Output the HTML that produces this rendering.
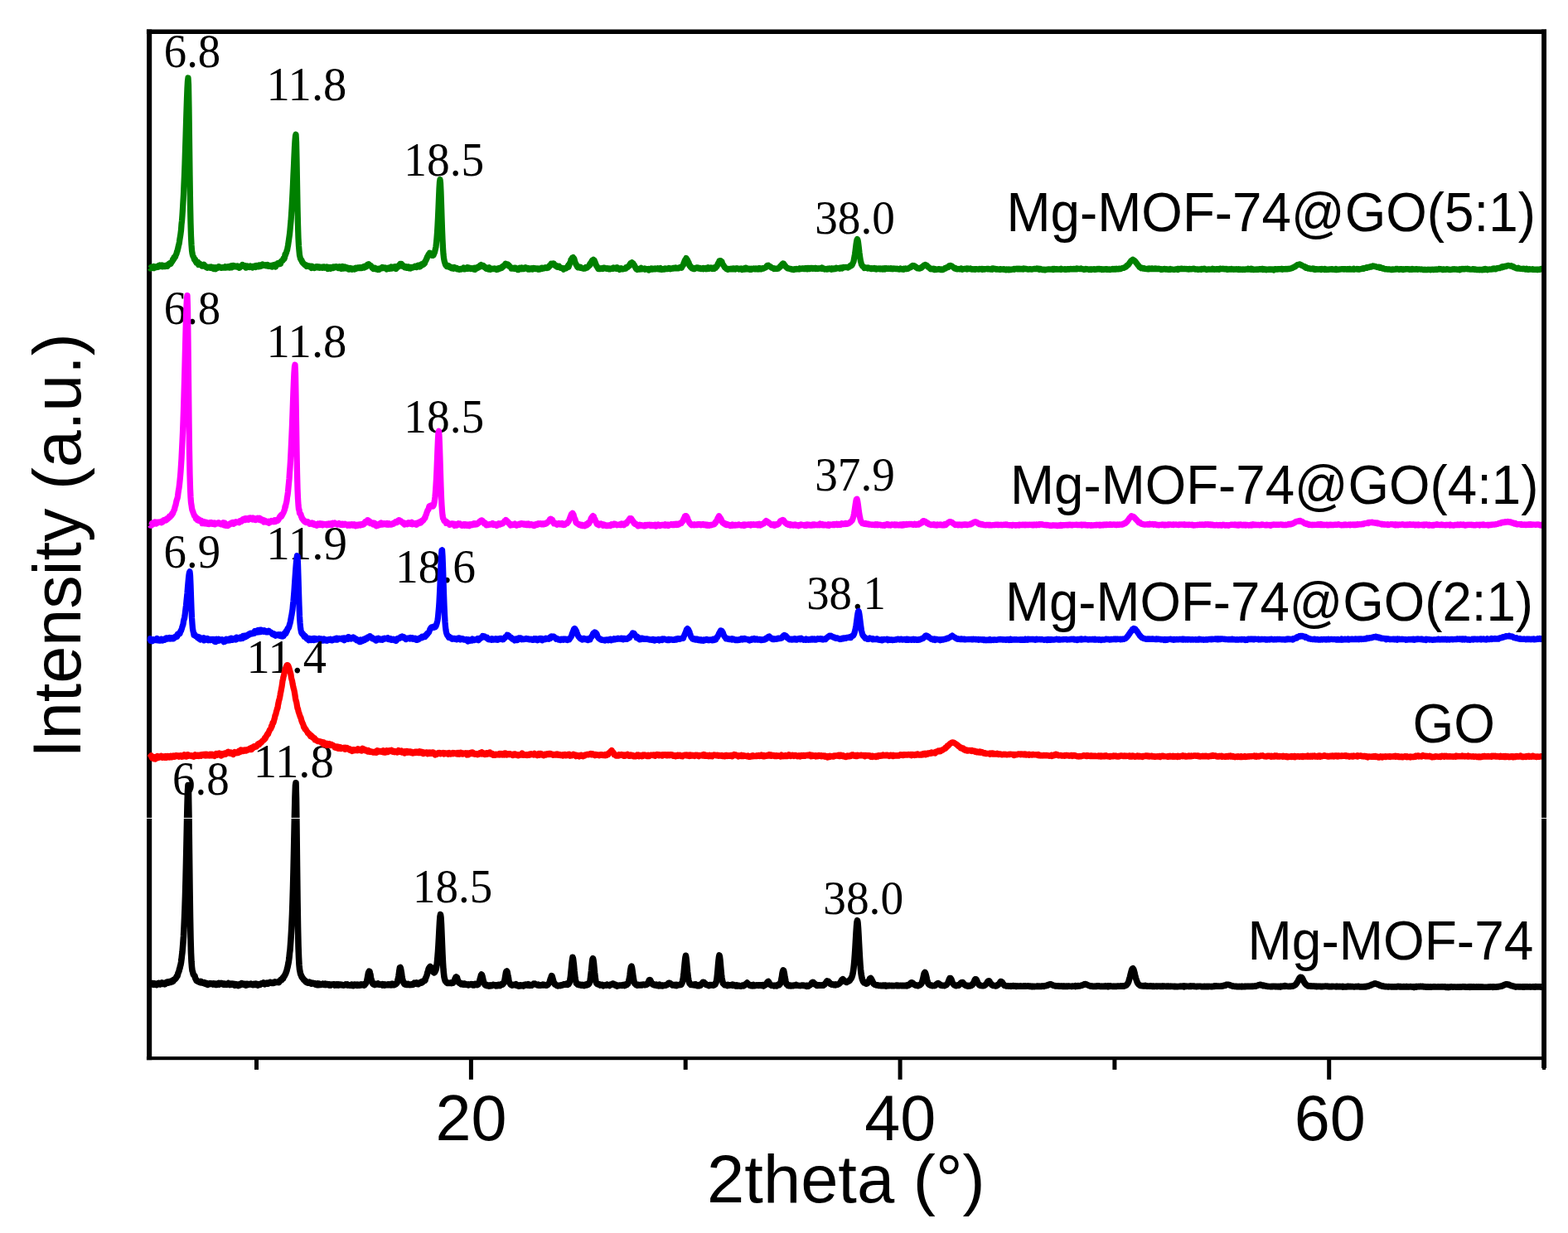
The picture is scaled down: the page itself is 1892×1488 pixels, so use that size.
<!DOCTYPE html>
<html lang="en"><head><meta charset="utf-8"><title>XRD patterns</title>
<style>html,body{margin:0;padding:0;background:#fff}body{width:1892px;height:1488px;overflow:hidden}svg{display:block}</style>
</head><body>
<svg xmlns="http://www.w3.org/2000/svg" width="<function W at 0x7f1a8ab4e2a0>" height="1488" viewBox="0 0 <function W at 0x7f1a8ab4e2a0> 1488">
<rect width="<function W at 0x7f1a8ab4e2a0>" height="1488" fill="#fff"/>
<g id="axes" fill="#000">
<rect x="177.1" y="35.5" width="6.1" height="1243.7"/>
<rect x="176.9" y="35.5" width="1689.1" height="5.5"/>
<rect x="176.9" y="1275" width="1689.1" height="4.2"/>
<rect x="307.0" y="1277" width="5" height="13.9"/>
<rect x="565.9" y="1277" width="5" height="25.8"/>
<rect x="824.7" y="1277" width="5" height="13.9"/>
<rect x="1083.6" y="1277" width="5" height="25.8"/>
<rect x="1342.4" y="1277" width="5" height="13.9"/>
<rect x="1601.2" y="1277" width="5" height="25.8"/>
</g>
<g id="axis-labels" font-family="'Liberation Sans', 'DejaVu Sans', sans-serif" fill="#000">
<text x="568.6" y="1376.1" font-size="77.3" text-anchor="middle">20</text>
<text x="1086.3" y="1376.1" font-size="77.3" text-anchor="middle">40</text>
<text x="1604.8" y="1376.1" font-size="77.3" text-anchor="middle">60</text>
<text transform="translate(853.03 1451.3) scale(0.9923 1)" font-size="82.0">2theta (°)</text>
<text transform="translate(96.5 914.68) rotate(-90) scale(0.9861 1)" font-size="82.0">Intensity (a.u.)</text>
</g>
<g id="green">
<g font-family="'Liberation Serif', 'DejaVu Serif', serif" fill="#000">
<text transform="translate(197.81 80.5) scale(0.9426 1)" font-size="58.03">6.8</text>
<text transform="translate(321.39 121.1) scale(0.9754 1)" font-size="58.03">11.8</text>
<text transform="translate(487.29 211.8) scale(0.9544 1)" font-size="58.03">18.5</text>
<text transform="translate(983.24 282.0) scale(0.9509 1)" font-size="58.03">38.0</text>
</g>
<g font-family="'Liberation Sans', 'DejaVu Sans', sans-serif" fill="#000"><text transform="translate(1214.5 279.3) scale(0.9604 1)" font-size="66.38">Mg-MOF-74@GO(5:1)</text></g>
<path fill="none" stroke="#008000" stroke-width="7.3" stroke-linejoin="round" d="M181 323.2l.5 .7 .5 -.3 .5 -1.3 .5 0 .5 -.2 .5 .7 .5 -.4 .5 .6 .5 -1.6 .5 2.2 .5 -1.1 .5 .5 .5 -.7 .5 -.3 .5 .4 .5 .1 .5 -.8 .5 -.1 .5 .5 .5 -1 .5 -.5 .5 1.2 .5 -.8 .5 -.9 .5 .6 .5 .2 .5 -.6 .5 -.2 .5 .9 .5 .6 .5 -.8 .5 -.3 .5 .8 .5 .2 .5 -.7 .5 .6 .5 .2 .5 -.8 .5 -.5 .5 .7 .5 -.2 .5 .4 .5 -1.7 .5 .1 .5 -.4 .5 -1 .5 .8 .5 -.2 .5 -1.3 .5 .8 .5 -1 .5 -.8 .5 -.8 .5 -.3 .5 -2.2 .5 .5 .5 -.7 .5 -2.2 .5 .6 .5 -1.2 .5 -.3 .5 -1.8 .5 -.9 .5 -1.1 .5 -2.3 .5 -.8 .5 -2.4 .5 -1.7 .5 -2.8 .5 -1.5 .5 -3 .5 -3.5 .5 -2.9 .5 -3.5 .5 -4 .5 -7 .5 -4.1 .5 -6.8 .5 -7.7 .5 -9 .5 -8.1 .5 -12.4 .5 -11.1 .5 -13.1 .5 -16.3 .5 -15.3 .5 -16.8 .5 -15.8 .5 -14.9 .5 -12.6 .5 -9 .5 -3.7 .5 8.2 .5 29.6 .5 39.7 .5 39.2 .5 33.5 .5 24.5 .5 16.5 .5 10.1 .5 6.8 .5 3.6 .5 2.1 .5 1.5 .5 .5 .5 1.5 .5 1.9 .5 -.1 .5 0 .5 2.4 .5 .1 .5 1.5 .5 -.8 .5 .1 .5 -.2 .5 2.1 .5 1.1 .5 -1.8 .5 .4 .5 1.1 .5 -.5 .5 .7 .5 .3 .5 .6 .5 .7 .5 -.6 .5 .7 .5 -.8 .5 .5 .5 -1.5 .5 .6 .5 1.5 .5 -.6 .5 1 .5 .3 .5 .8 .5 0 .5 .4 .5 -.5 .5 -.2 .5 0 .5 .2 .5 -.4 .5 .4 .5 .3 .5 .3 .5 -.3 .5 -1 .5 1.2 .5 .2 .5 .5 .5 -.4 .5 -.7 .5 -.1 .5 1.7 .5 -.7 .5 .7 .5 .2 .5 -1.8 .5 .8 .5 0 .5 0 .5 -.1 .5 -.4 .5 -.2 .5 -1.1 .5 .8 .5 -.4 .5 .6 .5 -.3 .5 .7 .5 .2 .5 -.3 .5 0 .5 -.1 .5 -.4 .5 .2 .5 -.3 .5 .5 .5 -.3 .5 .3 .5 -1.2 .5 1.3 .5 -1 .5 0 .5 .3 .5 -.3 .5 .5 .5 -.5 .5 -.4 .5 .1 .5 1.3 .5 -.8 .5 -.9 .5 .6 .5 -1 .5 1.9 .5 -2.1 .5 1.1 .5 -.1 .5 -1.3 .5 .9 .5 .4 .5 -.5 .5 -.2 .5 .5 .5 -.4 .5 .2 .5 -.1 .5 .6 .5 -.7 .5 1.2 .5 -.6 .5 -.3 .5 .9 .5 .8 .5 -.6 .5 -1.1 .5 .5 .5 -.9 .5 -.1 .5 0 .5 -1.5 .5 1.5 .5 -.7 .5 .3 .5 -.3 .5 .2 .5 .5 .5 1.3 .5 .6 .5 -.9 .5 .8 .5 -.8 .5 -1 .5 1.2 .5 .1 .5 -.5 .5 .4 .5 .2 .5 -.9 .5 -.4 .5 .8 .5 -.1 .5 -.1 .5 .8 .5 .4 .5 -1.4 .5 .6 .5 .1 .5 -.3 .5 .1 .5 -.9 .5 .5 .5 .7 .5 -.8 .5 -1 .5 .7 .5 .4 .5 -.6 .5 -.5 .5 1.3 .5 -1.7 .5 1.1 .5 -.4 .5 -.8 .5 1.4 .5 -.6 .5 -1 .5 1 .5 -.7 .5 -1 .5 .6 .5 .5 .5 .1 .5 -.3 .5 -.1 .5 .3 .5 -.4 .5 .9 .5 -.6 .5 .2 .5 .2 .5 -.9 .5 .2 .5 1.4 .5 -.6 .5 -.2 .5 .5 .5 -.3 .5 .7 .5 -.4 .5 .7 .5 -1.1 .5 1.6 .5 -1.2 .5 -.8 .5 .6 .5 -.3 .5 .1 .5 -.9 .5 .8 .5 1.7 .5 -3 .5 .8 .5 -.6 .5 0 .5 -1.5 .5 .1 .5 .6 .5 -.6 .5 .7 .5 -1.7 .5 .2 .5 1.3 .5 -2.6 .5 -.6 .5 0 .5 -.6 .5 -.2 .5 -1.1 .5 -1.3 .5 -.2 .5 .5 .5 -1.7 .5 -3.4 .5 .4 .5 -1.8 .5 -.8 .5 -2.3 .5 -.8 .5 -2.9 .5 -2.6 .5 -3.4 .5 -3.4 .5 -3.5 .5 -3.6 .5 -5 .5 -5.8 .5 -5 .5 -7.3 .5 -7.7 .5 -8.9 .5 -9.4 .5 -10.5 .5 -12 .5 -10.3 .5 -11.7 .5 -10.7 .5 -8.4 .5 -5.7 .5 -1.9 .5 8.9 .5 22.8 .5 28.2 .5 27.2 .5 22.1 .5 15.9 .5 9.4 .5 6 .5 5.2 .5 2.1 .5 2.2 .5 .7 .5 1.2 .5 0 .5 1.9 .5 .2 .5 1.2 .5 .6 .5 .2 .5 .7 .5 .3 .5 .7 .5 .2 .5 -.4 .5 .2 .5 1.5 .5 -.9 .5 .8 .5 -.1 .5 -.4 .5 .1 .5 .7 .5 .2 .5 .4 .5 -.8 .5 .5 .5 .4 .5 1.1 .5 -2.1 .5 1.6 .5 -.5 .5 .5 .5 -.5 .5 .4 .5 .6 .5 -.8 .5 0 .5 -.1 .5 -.6 .5 .7 .5 -.5 .5 -.3 .5 .5 .5 -.1 .5 .6 .5 -.4 .5 -.3 .5 1.1 .5 -.3 .5 .2 .5 -.4 .5 -.3 .5 -.2 .5 .2 .5 .8 .5 -.4 .5 -.8 .5 .9 .5 -.7 .5 .9 .5 -.7 .5 0 .5 .7 .5 -.1 .5 -.8 .5 1.3 .5 .9 .5 -2 .5 1.9 .5 -1.3 .5 .1 .5 .2 .5 -.7 .5 1.6 .5 -.4 .5 -.7 .5 .2 .5 -.8 .5 .5 .5 .5 .5 -1.6 .5 .5 .5 .2 .5 .3 .5 0 .5 -1 .5 -.2 .5 .6 .5 -.3 .5 .1 .5 .8 .5 .5 .5 -.7 .5 -.1 .5 .5 .5 -1.2 .5 1.1 .5 -.6 .5 2 .5 -1 .5 -.3 .5 -.2 .5 -1.3 .5 1.7 .5 .5 .5 -1.3 .5 .7 .5 0 .5 -1.2 .5 1.4 .5 .4 .5 -.4 .5 0 .5 .7 .5 -1.1 .5 1.1 .5 .8 .5 -1.1 .5 1.3 .5 -.7 .5 -.8 .5 1.1 .5 -.5 .5 .7 .5 -.9 .5 1.2 .5 -1 .5 .6 .5 -.6 .5 .1 .5 .7 .5 -.6 .5 -.4 .5 -.6 .5 1.1 .5 -.4 .5 -.7 .5 .2 .5 -.8 .5 0 .5 0 .5 .7 .5 -.1 .5 -.6 .5 .8 .5 0 .5 -.4 .5 .3 .5 -.8 .5 -.1 .5 .2 .5 -.3 .5 .3 .5 -1.1 .5 1.4 .5 -1.3 .5 .2 .5 -.8 .5 .8 .5 0 .5 -.5 .5 -.5 .5 -1.7 .5 .1 .5 -.1 .5 -.4 .5 1.2 .5 -.3 .5 .3 .5 .8 .5 -.2 .5 .6 .5 .6 .5 1.3 .5 .3 .5 .5 .5 .5 .5 -1.2 .5 .5 .5 .4 .5 -.8 .5 .5 .5 .9 .5 .1 .5 .1 .5 -.4 .5 -.1 .5 .8 .5 -.8 .5 .3 .5 .4 .5 -1.1 .5 -.3 .5 .2 .5 .1 .5 -.2 .5 -.3 .5 .1 .5 -1.2 .5 .4 .5 .6 .5 -.5 .5 -.2 .5 .2 .5 .2 .5 .5 .5 -.4 .5 .8 .5 .8 .5 -1 .5 .8 .5 -.5 .5 -.8 .5 .4 .5 -.4 .5 .8 .5 -1.2 .5 1.1 .5 -.6 .5 -1.5 .5 1.4 .5 .4 .5 -1.2 .5 1 .5 -1.4 .5 1.1 .5 -.9 .5 1.2 .5 -1.2 .5 -.5 .5 1.6 .5 .8 .5 -1.7 .5 .5 .5 -.7 .5 -.6 .5 .1 .5 0 .5 -2 .5 .4 .5 -.6 .5 -1.3 .5 1.3 .5 .1 .5 -1.3 .5 1.7 .5 -.5 .5 .4 .5 1.4 .5 -.2 .5 .4 .5 1 .5 .1 .5 0 .5 -1 .5 -.1 .5 1.5 .5 -1 .5 .5 .5 -.6 .5 .5 .5 -.5 .5 1.6 .5 -1.3 .5 .5 .5 .1 .5 .8 .5 -1.4 .5 .7 .5 -.1 .5 .2 .5 -.2 .5 -.7 .5 .2 .5 -.5 .5 .2 .5 -.4 .5 -.5 .5 .2 .5 .1 .5 .9 .5 -1.4 .5 .3 .5 .6 .5 -1.8 .5 .1 .5 .2 .5 .4 .5 1.1 .5 -1.2 .5 .3 .5 -1 .5 -1.3 .5 -.2 .5 1.5 .5 -.7 .5 -1 .5 .8 .5 -1.8 .5 .8 .5 -.6 .5 -2 .5 -1.1 .5 -.1 .5 -2.1 .5 -.2 .5 -2.2 .5 -.1 .5 -1.4 .5 -1.1 .5 -.9 .5 .1 .5 -1.3 .5 .8 .5 .2 .5 .8 .5 -.6 .5 1.8 .5 -.8 .5 -.3 .5 1.2 .5 -.1 .5 -1.5 .5 -1.3 .5 -.9 .5 -2.2 .5 -2.3 .5 -2.3 .5 -4.7 .5 -5.5 .5 -6.5 .5 -8.4 .5 -9.6 .5 -11.4 .5 -12.3 .5 -11.3 .5 -8.4 .5 -3 .5 4.2 .5 11.1 .5 14.9 .5 15.7 .5 15.2 .5 11.9 .5 9.8 .5 7.3 .5 4.6 .5 2.9 .5 2.1 .5 1.4 .5 1.8 .5 -.3 .5 .6 .5 1.6 .5 -1 .5 1.3 .5 .1 .5 -.5 .5 -.4 .5 1.1 .5 .4 .5 .4 .5 -.2 .5 .7 .5 .3 .5 -1.1 .5 1.3 .5 -.5 .5 -.3 .5 .1 .5 1.1 .5 -.3 .5 -1.3 .5 1 .5 .1 .5 .1 .5 0 .5 -.3 .5 1.3 .5 -.8 .5 .4 .5 .1 .5 0 .5 .8 .5 -.2 .5 -.5 .5 -.3 .5 .1 .5 .6 .5 -.6 .5 0 .5 -.4 .5 -.1 .5 .2 .5 -1 .5 1.7 .5 -1.2 .5 .1 .5 .9 .5 -.7 .5 -.1 .5 -.4 .5 -.6 .5 .8 .5 .5 .5 -1.1 .5 1.2 .5 -1.2 .5 .3 .5 .7 .5 0 .5 .5 .5 -.5 .5 0 .5 -.3 .5 .4 .5 .1 .5 -.2 .5 .8 .5 -.6 .5 -.8 .5 2 .5 -1.8 .5 -.3 .5 1 .5 -.2 .5 -1.3 .5 -.4 .5 0 .5 .7 .5 -1 .5 -.6 .5 0 .5 .3 .5 -1.6 .5 .2 .5 -.7 .5 1.6 .5 -.1 .5 -.2 .5 -.2 .5 .7 .5 -.9 .5 1.6 .5 -.4 .5 .4 .5 .7 .5 .5 .5 .7 .5 .2 .5 -.1 .5 -.5 .5 .8 .5 -.3 .5 .6 .5 -1 .5 -.9 .5 1.1 .5 1.3 .5 -.8 .5 -.3 .5 .6 .5 -.1 .5 0 .5 -.4 .5 .2 .5 .1 .5 -.4 .5 -.3 .5 .5 .5 .4 .5 -.2 .5 -.1 .5 0 .5 .9 .5 -1.2 .5 .3 .5 .3 .5 -1.1 .5 0 .5 .3 .5 .2 .5 -.7 .5 0 .5 -.2 .5 -.8 .5 .9 .5 -.8 .5 -1 .5 .4 .5 -1.2 .5 -.2 .5 -.1 .5 -1 .5 .4 .5 -1.6 .5 .4 .5 -.1 .5 .4 .5 -.1 .5 0 .5 .4 .5 .5 .5 1.1 .5 -.3 .5 1.1 .5 .2 .5 .6 .5 .2 .5 1.4 .5 -1 .5 .6 .5 .2 .5 .2 .5 0 .5 0 .5 .2 .5 -1.1 .5 .7 .5 -.5 .5 .8 .5 -.5 .5 .2 .5 .6 .5 .8 .5 -.3 .5 -.1 .5 .4 .5 -1.2 .5 -.7 .5 .6 .5 -.2 .5 .5 .5 .3 .5 -1.7 .5 1.6 .5 -.4 .5 -.3 .5 -.2 .5 .9 .5 -1 .5 -.3 .5 .3 .5 -.6 .5 .9 .5 -.2 .5 .4 .5 .1 .5 -.5 .5 1.3 .5 -1 .5 1 .5 -1 .5 1 .5 -.5 .5 .4 .5 -.3 .5 -.6 .5 .4 .5 .5 .5 .2 .5 -1.1 .5 -.4 .5 .4 .5 .2 .5 -.2 .5 -.2 .5 .8 .5 .1 .5 0 .5 -.6 .5 .6 .5 -.1 .5 -.5 .5 1.1 .5 -.5 .5 -.3 .5 .7 .5 -.4 .5 0 .5 0 .5 -.3 .5 -.9 .5 .3 .5 .5 .5 -.9 .5 .3 .5 0 .5 .3 .5 -.2 .5 -.3 .5 -.6 .5 .4 .5 -.2 .5 -.3 .5 .6 .5 -.4 .5 -.6 .5 .7 .5 -.9 .5 0 .5 -1.3 .5 .2 .5 -1 .5 -.6 .5 -1 .5 1.3 .5 -1.4 .5 -.1 .5 .3 .5 -.4 .5 .6 .5 -.3 .5 1.1 .5 .3 .5 .9 .5 .3 .5 -.4 .5 .1 .5 .6 .5 1 .5 0 .5 0 .5 -.9 .5 -.2 .5 1.1 .5 .3 .5 .1 .5 .7 .5 0 .5 -.3 .5 .3 .5 .6 .5 0 .5 0 .5 1.1 .5 -1.1 .5 .2 .5 -.6 .5 .2 .5 .2 .5 -.1 .5 -.6 .5 -.1 .5 -.4 .5 -1.3 .5 -1.1 .5 1.8 .5 -1.4 .5 -1.3 .5 -1.8 .5 -1 .5 -.2 .5 -3.2 .5 -.3 .5 -.7 .5 -1.2 .5 -.1 .5 -.3 .5 1.6 .5 -.5 .5 1.1 .5 2.1 .5 1.9 .5 .7 .5 1.7 .5 .3 .5 .6 .5 1.8 .5 .5 .5 .3 .5 -.6 .5 -.1 .5 .1 .5 .5 .5 .5 .5 .1 .5 -.6 .5 .8 .5 .1 .5 .1 .5 .1 .5 0 .5 .4 .5 -.2 .5 0 .5 -.5 .5 .4 .5 -.4 .5 -1 .5 .9 .5 -.6 .5 .2 .5 -.8 .5 -.4 .5 -.2 .5 -.6 .5 -.7 .5 -1.3 .5 .8 .5 -2.3 .5 -.5 .5 -.6 .5 -1.1 .5 -.8 .5 -.6 .5 -.2 .5 -.4 .5 1.5 .5 -.8 .5 1.5 .5 1 .5 1.1 .5 1.5 .5 1.6 .5 .1 .5 .9 .5 1.3 .5 .6 .5 1 .5 0 .5 -.2 .5 -.1 .5 .3 .5 -.2 .5 -.6 .5 .5 .5 -.3 .5 -.1 .5 -.3 .5 .8 .5 -.5 .5 0 .5 -.7 .5 -.1 .5 .3 .5 .3 .5 -.1 .5 .2 .5 .6 .5 -.2 .5 -.4 .5 .3 .5 0 .5 .5 .5 -.5 .5 .4 .5 .4 .5 -.3 .5 -.5 .5 0 .5 .2 .5 0 .5 0 .5 -.5 .5 -.6 .5 1.1 .5 -.6 .5 .1 .5 0 .5 -.5 .5 .3 .5 .4 .5 .4 .5 -.3 .5 -1.3 .5 1.2 .5 .3 .5 .5 .5 -.2 .5 .7 .5 -.4 .5 0 .5 -.2 .5 -.9 .5 1 .5 -.1 .5 -.4 .5 .5 .5 -.1 .5 -.3 .5 0 .5 -.1 .5 .1 .5 -.5 .5 .2 .5 -1.2 .5 .4 .5 -.9 .5 0 .5 0 .5 -.7 .5 -.6 .5 -.5 .5 0 .5 -1.7 .5 .1 .5 -1.5 .5 -.1 .5 -.1 .5 -.5 .5 .6 .5 .7 .5 -.2 .5 1.2 .5 .7 .5 .3 .5 1.5 .5 .5 .5 1.5 .5 -.3 .5 1.4 .5 -.5 .5 1.2 .5 -.5 .5 .1 .5 .1 .5 0 .5 .1 .5 0 .5 -.9 .5 -.3 .5 -.6 .5 .9 .5 .5 .5 -.1 .5 0 .5 -.2 .5 0 .5 .1 .5 .3 .5 -.8 .5 1 .5 -.9 .5 .6 .5 -.2 .5 .2 .5 -.2 .5 0 .5 .4 .5 -.4 .5 1.4 .5 -1.1 .5 -.1 .5 0 .5 -.2 .5 -.6 .5 .9 .5 .2 .5 -.7 .5 .5 .5 -.5 .5 .4 .5 .1 .5 -.1 .5 -.1 .5 -.5 .5 .5 .5 -.5 .5 .3 .5 .1 .5 -.4 .5 -.3 .5 .7 .5 -.6 .5 .1 .5 -.1 .5 .8 .5 -.4 .5 -.7 .5 1.2 .5 .5 .5 0 .5 -.9 .5 .2 .5 .2 .5 .2 .5 -.4 .5 -.4 .5 .7 .5 -.1 .5 -.8 .5 .3 .5 .2 .5 -.2 .5 .2 .5 0 .5 -.2 .5 -.3 .5 -.6 .5 .7 .5 .3 .5 .2 .5 -.8 .5 0 .5 .5 .5 0 .5 -.4 .5 .1 .5 -.6 .5 .5 .5 -.5 .5 .3 .5 0 .5 -.2 .5 -.6 .5 .5 .5 .4 .5 -.2 .5 -.2 .5 .2 .5 .1 .5 0 .5 -.7 .5 .2 .5 -.2 .5 -.3 .5 -.3 .5 .3 .5 -.5 .5 .8 .5 -1.4 .5 -.7 .5 -.9 .5 -.2 .5 -2.3 .5 -1 .5 -1.5 .5 -1 .5 -1 .5 -.3 .5 -1.2 .5 .8 .5 1.2 .5 .2 .5 1.4 .5 1 .5 .7 .5 2.1 .5 1.5 .5 .3 .5 .2 .5 1.4 .5 .4 .5 .7 .5 .3 .5 -.2 .5 .4 .5 -.7 .5 1.2 .5 -.3 .5 .4 .5 -.1 .5 -.6 .5 0 .5 -.4 .5 -.5 .5 .6 .5 .1 .5 -.5 .5 .7 .5 -.2 .5 .3 .5 -.4 .5 -.2 .5 1 .5 .1 .5 -.3 .5 -.1 .5 .1 .5 0 .5 -.1 .5 -.5 .5 1 .5 -.8 .5 .4 .5 0 .5 .2 .5 -.7 .5 1 .5 -.2 .5 0 .5 .1 .5 -.9 .5 -.9 .5 1.2 .5 .3 .5 -.1 .5 -.7 .5 .2 .5 .1 .5 -.8 .5 .5 .5 0 .5 .8 .5 -.8 .5 .7 .5 -.6 .5 -.6 .5 1.3 .5 -1.3 .5 .4 .5 0 .5 -1.2 .5 -.8 .5 .1 .5 -1.2 .5 -1.4 .5 -1 .5 -.9 .5 -.6 .5 -1.4 .5 -.3 .5 0 .5 0 .5 .5 .5 .7 .5 0 .5 2.1 .5 .8 .5 .8 .5 .6 .5 .7 .5 .9 .5 .9 .5 .1 .5 .6 .5 .3 .5 .8 .5 -.2 .5 .2 .5 .7 .5 -.5 .5 .3 .5 -.5 .5 .4 .5 -.1 .5 0 .5 -.3 .5 -.3 .5 .2 .5 -.1 .5 .5 .5 0 .5 -.8 .5 .7 .5 -.4 .5 .3 .5 -.3 .5 -.3 .5 .9 .5 -.3 .5 -.6 .5 -.2 .5 .4 .5 -.2 .5 .3 .5 .3 .5 .3 .5 -.6 .5 .6 .5 0 .5 -.5 .5 -.3 .5 .9 .5 -.1 .5 .6 .5 -.4 .5 -.2 .5 .2 .5 -1 .5 .3 .5 -.2 .5 .6 .5 -.4 .5 -1.2 .5 1.5 .5 -.7 .5 .6 .5 -.3 .5 .3 .5 .2 .5 -.1 .5 -.4 .5 .8 .5 -.3 .5 -.1 .5 .2 .5 -.5 .5 .8 .5 -.6 .5 0 .5 0 .5 -.5 .5 -.1 .5 .4 .5 .1 .5 .3 .5 -.3 .5 -.5 .5 .6 .5 .1 .5 .1 .5 -.2 .5 -.5 .5 .8 .5 -.7 .5 .4 .5 -.7 .5 .7 .5 -.5 .5 .6 .5 .2 .5 -.2 .5 -.8 .5 -.1 .5 -.1 .5 .4 .5 -.3 .5 -.2 .5 -.2 .5 -.2 .5 -.3 .5 -.1 .5 -.9 .5 -.3 .5 -1.1 .5 -.1 .5 .1 .5 -.2 .5 .6 .5 .5 .5 -.2 .5 .4 .5 .3 .5 .6 .5 0 .5 .6 .5 .1 .5 .2 .5 .3 .5 -.1 .5 .2 .5 .6 .5 -.4 .5 .4 .5 -.2 .5 -.1 .5 .1 .5 -.1 .5 .2 .5 -.3 .5 -.1 .5 .2 .5 -.7 .5 0 .5 -.7 .5 -.3 .5 -1.1 .5 -.4 .5 .1 .5 -1.2 .5 -.5 .5 -.7 .5 -.1 .5 -.6 .5 .3 .5 .8 .5 .8 .5 .3 .5 .8 .5 .7 .5 .7 .5 .3 .5 .4 .5 .7 .5 -.3 .5 .4 .5 .2 .5 0 .5 .4 .5 -.1 .5 .2 .5 -.1 .5 .2 .5 .5 .5 0 .5 -.1 .5 .3 .5 -.1 .5 0 .5 .3 .5 -.7 .5 .2 .5 -.1 .5 -.2 .5 -.3 .5 .6 .5 -.1 .5 -.1 .5 0 .5 .1 .5 -.3 .5 .3 .5 -.7 .5 .5 .5 -.6 .5 .3 .5 .2 .5 -.5 .5 -.1 .5 .2 .5 -.3 .5 0 .5 .1 .5 .6 .5 -.2 .5 0 .5 -.5 .5 .6 .5 -.6 .5 .5 .5 -.5 .5 .9 .5 -1.2 .5 .9 .5 -.1 .5 -.8 .5 .5 .5 .5 .5 -.1 .5 -.9 .5 .2 .5 -.3 .5 -.1 .5 .1 .5 .7 .5 -.5 .5 -.1 .5 0 .5 .4 .5 .1 .5 -.5 .5 .8 .5 -.8 .5 .3 .5 .2 .5 .3 .5 -.6 .5 .1 .5 .3 .5 -.3 .5 .1 .5 0 .5 -.3 .5 0 .5 .1 .5 -.2 .5 .5 .5 -1 .5 .5 .5 .8 .5 -.1 .5 -.2 .5 .4 .5 .4 .5 -.4 .5 .4 .5 -.2 .5 0 .5 0 .5 .3 .5 -.7 .5 .2 .5 .2 .5 -.6 .5 -.1 .5 .6 .5 -.2 .5 -.1 .5 .1 .5 -.3 .5 1.1 .5 -1.1 .5 .2 .5 -.3 .5 .2 .5 .5 .5 -.5 .5 .1 .5 -.4 .5 .5 .5 -.5 .5 -.5 .5 .5 .5 -.4 .5 .3 .5 -.1 .5 0 .5 0 .5 -.2 .5 -.2 .5 .8 .5 -.3 .5 0 .5 -.2 .5 -.6 .5 .2 .5 .6 .5 -.8 .5 0 .5 -.5 .5 .2 .5 -.1 .5 0 .5 0 .5 -.2 .5 0 .5 .2 .5 .1 .5 -.2 .5 .4 .5 -.6 .5 -.1 .5 -.4 .5 .2 .5 -.8 .5 -.5 .5 -.1 .5 .1 .5 -.9 .5 .2 .5 -1.1 .5 -1.3 .5 -.9 .5 -1.2 .5 -2.8 .5 -2.8 .5 -2.8 .5 -3.6 .5 -4 .5 -4.1 .5 -3.4 .5 -2.5 .5 -.9 .5 1.1 .5 2.8 .5 3.9 .5 4.3 .5 4.5 .5 3.7 .5 3.4 .5 3 .5 1.8 .5 2 .5 .7 .5 1 .5 .6 .5 .3 .5 .5 .5 .5 .5 .8 .5 -1 .5 .6 .5 0 .5 -.1 .5 .4 .5 -.3 .5 .3 .5 .4 .5 -.8 .5 .7 .5 .1 .5 -.3 .5 .5 .5 .1 .5 -.1 .5 .5 .5 -.7 .5 .6 .5 -.3 .5 -.2 .5 .2 .5 -.1 .5 .3 .5 -.6 .5 .4 .5 0 .5 .6 .5 -.6 .5 .7 .5 -.7 .5 .5 .5 -.1 .5 .1 .5 -.3 .5 -.4 .5 .1 .5 .7 .5 -.3 .5 -.3 .5 .5 .5 -.4 .5 .1 .5 -.1 .5 .6 .5 .2 .5 -.8 .5 .3 .5 .1 .5 .3 .5 -1.2 .5 .6 .5 .1 .5 -.6 .5 .5 .5 -.1 .5 .1 .5 -.3 .5 .2 .5 -.3 .5 .4 .5 -.2 .5 -.1 .5 -.2 .5 .8 .5 -.1 .5 -.1 .5 -.4 .5 .1 .5 .6 .5 -.2 .5 -.5 .5 .3 .5 0 .5 0 .5 -.2 .5 .6 .5 -.1 .5 -.2 .5 -.3 .5 .3 .5 .2 .5 .3 .5 -.3 .5 .4 .5 -.2 .5 -.2 .5 -.5 .5 .4 .5 0 .5 .3 .5 0 .5 .2 .5 -.4 .5 -.3 .5 .8 .5 -.6 .5 -.2 .5 0 .5 -.3 .5 .5 .5 -.1 .5 .3 .5 -.2 .5 -.2 .5 0 .5 -.5 .5 -.2 .5 -.1 .5 -.5 .5 .1 .5 -.4 .5 0 .5 -.6 .5 -.8 .5 .2 .5 0 .5 -1 .5 .1 .5 .2 .5 -.2 .5 .4 .5 .5 .5 .1 .5 .8 .5 .4 .5 -.1 .5 .6 .5 .5 .5 -.2 .5 .3 .5 .1 .5 -.3 .5 .3 .5 -.2 .5 -.5 .5 .2 .5 -.2 .5 -.3 .5 -.8 .5 -.2 .5 -.2 .5 -.8 .5 -.2 .5 -.4 .5 -.7 .5 0 .5 -.2 .5 .4 .5 0 .5 .3 .5 .5 .5 .5 .5 .6 .5 .5 .5 0 .5 .5 .5 .6 .5 .4 .5 .1 .5 .8 .5 -.2 .5 -.2 .5 .3 .5 .3 .5 -.2 .5 -.4 .5 .5 .5 .1 .5 .6 .5 -.8 .5 .8 .5 -.4 .5 .3 .5 -.4 .5 .1 .5 .1 .5 -.3 .5 .2 .5 -.3 .5 -.1 .5 .1 .5 0 .5 .1 .5 .5 .5 -.5 .5 -.1 .5 .4 .5 .4 .5 -.2 .5 0 .5 -.2 .5 -.6 .5 0 .5 -.9 .5 .3 .5 0 .5 -.7 .5 -.4 .5 -.2 .5 .1 .5 -.1 .5 0 .5 -.6 .5 -1 .5 -.4 .5 .3 .5 .1 .5 -.6 .5 .3 .5 .2 .5 .3 .5 .2 .5 .5 .5 .4 .5 .2 .5 .4 .5 .6 .5 -.4 .5 .3 .5 .6 .5 .5 .5 -.2 .5 .3 .5 -.3 .5 .3 .5 -.3 .5 .3 .5 -.1 .5 0 .5 .2 .5 -.1 .5 -.4 .5 .4 .5 -.6 .5 .6 .5 .4 .5 -.5 .5 .1 .5 -.1 .5 .1 .5 -.2 .5 .2 .5 -.2 .5 0 .5 .1 .5 -.1 .5 -.4 .5 .8 .5 -.5 .5 -.4 .5 .6 .5 -.2 .5 .1 .5 .2 .5 -.3 .5 -.4 .5 .6 .5 .2 .5 .2 .5 -.4 .5 .2 .5 .2 .5 -.2 .5 0 .5 .1 .5 -.2 .5 .5 .5 -.6 .5 .2 .5 -.1 .5 -.1 .5 .2 .5 .1 .5 .1 .5 -.2 .5 -.2 .5 .3 .5 -.5 .5 .3 .5 .1 .5 0 .5 -.3 .5 0 .5 .7 .5 -.5 .5 -.2 .5 .1 .5 .2 .5 .2 .5 -.3 .5 .2 .5 -.3 .5 0 .5 .1 .5 -.3 .5 .1 .5 -.1 .5 0 .5 .4 .5 -.3 .5 .3 .5 -.1 .5 .2 .5 -.1 .5 .3 .5 -.2 .5 -.1 .5 .3 .5 -1 .5 .3 .5 -.4 .5 .5 .5 .1 .5 0 .5 -.1 .5 -.1 .5 .6 .5 -.3 .5 0 .5 -.1 .5 .4 .5 -.1 .5 .1 .5 .1 .5 0 .5 -.2 .5 .4 .5 -.5 .5 -.1 .5 .3 .5 0 .5 0 .5 -.1 .5 .1 .5 -.1 .5 -.2 .5 .5 .5 -.3 .5 .1 .5 .2 .5 -.1 .5 .6 .5 -.8 .5 .1 .5 .2 .5 .3 .5 -.3 .5 -.2 .5 .6 .5 -.4 .5 .1 .5 .3 .5 -.4 .5 .1 .5 .1 .5 -.2 .5 0 .5 -.3 .5 .1 .5 -.3 .5 -.2 .5 .6 .5 -.3 .5 0 .5 -.4 .5 .2 .5 -.1 .5 -.2 .5 .4 .5 -.2 .5 .1 .5 -.3 .5 .5 .5 -.1 .5 -.1 .5 -.2 .5 0 .5 .4 .5 -.3 .5 .1 .5 0 .5 -.2 .5 .5 .5 -.7 .5 .4 .5 -.1 .5 -.3 .5 .4 .5 0 .5 0 .5 -.2 .5 .3 .5 .2 .5 -.1 .5 .3 .5 -.1 .5 -.1 .5 .1 .5 -.4 .5 0 .5 .2 .5 0 .5 .2 .5 0 .5 -.2 .5 0 .5 -.1 .5 -.1 .5 -.1 .5 .2 .5 -.3 .5 0 .5 .1 .5 -.2 .5 .1 .5 -.3 .5 .5 .5 0 .5 .1 .5 .1 .5 -.4 .5 .9 .5 -.4 .5 .1 .5 -.4 .5 .5 .5 .1 .5 -.2 .5 .2 .5 .3 .5 -.3 .5 -.1 .5 .5 .5 -.2 .5 -.1 .5 .5 .5 -.4 .5 -.1 .5 0 .5 -.2 .5 0 .5 0 .5 -.3 .5 .1 .5 .1 .5 0 .5 0 .5 .1 .5 -.1 .5 .1 .5 -.2 .5 0 .5 .2 .5 -.6 .5 .4 .5 .6 .5 -1 .5 .6 .5 -.6 .5 .4 .5 .2 .5 0 .5 -.4 .5 0 .5 0 .5 .4 .5 -.2 .5 .1 .5 0 .5 0 .5 0 .5 -.1 .5 -.4 .5 .6 .5 -.8 .5 .8 .5 -.4 .5 .2 .5 -.1 .5 .1 .5 .1 .5 0 .5 -.2 .5 .4 .5 -.3 .5 .4 .5 -.4 .5 -.1 .5 .2 .5 .1 .5 -.4 .5 .1 .5 .3 .5 -.5 .5 0 .5 .2 .5 -.3 .5 -.2 .5 .2 .5 .4 .5 0 .5 0 .5 0 .5 -.4 .5 .4 .5 0 .5 -.4 .5 .3 .5 -.3 .5 0 .5 0 .5 -.4 .5 .5 .5 -.5 .5 .1 .5 -.1 .5 .2 .5 0 .5 0 .5 .3 .5 -.1 .5 -.1 .5 -.4 .5 .6 .5 .1 .5 0 .5 0 .5 .3 .5 .1 .5 .2 .5 -.1 .5 -.4 .5 .2 .5 -.4 .5 .4 .5 -.1 .5 -.2 .5 .1 .5 0 .5 0 .5 .3 .5 .4 .5 -.4 .5 0 .5 -.2 .5 -.1 .5 .5 .5 -.5 .5 .1 .5 0 .5 .1 .5 -.1 .5 .2 .5 -.4 .5 .3 .5 .3 .5 -.5 .5 .1 .5 .3 .5 -.2 .5 .1 .5 -.6 .5 .4 .5 -.3 .5 -.1 .5 .4 .5 .1 .5 -.5 .5 .1 .5 .1 .5 .2 .5 -.2 .5 .7 .5 -.3 .5 -.1 .5 -.1 .5 .5 .5 0 .5 -.6 .5 .1 .5 .2 .5 -.5 .5 .2 .5 .4 .5 -.4 .5 .2 .5 -.2 .5 .2 .5 .3 .5 -.3 .5 -.1 .5 .1 .5 .5 .5 -.4 .5 -.1 .5 .1 .5 0 .5 -.1 .5 -.4 .5 .4 .5 -.1 .5 .1 .5 -.4 .5 .4 .5 -.3 .5 -.3 .5 .5 .5 -.4 .5 .2 .5 -.2 .5 .3 .5 0 .5 0 .5 -.1 .5 -.5 .5 0 .5 .3 .5 -.3 .5 .2 .5 -.2 .5 -.4 .5 -.1 .5 -.2 .5 -.1 .5 -.1 .5 0 .5 -.1 .5 -.6 .5 -.2 .5 .1 .5 -.4 .5 -.5 .5 -.9 .5 -.1 .5 -.2 .5 -.7 .5 0 .5 -1 .5 -.6 .5 -.9 .5 -.7 .5 -.6 .5 -.7 .5 -.5 .5 -.4 .5 -.4 .5 -.1 .5 -.5 .5 .4 .5 .2 .5 .6 .5 .1 .5 .7 .5 .4 .5 .9 .5 .6 .5 .5 .5 .7 .5 .8 .5 .7 .5 .3 .5 1 .5 .3 .5 .9 .5 .3 .5 -.1 .5 .3 .5 .8 .5 -.2 .5 .1 .5 -.1 .5 .2 .5 .3 .5 0 .5 -.2 .5 .5 .5 -.1 .5 -.1 .5 .4 .5 -.1 .5 .3 .5 -.2 .5 .2 .5 -.4 .5 .4 .5 -.4 .5 .3 .5 -.6 .5 .4 .5 .1 .5 -.1 .5 .1 .5 -.4 .5 .5 .5 .1 .5 -.5 .5 .1 .5 .1 .5 .1 .5 .1 .5 -.6 .5 .6 .5 -.2 .5 -.2 .5 .3 .5 -.2 .5 .3 .5 -.1 .5 -.2 .5 .4 .5 0 .5 -.2 .5 -.1 .5 .3 .5 .3 .5 -.2 .5 .5 .5 -.3 .5 -.1 .5 .1 .5 -.3 .5 .1 .5 -.1 .5 -.3 .5 .1 .5 .5 .5 -.1 .5 .1 .5 -.3 .5 .2 .5 .3 .5 -.1 .5 -.1 .5 .4 .5 -.3 .5 -.1 .5 .3 .5 -.6 .5 .5 .5 -.3 .5 0 .5 .1 .5 .1 .5 0 .5 .1 .5 -.1 .5 .3 .5 0 .5 -.2 .5 0 .5 -.3 .5 -.1 .5 .3 .5 -.1 .5 .1 .5 -.5 .5 .8 .5 -.8 .5 .2 .5 .1 .5 -.5 .5 .2 .5 -.3 .5 0 .5 -.1 .5 .4 .5 0 .5 -.2 .5 .3 .5 0 .5 -.3 .5 0 .5 0 .5 0 .5 .3 .5 -.1 .5 -.1 .5 .1 .5 .2 .5 -.2 .5 .2 .5 -.1 .5 .3 .5 0 .5 -.5 .5 .2 .5 .2 .5 -.3 .5 .2 .5 -.1 .5 0 .5 -.2 .5 .1 .5 0 .5 -.4 .5 .2 .5 0 .5 .6 .5 -.2 .5 .1 .5 0 .5 -.1 .5 0 .5 .4 .5 -.2 .5 .3 .5 -.2 .5 -.1 .5 -.1 .5 0 .5 0 .5 .2 .5 .2 .5 -.8 .5 .3 .5 0 .5 -.3 .5 .1 .5 0 .5 -.3 .5 .6 .5 -.1 .5 0 .5 .1 .5 .1 .5 .5 .5 -.4 .5 .1 .5 -.2 .5 .2 .5 -.2 .5 0 .5 -.1 .5 -.1 .5 .3 .5 0 .5 -.1 .5 -.2 .5 .2 .5 -.6 .5 .7 .5 -.2 .5 .1 .5 .2 .5 -.4 .5 .3 .5 -.3 .5 .1 .5 -.2 .5 .1 .5 .2 .5 -.4 .5 0 .5 0 .5 .1 .5 .5 .5 -.7 .5 -.3 .5 .3 .5 -.2 .5 .2 .5 .1 .5 -.2 .5 .1 .5 -.3 .5 .4 .5 -.2 .5 .4 .5 0 .5 -.4 .5 .2 .5 .1 .5 .2 .5 -.4 .5 .4 .5 .4 .5 -.4 .5 .1 .5 0 .5 -.2 .5 .4 .5 -.1 .5 0 .5 0 .5 0 .5 -.5 .5 .4 .5 -.2 .5 .1 .5 -.1 .5 0 .5 .4 .5 -.2 .5 0 .5 .1 .5 .1 .5 0 .5 -.5 .5 .3 .5 .1 .5 .1 .5 .1 .5 -.4 .5 .5 .5 -.3 .5 0 .5 -.1 .5 0 .5 .4 .5 -.3 .5 0 .5 .3 .5 .1 .5 -.6 .5 .2 .5 0 .5 .3 .5 .1 .5 -.5 .5 0 .5 0 .5 .1 .5 -.3 .5 .2 .5 -.3 .5 -.4 .5 .3 .5 .4 .5 .1 .5 -.5 .5 .1 .5 .4 .5 -.7 .5 .8 .5 .1 .5 -.7 .5 .7 .5 -.2 .5 .4 .5 -.2 .5 -.1 .5 .1 .5 .1 .5 -.1 .5 -.1 .5 -.3 .5 .4 .5 -.2 .5 .3 .5 -.4 .5 -.1 .5 -.1 .5 .2 .5 -.2 .5 -.1 .5 .4 .5 0 .5 -.5 .5 -.1 .5 .5 .5 -.4 .5 .8 .5 -.6 .5 .3 .5 -.4 .5 .3 .5 .3 .5 -.1 .5 -.2 .5 .7 .5 -.3 .5 -.2 .5 -.1 .5 .1 .5 .2 .5 -.4 .5 .1 .5 -.2 .5 .4 .5 -.3 .5 .2 .5 0 .5 -.2 .5 .3 .5 .1 .5 -.4 .5 .4 .5 .5 .5 -.8 .5 .2 .5 -.5 .5 .3 .5 -.2 .5 .3 .5 -.2 .5 -.3 .5 .4 .5 -.2 .5 -.2 .5 .2 .5 -.3 .5 .3 .5 -.1 .5 -.1 .5 .2 .5 -.4 .5 .5 .5 -.5 .5 .7 .5 -.3 .5 -.1 .5 -.2 .5 .2 .5 -.2 .5 0 .5 .2 .5 -.3 .5 0 .5 .1 .5 .2 .5 -.3 .5 .1 .5 -.1 .5 .1 .5 0 .5 -.5 .5 0 .5 -.1 .5 0 .5 0 .5 -.4 .5 -.1 .5 0 .5 -.7 .5 -.1 .5 -.2 .5 -.2 .5 -.2 .5 -.5 .5 .1 .5 -.9 .5 -.2 .5 -.1 .5 -.4 .5 -.4 .5 -.1 .5 -.1 .5 -.3 .5 .1 .5 -.3 .5 .3 .5 -.2 .5 .3 .5 .2 .5 .8 .5 -.1 .5 .4 .5 .1 .5 .4 .5 .2 .5 .1 .5 .6 .5 -.3 .5 .7 .5 .7 .5 -.5 .5 .5 .5 -.1 .5 .5 .5 -.1 .5 .6 .5 -.1 .5 -.1 .5 .1 .5 0 .5 .3 .5 .3 .5 -.2 .5 -.1 .5 .1 .5 .2 .5 -.4 .5 .6 .5 0 .5 -.5 .5 .8 .5 -.5 .5 .3 .5 .3 .5 -.5 .5 0 .5 .1 .5 .1 .5 .2 .5 -.1 .5 0 .5 -.1 .5 .1 .5 -.2 .5 .2 .5 -.1 .5 -.2 .5 .6 .5 -.6 .5 .4 .5 -.3 .5 .2 .5 0 .5 .1 .5 .1 .5 -.5 .5 .8 .5 -.5 .5 -.2 .5 0 .5 .7 .5 -.1 .5 -.3 .5 .1 .5 .1 .5 -.3 .5 -.1 .5 0 .5 .1 .5 -.1 .5 -.3 .5 .4 .5 -.4 .5 .2 .5 .4 .5 -.2 .5 .1 .5 0 .5 .2 .5 -.2 .5 -.3 .5 .5 .5 -.7 .5 .3 .5 .7 .5 -.1 .5 -.3 .5 .1 .5 0 .5 .1 .5 -.4 .5 -.1 .5 0 .5 .1 .5 -.1 .5 -.2 .5 .2 .5 -.3 .5 .1 .5 -.1 .5 0 .5 .4 .5 -.3 .5 -.1 .5 .2 .5 -.2 .5 .4 .5 0 .5 0 .5 -.4 .5 .1 .5 .4 .5 -.4 .5 .3 .5 0 .5 -.5 .5 .5 .5 -.1 .5 .1 .5 .2 .5 -.2 .5 -.1 .5 .1 .5 -.2 .5 .1 .5 -.5 .5 .7 .5 -.5 .5 .2 .5 0 .5 0 .5 0 .5 .1 .5 -.4 .5 .3 .5 .3 .5 -.5 .5 0 .5 .6 .5 -.3 .5 0 .5 -.3 .5 0 .5 0 .5 -.1 .5 -.2 .5 -.4 .5 0 .5 -.2 .5 .5 .5 -.5 .5 -.1 .5 0 .5 -.2 .5 0 .5 -.4 .5 -.3 .5 .5 .5 -.5 .5 -.1 .5 -.1 .5 -.1 .5 .1 .5 0 .5 -.5 .5 .2 .5 -.3 .5 .2 .5 -.6 .5 .1 .5 0 .5 -.5 .5 .3 .5 0 .5 -.2 .5 .2 .5 .3 .5 0 .5 0 .5 .1 .5 .3 .5 .3 .5 0 .5 .1 .5 .2 .5 -.5 .5 .2 .5 -.1 .5 .8 .5 -.5 .5 .5 .5 .3 .5 -.2 .5 .2 .5 .3 .5 .3 .5 -.3 .5 .5 .5 .2 .5 0 .5 .1 .5 .3 .5 -.1 .5 0 .5 0 .5 .2 .5 -.1 .5 .2 .5 -.1 .5 .2 .5 -.3 .5 .2 .5 0 .5 .1 .5 .2 .5 -.1 .5 .1 .5 .3 .5 -.2 .5 -.4 .5 0 .5 .4 .5 -.3 .5 .1 .5 -.2 .5 .2 .5 -.1 .5 -.5 .5 .3 .5 -.2 .5 -.2 .5 .4 .5 -.2 .5 .2 .5 .4 .5 -.2 .5 -.1 .5 -.3 .5 -.1 .5 .4 .5 -.3 .5 .1 .5 0 .5 .1 .5 .5 .5 -.5 .5 .1 .5 .1 .5 0 .5 -.3 .5 -.1 .5 .2 .5 0 .5 -.2 .5 0 .5 0 .5 .2 .5 .1 .5 -.3 .5 .3 .5 .3 .5 -.1 .5 -.2 .5 .2 .5 0 .5 .1 .5 -.6 .5 .4 .5 -.3 .5 .2 .5 0 .5 -.2 .5 0 .5 .2 .5 .1 .5 -.2 .5 -.2 .5 .1 .5 .2 .5 .2 .5 -.4 .5 .1 .5 0 .5 0 .5 -.1 .5 .2 .5 .1 .5 .1 .5 0 .5 -.2 .5 .1 .5 0 .5 .4 .5 .1 .5 -.1 .5 .2 .5 -.3 .5 .1 .5 -.2 .5 .3 .5 -.1 .5 .1 .5 0 .5 -.1 .5 -.3 .5 .2 .5 0 .5 0 .5 .1 .5 -.2 .5 0 .5 .4 .5 -.2 .5 -.2 .5 -.2 .5 0 .5 .2 .5 0 .5 .3 .5 -.5 .5 .1 .5 0 .5 .1 .5 -.1 .5 -.2 .5 .4 .5 -.2 .5 .1 .5 -.4 .5 .1 .5 0 .5 -.5 .5 .1 .5 .4 .5 -.1 .5 -.3 .5 .2 .5 0 .5 .2 .5 .4 .5 -.4 .5 .5 .5 -.5 .5 -.1 .5 .4 .5 -.1 .5 .1 .5 .1 .5 -.2 .5 0 .5 -.5 .5 .2 .5 .3 .5 0 .5 .2 .5 -.2 .5 .3 .5 .2 .5 -.3 .5 0 .5 0 .5 0 .5 -.2 .5 -.2 .5 .1 .5 -.1 .5 -.3 .5 .3 .5 -.1 .5 .1 .5 -.2 .5 .3 .5 0 .5 -.2 .5 .3 .5 .2 .5 0 .5 -.3 .5 0 .5 .2 .5 -.3 .5 .6 .5 -.7 .5 -.1 .5 .2 .5 -.2 .5 -.4 .5 .4 .5 -.2 .5 .1 .5 -.2 .5 .1 .5 .2 .5 -.1 .5 -.2 .5 0 .5 0 .5 .1 .5 -.1 .5 -.2 .5 .4 .5 -.2 .5 .3 .5 -.2 .5 .4 .5 0 .5 .1 .5 .1 .5 0 .5 0 .5 0 .5 -.3 .5 .2 .5 -.4 .5 -.1 .5 .4 .5 0 .5 .3 .5 -.2 .5 .2 .5 -.2 .5 .2 .5 .2 .5 0 .5 0 .5 0 .5 -.1 .5 0 .5 -.1 .5 .4 .5 -.2 .5 0 .5 .1 .5 -.2 .5 .3 .5 .1 .5 -.4 .5 -.3 .5 -.2 .5 .6 .5 -.3 .5 -.4 .5 .4 .5 -.6 .5 .3 .5 0 .5 0 .5 -.1 .5 .8 .5 -.5 .5 .1 .5 0 .5 -.3 .5 .1 .5 .2 .5 0 .5 -.3 .5 .1 .5 -.2 .5 .1 .5 -.6 .5 .5 .5 -.2 .5 0 .5 -.5 .5 .3 .5 .2 .5 .2 .5 -.7 .5 -.1 .5 .1 .5 -.1 .5 -.3 .5 -.1 .5 -.1 .5 0 .5 -.1 .5 .1 .5 -.3 .5 -.2 .5 -.3 .5 0 .5 -.5 .5 .5 .5 -.5 .5 .1 .5 -.6 .5 .3 .5 -.3 .5 -.2 .5 -.2 .5 -.2 .5 .4 .5 -.2 .5 -.3 .5 -.1 .5 -.2 .5 -.3 .5 0 .5 .2 .5 .1 .5 -.1 .5 .4 .5 0 .5 0 .5 -.2 .5 .4 .5 .2 .5 0 .5 0 .5 1 .5 0 .5 0 .5 .6 .5 .1 .5 .1 .5 .1 .5 .2 .5 .3 .5 -.1 .5 0 .5 .3 .5 -.6 .5 .6 .5 0 .5 .1 .5 .1 .5 .1 .5 0 .5 0 .5 0 .5 .1 .5 -.1 .5 .3 .5 -.4 .5 .4 .5 .1 .5 -.2 .5 .2 .5 .4 .5 -.2 .5 -.2 .5 -.4 .5 .7 .5 -.1 .5 .1 .5 .3 .5 -.4 .5 0 .5 -.2 .5 .2 .5 0 .5 .2 .5 0 .5 -.3 .5 .1 .5 .3 .5 -.4 .5 .3 .5 .2 .5 -.1 .5 -.1 .5 .3 .5 -.2 .5 0 .5 -.1 .5 .3 .5 -.1 .5 .2 .5 -.3 .5 0 .5 0 .5 .1 .5 -.2 .5 .3 .5 -.2 .5 -.2 .5 -.5 .5 .2 .5 .7"/>
</g>
<g id="magenta">
<g font-family="'Liberation Serif', 'DejaVu Serif', serif" fill="#000">
<text transform="translate(197.81 390.5) scale(0.9426 1)" font-size="58.03">6.8</text>
<text transform="translate(321.39 431.1) scale(0.9754 1)" font-size="58.03">11.8</text>
<text transform="translate(487.19 522.0) scale(0.9555 1)" font-size="58.03">18.5</text>
<text transform="translate(983.24 591.8) scale(0.9509 1)" font-size="58.03">37.9</text>
</g>
<g font-family="'Liberation Sans', 'DejaVu Sans', sans-serif" fill="#000"><text transform="translate(1219.11 608.1) scale(0.9587 1)" font-size="66.38">Mg-MOF-74@GO(4:1)</text></g>
<path fill="none" stroke="#ff00ff" stroke-width="7.3" stroke-linejoin="round" d="M181 633.3l.5 .6 .5 -.3 .5 -.2 .5 .4 .5 -2.1 .5 .1 .5 -.7 .5 .6 .5 .5 .5 -.8 .5 .2 .5 -1.6 .5 1.2 .5 -.8 .5 1.7 .5 -.8 .5 -.1 .5 -.8 .5 .4 .5 -.1 .5 -.6 .5 -.1 .5 .3 .5 -.3 .5 0 .5 .2 .5 -.4 .5 .8 .5 -1.7 .5 1.2 .5 -1.2 .5 -.3 .5 -.9 .5 .4 .5 -.4 .5 -.1 .5 -.7 .5 .1 .5 .9 .5 -1.2 .5 -.8 .5 .7 .5 -1 .5 .1 .5 -.3 .5 -1 .5 -1.4 .5 .5 .5 .1 .5 -1.2 .5 -.1 .5 -.4 .5 -1.8 .5 .2 .5 -.7 .5 -1.5 .5 -1.1 .5 -1.3 .5 -.7 .5 -2.7 .5 -1.7 .5 -1.2 .5 -2.7 .5 -2.3 .5 -1.6 .5 -1.4 .5 -2.4 .5 -4.1 .5 -3.3 .5 -2.7 .5 -4.1 .5 -4.7 .5 -5.1 .5 -6 .5 -7.7 .5 -7.8 .5 -10.1 .5 -10.3 .5 -10.8 .5 -12.8 .5 -14.6 .5 -16.5 .5 -17.8 .5 -19.2 .5 -20.7 .5 -19.1 .5 -17.6 .5 -14.5 .5 -9.5 .5 -3.4 .5 15.5 .5 39.2 .5 48.6 .5 46.5 .5 37.2 .5 28.2 .5 17.6 .5 10.5 .5 6.8 .5 2.9 .5 3.6 .5 2.5 .5 1 .5 1.6 .5 1.3 .5 1.2 .5 1.5 .5 .3 .5 .6 .5 1.2 .5 1.7 .5 -.9 .5 1.1 .5 -.9 .5 2.2 .5 -.1 .5 .7 .5 -.6 .5 -.4 .5 1.5 .5 .2 .5 -.7 .5 0 .5 1.5 .5 -.1 .5 2 .5 -1.8 .5 .2 .5 .4 .5 -.9 .5 .6 .5 1.7 .5 -1 .5 -.2 .5 -.2 .5 1.4 .5 .2 .5 -.1 .5 -.2 .5 .6 .5 .1 .5 -.7 .5 .8 .5 -1.8 .5 .4 .5 .4 .5 0 .5 -.8 .5 .9 .5 .5 .5 -.4 .5 0 .5 .5 .5 -.2 .5 -.8 .5 .6 .5 1 .5 -1.5 .5 .7 .5 -.3 .5 -.4 .5 -.2 .5 .6 .5 .1 .5 0 .5 -1.1 .5 .8 .5 .5 .5 .4 .5 -.1 .5 .2 .5 .3 .5 -.2 .5 -1 .5 .6 .5 -.5 .5 -1 .5 .5 .5 2.5 .5 -1.8 .5 -.5 .5 1.3 .5 1.6 .5 -.7 .5 .4 .5 -.3 .5 .1 .5 .6 .5 -.5 .5 -.9 .5 .3 .5 -.3 .5 -1.2 .5 0 .5 -.2 .5 -.6 .5 1 .5 -.7 .5 -.3 .5 -.6 .5 .2 .5 1.7 .5 -1.8 .5 .8 .5 -.7 .5 .3 .5 -.1 .5 -1 .5 .2 .5 .1 .5 0 .5 -.1 .5 -.2 .5 .5 .5 .3 .5 -.7 .5 -1.1 .5 .4 .5 -.4 .5 -.1 .5 .5 .5 -1.6 .5 -.1 .5 -.8 .5 .1 .5 -.4 .5 1.1 .5 -.9 .5 -.6 .5 1.5 .5 -1.9 .5 1.3 .5 .2 .5 -.2 .5 -.4 .5 .1 .5 -.2 .5 .7 .5 -2 .5 1.1 .5 .3 .5 -.6 .5 -.8 .5 .9 .5 -.3 .5 .9 .5 .3 .5 -.7 .5 -1.2 .5 1.1 .5 -.5 .5 1 .5 .6 .5 -.8 .5 1 .5 -.3 .5 -.4 .5 -1 .5 .6 .5 -.9 .5 1.4 .5 -.5 .5 .8 .5 -.6 .5 -1.2 .5 1.7 .5 .4 .5 .6 .5 -1.3 .5 .3 .5 .8 .5 -.5 .5 0 .5 .4 .5 2.3 .5 -1.8 .5 0 .5 .5 .5 .4 .5 1 .5 0 .5 .1 .5 -.3 .5 .2 .5 -.3 .5 -.5 .5 2 .5 -1.5 .5 .8 .5 -.9 .5 0 .5 -.2 .5 -.8 .5 .7 .5 .2 .5 .1 .5 -.2 .5 .2 .5 -.5 .5 -.3 .5 -1.2 .5 .7 .5 1.1 .5 -1 .5 .2 .5 -.9 .5 -.6 .5 1.2 .5 -1.4 .5 .2 .5 -1.1 .5 -1 .5 -1.6 .5 .9 .5 -1.5 .5 -1 .5 1.5 .5 -1 .5 -.7 .5 -1.2 .5 -.9 .5 -.8 .5 -1.3 .5 -1.4 .5 -1.1 .5 -3.6 .5 .1 .5 -3 .5 -1.6 .5 -2.5 .5 -4.3 .5 -2.5 .5 -4 .5 -5.4 .5 -5 .5 -5.4 .5 -7.8 .5 -6.3 .5 -7.8 .5 -9.6 .5 -10.9 .5 -10.8 .5 -11.6 .5 -13.5 .5 -14.4 .5 -13.6 .5 -12.3 .5 -10 .5 -6.6 .5 -2.4 .5 10.8 .5 27.3 .5 33.3 .5 32.6 .5 26.1 .5 19.3 .5 12 .5 7.8 .5 5.2 .5 .4 .5 4.3 .5 .8 .5 .1 .5 .6 .5 2.8 .5 .1 .5 2.1 .5 .4 .5 .5 .5 1.3 .5 .1 .5 .8 .5 .5 .5 .1 .5 .5 .5 .3 .5 -1.1 .5 .8 .5 .3 .5 0 .5 -.5 .5 .7 .5 .8 .5 .1 .5 .9 .5 -1 .5 .3 .5 0 .5 .3 .5 -.1 .5 -.7 .5 1.3 .5 .4 .5 0 .5 -1.2 .5 .6 .5 1.2 .5 -1 .5 .4 .5 -.2 .5 .7 .5 .1 .5 .8 .5 -1.1 .5 0 .5 -1 .5 .4 .5 -.2 .5 .2 .5 -.6 .5 1.5 .5 -1.3 .5 .8 .5 -.9 .5 1 .5 .7 .5 -1.4 .5 .6 .5 -.3 .5 .2 .5 .2 .5 -.5 .5 .3 .5 -.1 .5 -.1 .5 -.2 .5 1.2 .5 -1 .5 .8 .5 -.2 .5 -1 .5 1 .5 -1.2 .5 .8 .5 .4 .5 -1.3 .5 -.1 .5 -.1 .5 1.8 .5 -1.6 .5 -.5 .5 1.2 .5 -.5 .5 .2 .5 -.5 .5 -.6 .5 .9 .5 -.1 .5 -.2 .5 .3 .5 0 .5 .9 .5 -.2 .5 -.1 .5 -.6 .5 -.4 .5 .9 .5 .1 .5 .4 .5 -.5 .5 0 .5 .3 .5 -.6 .5 .2 .5 .8 .5 -1.1 .5 .7 .5 .4 .5 -.3 .5 .1 .5 -.8 .5 .6 .5 -.1 .5 .5 .5 0 .5 -.1 .5 1.1 .5 -.7 .5 -.4 .5 -.2 .5 .3 .5 -.3 .5 1.2 .5 -.6 .5 -.5 .5 -.2 .5 -.2 .5 .4 .5 1 .5 -.2 .5 -.4 .5 .2 .5 -.9 .5 1.5 .5 -.5 .5 .9 .5 -.8 .5 -.2 .5 .3 .5 -.6 .5 .9 .5 -.7 .5 -.1 .5 -.1 .5 -.5 .5 .3 .5 -.2 .5 .8 .5 -1 .5 .1 .5 -.4 .5 -.1 .5 0 .5 .8 .5 -.9 .5 .3 .5 -1 .5 -.4 .5 -1.3 .5 .9 .5 .1 .5 -1.8 .5 .4 .5 -.7 .5 -1 .5 .8 .5 -.6 .5 .7 .5 1.3 .5 0 .5 -.2 .5 1.8 .5 -1 .5 .8 .5 0 .5 .2 .5 -.2 .5 -.3 .5 2 .5 -1.3 .5 .2 .5 -.6 .5 1.5 .5 .8 .5 .2 .5 .9 .5 -.6 .5 -.5 .5 -.2 .5 .6 .5 -.9 .5 -.1 .5 -.8 .5 .4 .5 .8 .5 -1.2 .5 .2 .5 -1.6 .5 2 .5 -.5 .5 .6 .5 -.5 .5 -.6 .5 -.2 .5 1.1 .5 -.3 .5 -.5 .5 .5 .5 -.4 .5 .7 .5 -.6 .5 -.5 .5 .6 .5 -.2 .5 1.1 .5 -.9 .5 -.4 .5 .8 .5 .1 .5 .3 .5 .1 .5 -.6 .5 .4 .5 -.1 .5 -.8 .5 .1 .5 .1 .5 -1.2 .5 -.1 .5 0 .5 -.1 .5 .1 .5 -1.3 .5 .6 .5 -.1 .5 .2 .5 -1.3 .5 -.5 .5 -.6 .5 .8 .5 .1 .5 -1.1 .5 .7 .5 .4 .5 .5 .5 -.3 .5 1 .5 .2 .5 -.1 .5 1 .5 .4 .5 -.4 .5 .9 .5 .9 .5 -1.8 .5 1.1 .5 .1 .5 -.4 .5 .1 .5 -.4 .5 .9 .5 -1.3 .5 .4 .5 -.9 .5 1.2 .5 0 .5 -1 .5 .4 .5 .7 .5 -.5 .5 -.5 .5 -.7 .5 1.5 .5 .8 .5 -1.2 .5 .5 .5 0 .5 -.2 .5 .1 .5 .1 .5 -.5 .5 1.6 .5 .1 .5 -1.4 .5 .7 .5 -1.5 .5 .2 .5 .5 .5 -1.2 .5 -.2 .5 .6 .5 -1.4 .5 1.6 .5 -.8 .5 -.6 .5 -.2 .5 -1.2 .5 -.5 .5 .4 .5 -.5 .5 -1 .5 -.8 .5 -1.1 .5 .1 .5 -2.5 .5 -.9 .5 -1.1 .5 -1.9 .5 -1.3 .5 -1.3 .5 -.3 .5 -.9 .5 -1.9 .5 -1.9 .5 -.2 .5 -.3 .5 -.2 .5 0 .5 .6 .5 -1 .5 .8 .5 .5 .5 0 .5 -.9 .5 -1.5 .5 -2.1 .5 -3.3 .5 -3.9 .5 -5.8 .5 -7.5 .5 -8.4 .5 -10.9 .5 -12.6 .5 -12.7 .5 -11.6 .5 -7.9 .5 -1.8 .5 6.2 .5 12.7 .5 16.1 .5 17.1 .5 15.3 .5 13.1 .5 9 .5 7.5 .5 4.7 .5 3.4 .5 .6 .5 1.5 .5 1.1 .5 .6 .5 -.2 .5 .5 .5 -.1 .5 2.1 .5 -.9 .5 .2 .5 0 .5 .6 .5 .7 .5 -.3 .5 .4 .5 1.2 .5 -.5 .5 -.4 .5 -.3 .5 .1 .5 -.3 .5 .5 .5 -.4 .5 .1 .5 .4 .5 -.2 .5 .8 .5 1.3 .5 -1.4 .5 -.5 .5 1.2 .5 -.6 .5 .9 .5 -1 .5 .2 .5 -.9 .5 -.4 .5 .7 .5 .4 .5 -.6 .5 -.3 .5 .5 .5 .2 .5 .1 .5 .2 .5 1.2 .5 -1.1 .5 -.2 .5 -.2 .5 1 .5 -1.1 .5 1.5 .5 -.7 .5 -.7 .5 .8 .5 -.1 .5 .7 .5 -1.3 .5 .8 .5 0 .5 .5 .5 -1 .5 .2 .5 1.3 .5 -.7 .5 -1.1 .5 .8 .5 -.6 .5 -.1 .5 -.4 .5 .9 .5 -.8 .5 .2 .5 -.1 .5 -.9 .5 .4 .5 .7 .5 -1.2 .5 .9 .5 -.2 .5 .3 .5 -.2 .5 -.1 .5 -.7 .5 -.3 .5 -.9 .5 -.4 .5 .2 .5 -1.2 .5 .4 .5 -.3 .5 -1.1 .5 .5 .5 -.5 .5 .8 .5 -.2 .5 1 .5 .4 .5 -.1 .5 1.9 .5 -.1 .5 -.8 .5 1.3 .5 -.1 .5 1.5 .5 -.9 .5 .4 .5 -.3 .5 .4 .5 -.6 .5 -.2 .5 .1 .5 -.1 .5 .4 .5 -.3 .5 -.3 .5 -.1 .5 -.2 .5 .5 .5 -1 .5 .9 .5 .8 .5 -.7 .5 0 .5 .4 .5 -.3 .5 .2 .5 .8 .5 -.6 .5 1.3 .5 -.7 .5 -.4 .5 -.3 .5 0 .5 -1.1 .5 1 .5 .1 .5 -.3 .5 -.6 .5 .3 .5 -.1 .5 -.6 .5 0 .5 .1 .5 -.6 .5 -.7 .5 -.3 .5 -.3 .5 -1.2 .5 .4 .5 -.4 .5 -1.1 .5 .3 .5 1.8 .5 -.5 .5 1 .5 -.3 .5 1.5 .5 .1 .5 -.1 .5 .9 .5 1 .5 .6 .5 -.6 .5 -.3 .5 -.2 .5 .7 .5 .1 .5 -.5 .5 -.2 .5 .3 .5 -.2 .5 0 .5 -.9 .5 .6 .5 1.1 .5 -.8 .5 1.2 .5 -.9 .5 -.3 .5 .2 .5 0 .5 -.7 .5 .3 .5 -.4 .5 .8 .5 -.9 .5 .2 .5 -.8 .5 .1 .5 .6 .5 -.4 .5 .4 .5 .3 .5 .3 .5 -.9 .5 .6 .5 .4 .5 -.6 .5 -.3 .5 .3 .5 1 .5 -.8 .5 .7 .5 -.8 .5 .7 .5 -1.2 .5 .6 .5 .2 .5 .8 .5 -.6 .5 .3 .5 -.7 .5 .1 .5 .8 .5 .2 .5 0 .5 .2 .5 -.7 .5 1.3 .5 -.9 .5 .5 .5 -.3 .5 -1.3 .5 -.3 .5 0 .5 .5 .5 .3 .5 -.8 .5 .4 .5 -1 .5 .3 .5 -.1 .5 .4 .5 -.5 .5 .5 .5 .4 .5 -.5 .5 -.1 .5 .2 .5 -.3 .5 .1 .5 .7 .5 -.2 .5 -.9 .5 .4 .5 .2 .5 -.1 .5 -.3 .5 -.2 .5 -.8 .5 -.5 .5 -.5 .5 0 .5 -.7 .5 -.1 .5 -.9 .5 -1.3 .5 -.6 .5 -.2 .5 .3 .5 1 .5 -.4 .5 .4 .5 1.5 .5 1.2 .5 .7 .5 1 .5 -.3 .5 .1 .5 .4 .5 -.4 .5 .4 .5 .9 .5 .3 .5 -.4 .5 -.4 .5 -.2 .5 .2 .5 -.9 .5 1.2 .5 .2 .5 -.4 .5 .2 .5 -.7 .5 1.1 .5 0 .5 -1.5 .5 1 .5 .3 .5 .6 .5 -1.2 .5 .3 .5 .5 .5 -.5 .5 -.5 .5 -.3 .5 -.1 .5 -.6 .5 .3 .5 -1.3 .5 0 .5 -.7 .5 -.8 .5 -1.6 .5 -1.3 .5 -1.2 .5 -1.5 .5 -.9 .5 -1.7 .5 .1 .5 0 .5 -1.2 .5 1.2 .5 .5 .5 2.2 .5 1.4 .5 1.2 .5 1 .5 1.7 .5 2 .5 .7 .5 .2 .5 .1 .5 .7 .5 .1 .5 0 .5 .4 .5 .8 .5 0 .5 .1 .5 -.5 .5 0 .5 1.1 .5 -.4 .5 .7 .5 -.8 .5 .8 .5 -.3 .5 -.3 .5 -.1 .5 .9 .5 -.6 .5 -.6 .5 0 .5 -.9 .5 1.3 .5 -.3 .5 -1 .5 0 .5 -1.8 .5 1.1 .5 -.9 .5 -1 .5 -.7 .5 -1.4 .5 -1.7 .5 -1 .5 -.8 .5 -.4 .5 -.9 .5 -.4 .5 .8 .5 0 .5 2.4 .5 .3 .5 .7 .5 1.6 .5 1.3 .5 .7 .5 1.4 .5 -.9 .5 1.8 .5 -.3 .5 .6 .5 .5 .5 -1.2 .5 0 .5 .4 .5 -.6 .5 -.2 .5 .8 .5 .4 .5 -.7 .5 .5 .5 1.3 .5 -1.3 .5 -.1 .5 .2 .5 .4 .5 -.1 .5 .7 .5 0 .5 .5 .5 -.1 .5 0 .5 -.3 .5 -.2 .5 .4 .5 -.3 .5 .1 .5 -.3 .5 -.3 .5 .9 .5 -.9 .5 .3 .5 -1 .5 .8 .5 0 .5 -.4 .5 -.6 .5 .8 .5 -.9 .5 -.4 .5 -.1 .5 .7 .5 -.2 .5 .6 .5 .1 .5 .4 .5 -.3 .5 0 .5 0 .5 -.3 .5 -.1 .5 0 .5 .4 .5 -.5 .5 .2 .5 .4 .5 -1.5 .5 .6 .5 -.1 .5 .4 .5 -.7 .5 .3 .5 1.1 .5 -1.5 .5 .4 .5 -.1 .5 -.4 .5 -.7 .5 .4 .5 -1.7 .5 -.2 .5 -.4 .5 -1 .5 -.1 .5 -1.4 .5 .2 .5 -1.3 .5 .3 .5 -.4 .5 0 .5 .6 .5 1.2 .5 .2 .5 1.1 .5 .5 .5 .3 .5 1.7 .5 .6 .5 -.3 .5 1.1 .5 0 .5 -.4 .5 .6 .5 .8 .5 .2 .5 -.1 .5 1 .5 -.9 .5 -.4 .5 -.2 .5 1.2 .5 -.7 .5 0 .5 -.1 .5 0 .5 .2 .5 .4 .5 .1 .5 0 .5 .3 .5 -.5 .5 -.2 .5 .4 .5 -.8 .5 1.1 .5 -.2 .5 -.1 .5 -.8 .5 .2 .5 .1 .5 -.5 .5 -.1 .5 .3 .5 .2 .5 -.4 .5 .7 .5 .4 .5 -.7 .5 -.3 .5 -.1 .5 .8 .5 -.5 .5 .2 .5 -.1 .5 -.2 .5 .9 .5 -.5 .5 .2 .5 -.8 .5 1.7 .5 -.6 .5 -.3 .5 -.4 .5 0 .5 -.6 .5 .8 .5 -.6 .5 .4 .5 0 .5 .5 .5 -.6 .5 0 .5 .1 .5 -.5 .5 .1 .5 .2 .5 .2 .5 -.1 .5 -.4 .5 .6 .5 -.6 .5 -.4 .5 1.3 .5 -.6 .5 -.1 .5 -.3 .5 .3 .5 .7 .5 -.7 .5 .8 .5 -.9 .5 .4 .5 -.5 .5 -.2 .5 0 .5 0 .5 -.4 .5 -.1 .5 .6 .5 .3 .5 -.5 .5 0 .5 -.4 .5 .9 .5 0 .5 -.9 .5 .5 .5 -.2 .5 -.5 .5 1.1 .5 -.3 .5 -.4 .5 .3 .5 -.9 .5 .1 .5 .3 .5 -.8 .5 .1 .5 -.6 .5 .3 .5 -.1 .5 -1.2 .5 -.5 .5 -.5 .5 -.3 .5 -1.7 .5 -1.2 .5 -.8 .5 -.6 .5 -1.9 .5 -.1 .5 .4 .5 -.3 .5 .5 .5 1.3 .5 .4 .5 2.4 .5 .6 .5 .9 .5 1.2 .5 .9 .5 .7 .5 .2 .5 .8 .5 -.2 .5 1.2 .5 -.8 .5 .1 .5 0 .5 .5 .5 -.4 .5 .5 .5 -.7 .5 .3 .5 -.1 .5 0 .5 .5 .5 .1 .5 0 .5 -1 .5 .6 .5 -.5 .5 -.1 .5 -.3 .5 .3 .5 .5 .5 .3 .5 .2 .5 -.9 .5 .2 .5 .3 .5 .1 .5 0 .5 -.7 .5 .6 .5 .2 .5 -.1 .5 -.2 .5 -.2 .5 .2 .5 .7 .5 -.3 .5 .2 .5 .3 .5 -.9 .5 .7 .5 0 .5 .3 .5 -.5 .5 0 .5 -.2 .5 .3 .5 -.3 .5 0 .5 .1 .5 -.4 .5 -.3 .5 0 .5 -.2 .5 .1 .5 -.1 .5 -1 .5 -1.2 .5 .4 .5 -1 .5 -1.3 .5 -.7 .5 -.3 .5 -2.2 .5 -.8 .5 -.4 .5 -1.5 .5 .8 .5 .8 .5 .5 .5 .8 .5 .8 .5 1.1 .5 2.1 .5 0 .5 1.2 .5 -.3 .5 1 .5 .5 .5 .2 .5 -.6 .5 .8 .5 .8 .5 -.1 .5 -.4 .5 .8 .5 -.8 .5 1 .5 0 .5 -.2 .5 -.1 .5 -.1 .5 .5 .5 .7 .5 -.3 .5 -.1 .5 .2 .5 -.6 .5 .4 .5 -1.1 .5 .8 .5 0 .5 .1 .5 0 .5 .2 .5 -.5 .5 .4 .5 -.5 .5 .4 .5 -.3 .5 .2 .5 -.1 .5 -.4 .5 .3 .5 -.5 .5 .5 .5 .1 .5 -.2 .5 .1 .5 .4 .5 .1 .5 .1 .5 -.7 .5 .1 .5 .4 .5 0 .5 -.9 .5 1.3 .5 -.4 .5 -.8 .5 .7 .5 -.5 .5 0 .5 -.3 .5 0 .5 .1 .5 .1 .5 -.4 .5 .4 .5 -.3 .5 .1 .5 -.1 .5 .1 .5 .8 .5 -1.1 .5 .1 .5 .4 .5 -.2 .5 -.2 .5 .4 .5 -.5 .5 .3 .5 .3 .5 -.1 .5 -.3 .5 .1 .5 .1 .5 .2 .5 -.5 .5 .8 .5 -.2 .5 .4 .5 -.3 .5 0 .5 -1.3 .5 .8 .5 .7 .5 -.5 .5 -.3 .5 .2 .5 -.3 .5 -.2 .5 -.6 .5 0 .5 -.1 .5 -.9 .5 -.4 .5 -.9 .5 0 .5 -.7 .5 -.5 .5 .3 .5 .1 .5 .6 .5 .5 .5 0 .5 .4 .5 .9 .5 -.1 .5 .6 .5 .5 .5 .3 .5 .1 .5 .9 .5 -.1 .5 -.2 .5 -.4 .5 .3 .5 .4 .5 -.8 .5 1.4 .5 -.8 .5 0 .5 .2 .5 -.8 .5 .4 .5 -.2 .5 .1 .5 -.9 .5 .2 .5 -.2 .5 -.8 .5 -.8 .5 -.7 .5 -1 .5 -.3 .5 -.3 .5 -.2 .5 -.4 .5 0 .5 -.4 .5 .4 .5 .2 .5 .8 .5 .5 .5 .8 .5 .9 .5 .2 .5 .3 .5 .6 .5 .6 .5 0 .5 -.7 .5 1.3 .5 -.5 .5 -.2 .5 .5 .5 .5 .5 -1 .5 1.3 .5 -.3 .5 .2 .5 -.6 .5 .3 .5 -.2 .5 .7 .5 -.6 .5 .3 .5 -.4 .5 -.3 .5 .7 .5 .1 .5 .2 .5 -.6 .5 .2 .5 .3 .5 0 .5 0 .5 .7 .5 -.9 .5 .3 .5 -.5 .5 .5 .5 -.6 .5 -.3 .5 .5 .5 -.2 .5 -.1 .5 .1 .5 0 .5 .4 .5 0 .5 .4 .5 -.7 .5 .7 .5 -.3 .5 -.6 .5 .9 .5 -1 .5 .7 .5 -.7 .5 .7 .5 -.2 .5 0 .5 -.5 .5 .3 .5 .5 .5 -.2 .5 -.3 .5 0 .5 -.2 .5 .6 .5 -.5 .5 .3 .5 -.8 .5 -.1 .5 .9 .5 -.7 .5 .2 .5 .2 .5 .1 .5 -.1 .5 0 .5 .3 .5 -.4 .5 .2 .5 -.3 .5 0 .5 .5 .5 -.7 .5 -.8 .5 .7 .5 0 .5 .5 .5 -.6 .5 -.3 .5 .5 .5 .6 .5 -.5 .5 .6 .5 -.2 .5 .2 .5 -.4 .5 .3 .5 -.2 .5 .2 .5 -.2 .5 .6 .5 -.5 .5 .1 .5 -.7 .5 .4 .5 1 .5 -.9 .5 -.4 .5 .5 .5 -.1 .5 -.2 .5 0 .5 -.1 .5 .4 .5 -.7 .5 .3 .5 .1 .5 -.6 .5 .9 .5 -.7 .5 -.1 .5 -.1 .5 .4 .5 -.6 .5 .6 .5 .5 .5 -.5 .5 .1 .5 -.5 .5 .5 .5 -.5 .5 0 .5 .1 .5 .5 .5 -.8 .5 -.5 .5 .5 .5 .1 .5 -.1 .5 -.2 .5 .3 .5 -.2 .5 -.1 .5 -.4 .5 -.3 .5 .9 .5 -.7 .5 .6 .5 0 .5 -.7 .5 0 .5 .2 .5 0 .5 -.8 .5 -.1 .5 -.5 .5 -.4 .5 0 .5 -.7 .5 -.9 .5 0 .5 -1.1 .5 -1.2 .5 -1.8 .5 -1.5 .5 -2.6 .5 -3 .5 -3.4 .5 -3.5 .5 -3.3 .5 -2.9 .5 -1.7 .5 -.2 .5 1.6 .5 2.9 .5 3.6 .5 4 .5 3.6 .5 3.1 .5 2.8 .5 2.3 .5 1.5 .5 1.9 .5 .7 .5 .2 .5 1.1 .5 -.1 .5 .4 .5 -.1 .5 .4 .5 .1 .5 .1 .5 .1 .5 -.8 .5 .7 .5 .2 .5 0 .5 -.2 .5 .4 .5 .1 .5 -.5 .5 .4 .5 .4 .5 -.4 .5 .2 .5 .1 .5 .1 .5 .1 .5 .1 .5 -.2 .5 .1 .5 0 .5 .1 .5 0 .5 .2 .5 0 .5 -.6 .5 -.2 .5 .7 .5 -.3 .5 -.3 .5 .7 .5 .2 .5 -.7 .5 .1 .5 .1 .5 0 .5 .2 .5 -.2 .5 .3 .5 0 .5 .4 .5 -.3 .5 .3 .5 .2 .5 -.3 .5 0 .5 -.3 .5 0 .5 .6 .5 -.4 .5 -.4 .5 -.2 .5 0 .5 .3 .5 -.8 .5 .6 .5 -.4 .5 .9 .5 -.7 .5 .7 .5 -.3 .5 .1 .5 .4 .5 -.5 .5 .2 .5 -.2 .5 -.4 .5 .2 .5 .2 .5 -.2 .5 0 .5 -.2 .5 .6 .5 -.5 .5 .7 .5 -.3 .5 .2 .5 -.6 .5 .4 .5 -.3 .5 .3 .5 .3 .5 -.3 .5 0 .5 .2 .5 -.6 .5 .4 .5 -.2 .5 .5 .5 -.5 .5 .6 .5 .1 .5 -1.1 .5 .4 .5 -.4 .5 .7 .5 -.5 .5 .3 .5 -.1 .5 -.4 .5 -.3 .5 .6 .5 -.5 .5 .1 .5 .3 .5 -.5 .5 -.1 .5 -.1 .5 .4 .5 -.3 .5 -.2 .5 .3 .5 0 .5 -.2 .5 .4 .5 .3 .5 -.1 .5 .4 .5 -.2 .5 -.2 .5 -.6 .5 .6 .5 .2 .5 -.4 .5 .4 .5 -.6 .5 .2 .5 .1 .5 .1 .5 -.5 .5 .4 .5 -.8 .5 -.5 .5 .2 .5 .2 .5 -.8 .5 .2 .5 -.8 .5 .2 .5 -1.4 .5 .8 .5 -1.4 .5 .3 .5 -.3 .5 .4 .5 0 .5 .2 .5 .5 .5 .5 .5 0 .5 .8 .5 -.3 .5 .5 .5 .3 .5 .7 .5 .4 .5 -.1 .5 .2 .5 0 .5 .5 .5 .2 .5 -.4 .5 .1 .5 0 .5 .1 .5 .1 .5 -.6 .5 .4 .5 .3 .5 -.4 .5 .6 .5 0 .5 -.5 .5 0 .5 .6 .5 -.8 .5 .2 .5 -.2 .5 .4 .5 .1 .5 0 .5 -.1 .5 -.5 .5 .6 .5 -.3 .5 -.1 .5 .5 .5 -.4 .5 .1 .5 .1 .5 .3 .5 -.5 .5 .1 .5 -.8 .5 .3 .5 .6 .5 -.2 .5 -.8 .5 -.4 .5 -.5 .5 -.3 .5 -.3 .5 -.6 .5 0 .5 -.3 .5 -.4 .5 -.1 .5 0 .5 .3 .5 .3 .5 .5 .5 -.2 .5 .7 .5 .4 .5 .4 .5 .4 .5 0 .5 .6 .5 .4 .5 -.4 .5 .3 .5 -.1 .5 -.1 .5 -.1 .5 .1 .5 .5 .5 -.5 .5 -.1 .5 .1 .5 .4 .5 -.3 .5 .4 .5 0 .5 -.1 .5 .3 .5 -.7 .5 .2 .5 0 .5 0 .5 -.5 .5 .1 .5 .4 .5 -.4 .5 .3 .5 -.2 .5 -.1 .5 .4 .5 .3 .5 -.3 .5 -.2 .5 .1 .5 0 .5 -.1 .5 -.3 .5 .1 .5 -.6 .5 .3 .5 -.7 .5 -.3 .5 .2 .5 -.3 .5 -.6 .5 -.3 .5 -.2 .5 -.2 .5 -.2 .5 .1 .5 -.4 .5 .3 .5 .2 .5 -.1 .5 .9 .5 .5 .5 -.1 .5 0 .5 .5 .5 .6 .5 -.5 .5 .2 .5 .4 .5 .3 .5 .2 .5 .1 .5 -.7 .5 .5 .5 0 .5 .1 .5 .5 .5 0 .5 -.2 .5 .3 .5 0 .5 .2 .5 -.4 .5 .2 .5 -.3 .5 .2 .5 -.1 .5 0 .5 0 .5 .3 .5 -.4 .5 0 .5 .1 .5 .3 .5 .1 .5 -.1 .5 -.2 .5 .1 .5 -.1 .5 .1 .5 -.1 .5 -.1 .5 -.1 .5 -.1 .5 .2 .5 -.4 .5 .2 .5 0 .5 -.2 .5 .5 .5 -.3 .5 -.2 .5 .4 .5 0 .5 0 .5 -.1 .5 0 .5 .1 .5 -.3 .5 .3 .5 0 .5 .1 .5 -.2 .5 .1 .5 -.4 .5 0 .5 .3 .5 .1 .5 -.1 .5 -.5 .5 .1 .5 .1 .5 .5 .5 -.3 .5 .3 .5 .1 .5 0 .5 0 .5 .1 .5 .1 .5 -.1 .5 -.1 .5 .2 .5 .1 .5 .2 .5 -.7 .5 .2 .5 0 .5 -.2 .5 .1 .5 0 .5 0 .5 .1 .5 .3 .5 -.3 .5 .1 .5 .1 .5 -.2 .5 -.1 .5 -.1 .5 .1 .5 .4 .5 -.7 .5 .4 .5 -.4 .5 0 .5 .3 .5 -.1 .5 0 .5 -.2 .5 .2 .5 -.3 .5 .2 .5 .1 .5 -.2 .5 -.1 .5 .5 .5 -.4 .5 -.1 .5 .4 .5 .1 .5 -.1 .5 -.4 .5 .3 .5 0 .5 .1 .5 -.5 .5 .1 .5 .2 .5 0 .5 .1 .5 .1 .5 -.4 .5 0 .5 .1 .5 .5 .5 -.4 .5 .3 .5 -.7 .5 .5 .5 .1 .5 0 .5 -.4 .5 .5 .5 -.6 .5 .4 .5 0 .5 -.4 .5 -.2 .5 .6 .5 -.3 .5 -.4 .5 .3 .5 -.3 .5 .2 .5 -.2 .5 -.2 .5 .6 .5 -.1 .5 .1 .5 .2 .5 0 .5 -.1 .5 .3 .5 0 .5 -.1 .5 -.1 .5 .1 .5 .3 .5 0 .5 -.3 .5 .3 .5 .1 .5 .1 .5 0 .5 .1 .5 -.1 .5 .3 .5 0 .5 0 .5 0 .5 -.1 .5 -.3 .5 -.1 .5 .2 .5 -.1 .5 .2 .5 -.3 .5 .1 .5 -.1 .5 .2 .5 0 .5 .4 .5 -.2 .5 .3 .5 -.4 .5 -.2 .5 .5 .5 -.2 .5 .2 .5 -.5 .5 -.3 .5 .6 .5 -.3 .5 -.2 .5 .5 .5 -.4 .5 -.1 .5 .2 .5 -.2 .5 -.1 .5 .2 .5 -.1 .5 -.1 .5 -.1 .5 -.2 .5 .3 .5 .2 .5 -.3 .5 .2 .5 .1 .5 -.4 .5 -.1 .5 -.1 .5 .1 .5 .3 .5 -.2 .5 .3 .5 -.3 .5 .4 .5 -.4 .5 .1 .5 0 .5 -.1 .5 -.1 .5 .1 .5 -.1 .5 .1 .5 -.2 .5 0 .5 -.1 .5 .5 .5 -.3 .5 .2 .5 0 .5 0 .5 -.1 .5 .1 .5 0 .5 .2 .5 -.3 .5 -.1 .5 -.1 .5 .7 .5 -.6 .5 .3 .5 0 .5 -.4 .5 .1 .5 .3 .5 -.2 .5 -.2 .5 .3 .5 .3 .5 -.1 .5 0 .5 .2 .5 .2 .5 -.4 .5 -.1 .5 .1 .5 0 .5 -.1 .5 .3 .5 -.1 .5 .4 .5 -.2 .5 -.4 .5 .3 .5 .2 .5 -.2 .5 -.1 .5 0 .5 -.1 .5 .2 .5 -.3 .5 -.1 .5 .3 .5 -.4 .5 .2 .5 -.2 .5 .1 .5 0 .5 -.1 .5 .1 .5 .4 .5 -.5 .5 .6 .5 -.3 .5 .1 .5 -.4 .5 .3 .5 -.2 .5 .3 .5 -.5 .5 .3 .5 -.4 .5 .4 .5 -.4 .5 -.1 .5 -.1 .5 .1 .5 .4 .5 -.6 .5 .1 .5 .1 .5 0 .5 0 .5 .3 .5 -.4 .5 -.2 .5 .4 .5 -.3 .5 .1 .5 0 .5 .3 .5 0 .5 -.2 .5 -.1 .5 .2 .5 -.2 .5 -.2 .5 .3 .5 .3 .5 -.3 .5 .1 .5 .3 .5 0 .5 0 .5 -.5 .5 .2 .5 .2 .5 -.1 .5 -.3 .5 .1 .5 -.1 .5 0 .5 .1 .5 0 .5 -.3 .5 .2 .5 -.2 .5 0 .5 -.5 .5 -.1 .5 -.7 .5 .4 .5 -.3 .5 -.3 .5 -.5 .5 -.5 .5 -.5 .5 -.3 .5 -1 .5 -.5 .5 -.6 .5 -.9 .5 -.7 .5 -.6 .5 -.5 .5 -.3 .5 -.8 .5 -.7 .5 .4 .5 -.3 .5 .2 .5 .1 .5 .3 .5 0 .5 1 .5 .1 .5 .9 .5 0 .5 1.1 .5 .3 .5 .1 .5 1 .5 .6 .5 .5 .5 .2 .5 1.1 .5 -.1 .5 .6 .5 -.3 .5 .9 .5 .2 .5 .1 .5 .5 .5 -.2 .5 .4 .5 0 .5 .2 .5 -.2 .5 .4 .5 .1 .5 0 .5 0 .5 -.1 .5 -.1 .5 0 .5 .1 .5 -.4 .5 .2 .5 .2 .5 -.2 .5 -.3 .5 .4 .5 -.6 .5 .3 .5 .3 .5 0 .5 -.1 .5 -.2 .5 -.1 .5 .4 .5 0 .5 .3 .5 -.4 .5 -.1 .5 .1 .5 -.2 .5 .4 .5 .1 .5 .1 .5 .4 .5 .1 .5 -.3 .5 0 .5 .4 .5 0 .5 -.4 .5 .1 .5 -.1 .5 -.1 .5 .1 .5 -.2 .5 .3 .5 -.1 .5 -.4 .5 .3 .5 0 .5 .4 .5 -.4 .5 .4 .5 .1 .5 -.5 .5 .3 .5 -.1 .5 .1 .5 -.5 .5 .1 .5 -.2 .5 .4 .5 -.5 .5 .3 .5 -.3 .5 .1 .5 0 .5 .1 .5 .1 .5 .1 .5 .1 .5 -.2 .5 -.2 .5 .4 .5 -.4 .5 .2 .5 -.1 .5 0 .5 .1 .5 -.2 .5 .2 .5 0 .5 .2 .5 0 .5 0 .5 -.2 .5 .3 .5 -.1 .5 -.5 .5 .3 .5 0 .5 -.2 .5 .2 .5 -.1 .5 -.1 .5 .2 .5 -.1 .5 -.1 .5 .3 .5 -.4 .5 .6 .5 -.3 .5 .1 .5 .1 .5 0 .5 -.2 .5 .1 .5 .1 .5 .1 .5 -.3 .5 .2 .5 -.2 .5 0 .5 .2 .5 0 .5 -.1 .5 0 .5 .2 .5 -.2 .5 .4 .5 -.2 .5 .5 .5 -.2 .5 .1 .5 -.3 .5 .3 .5 -.2 .5 0 .5 -.1 .5 0 .5 -.1 .5 .1 .5 -.2 .5 -.1 .5 .1 .5 -.1 .5 -.1 .5 -.2 .5 .1 .5 .2 .5 -.2 .5 .1 .5 -.2 .5 .4 .5 -.2 .5 .1 .5 0 .5 .2 .5 -.5 .5 -.1 .5 .3 .5 -.5 .5 .3 .5 0 .5 .1 .5 .1 .5 -.4 .5 .4 .5 .1 .5 .1 .5 -.5 .5 .1 .5 .5 .5 -.5 .5 .5 .5 -.1 .5 .2 .5 -.4 .5 .1 .5 .2 .5 .3 .5 .1 .5 -.3 .5 .3 .5 -.1 .5 -.2 .5 0 .5 -.2 .5 .2 .5 0 .5 .4 .5 -.1 .5 -.2 .5 .2 .5 -.2 .5 -.3 .5 .5 .5 .1 .5 -.3 .5 .4 .5 -.1 .5 -.1 .5 -.6 .5 .4 .5 0 .5 -.3 .5 .1 .5 .3 .5 .2 .5 -.2 .5 0 .5 -.1 .5 0 .5 .1 .5 .3 .5 -.2 .5 .3 .5 -.6 .5 0 .5 .1 .5 -.1 .5 -.1 .5 -.3 .5 -.1 .5 .3 .5 -.3 .5 0 .5 .2 .5 0 .5 0 .5 .3 .5 -.5 .5 .4 .5 -.2 .5 .4 .5 -.4 .5 .3 .5 -.2 .5 .5 .5 -.5 .5 .4 .5 -.6 .5 0 .5 .2 .5 -.4 .5 .2 .5 .5 .5 0 .5 -.2 .5 .3 .5 -.2 .5 0 .5 -.3 .5 .4 .5 -.3 .5 .4 .5 -.5 .5 .7 .5 -.6 .5 -.1 .5 .1 .5 .3 .5 0 .5 -.1 .5 .3 .5 .2 .5 -.4 .5 .1 .5 0 .5 0 .5 -.5 .5 .6 .5 -.4 .5 0 .5 .2 .5 -.8 .5 .7 .5 -.1 .5 .2 .5 -.2 .5 .2 .5 -.1 .5 -.4 .5 .3 .5 -.1 .5 .1 .5 -.1 .5 -.1 .5 .2 .5 0 .5 .1 .5 .2 .5 -.4 .5 0 .5 .3 .5 -.1 .5 -.5 .5 .3 .5 -.3 .5 .1 .5 .1 .5 .1 .5 0 .5 .2 .5 0 .5 .3 .5 -.1 .5 -.4 .5 .5 .5 -.2 .5 -.3 .5 .1 .5 .2 .5 0 .5 .1 .5 -.4 .5 .3 .5 .4 .5 -.8 .5 0 .5 .2 .5 0 .5 -.3 .5 .1 .5 -.1 .5 -.2 .5 .2 .5 0 .5 .1 .5 .1 .5 -.3 .5 .2 .5 -.2 .5 .1 .5 .1 .5 .1 .5 -.3 .5 .2 .5 -.2 .5 0 .5 0 .5 -.1 .5 .2 .5 -.3 .5 .3 .5 -.1 .5 .4 .5 -.3 .5 .2 .5 .1 .5 .1 .5 .1 .5 0 .5 -.3 .5 -.2 .5 .3 .5 -.2 .5 -.2 .5 0 .5 .1 .5 -.1 .5 -.6 .5 .2 .5 0 .5 -.2 .5 .3 .5 -.1 .5 -.4 .5 .2 .5 -.5 .5 .1 .5 -.3 .5 -.3 .5 -.2 .5 -.5 .5 .1 .5 -.6 .5 -.1 .5 -.5 .5 -.3 .5 0 .5 -.2 .5 0 .5 -.4 .5 0 .5 -.1 .5 .3 .5 -.3 .5 -.2 .5 0 .5 .4 .5 .2 .5 0 .5 .3 .5 .3 .5 .4 .5 .4 .5 .1 .5 .2 .5 .6 .5 .4 .5 -.1 .5 0 .5 .2 .5 .4 .5 -.3 .5 .2 .5 .6 .5 -.3 .5 .2 .5 .7 .5 -.4 .5 .4 .5 -.2 .5 -.1 .5 .4 .5 -.1 .5 .2 .5 -.4 .5 .4 .5 -.1 .5 0 .5 -.1 .5 -.3 .5 .4 .5 -.1 .5 0 .5 0 .5 -.1 .5 -.2 .5 -.2 .5 0 .5 .3 .5 -.5 .5 .3 .5 .2 .5 -.3 .5 .5 .5 -.7 .5 .5 .5 -.4 .5 .5 .5 .3 .5 -.3 .5 -.1 .5 0 .5 .4 .5 0 .5 -.1 .5 -.1 .5 -.1 .5 0 .5 0 .5 -.1 .5 .6 .5 0 .5 0 .5 .1 .5 -.5 .5 -.3 .5 .4 .5 -.1 .5 -.2 .5 .3 .5 -.2 .5 .3 .5 -.1 .5 -.2 .5 .2 .5 -.1 .5 .1 .5 -.1 .5 -.2 .5 .2 .5 -.2 .5 -.1 .5 0 .5 .3 .5 -.4 .5 -.2 .5 0 .5 -.2 .5 .4 .5 .1 .5 0 .5 .4 .5 0 .5 .1 .5 -.1 .5 .3 .5 -.1 .5 -.3 .5 .1 .5 .2 .5 -.4 .5 .3 .5 -.3 .5 -.3 .5 .5 .5 -.3 .5 .1 .5 0 .5 .2 .5 -.2 .5 .1 .5 -.3 .5 .2 .5 -.2 .5 .1 .5 .4 .5 -.5 .5 .2 .5 -.1 .5 .1 .5 -.2 .5 0 .5 -.2 .5 .6 .5 -.2 .5 0 .5 -.3 .5 .5 .5 0 .5 -.3 .5 .1 .5 -.2 .5 .2 .5 -.6 .5 .4 .5 0 .5 0 .5 -.4 .5 0 .5 -.1 .5 .3 .5 -.1 .5 0 .5 -.1 .5 -.1 .5 -.4 .5 .1 .5 .2 .5 -.3 .5 -.4 .5 -.1 .5 0 .5 -.1 .5 0 .5 -.1 .5 -.1 .5 0 .5 -.2 .5 -.4 .5 .5 .5 -.6 .5 -.2 .5 .3 .5 -.1 .5 -.2 .5 .1 .5 -.3 .5 .1 .5 -.2 .5 .5 .5 -.1 .5 .3 .5 -.3 .5 .3 .5 -.1 .5 .3 .5 -.2 .5 .3 .5 -.3 .5 .2 .5 .1 .5 .4 .5 -.5 .5 .2 .5 .4 .5 .1 .5 .1 .5 .2 .5 0 .5 .3 .5 .2 .5 -.3 .5 .6 .5 -.3 .5 -.1 .5 .3 .5 0 .5 .2 .5 -.3 .5 .2 .5 0 .5 .3 .5 -.1 .5 -.2 .5 0 .5 .2 .5 .4 .5 -.7 .5 .2 .5 .3 .5 -.1 .5 -.3 .5 0 .5 -.1 .5 -.1 .5 .1 .5 .1 .5 0 .5 -.3 .5 .3 .5 0 .5 .4 .5 -.5 .5 .1 .5 -.1 .5 1 .5 -.4 .5 -.3 .5 .2 .5 -.4 .5 .3 .5 .5 .5 -.4 .5 -.2 .5 .2 .5 -.1 .5 .1 .5 -.1 .5 -.1 .5 -.2 .5 .2 .5 0 .5 -.3 .5 .4 .5 -.1 .5 .4 .5 -.2 .5 -.2 .5 0 .5 .6 .5 -.1 .5 -.2 .5 .1 .5 -.5 .5 .5 .5 -.3 .5 0 .5 .2 .5 -.1 .5 -.5 .5 .5 .5 -.2 .5 .3 .5 -.2 .5 .1 .5 -.3 .5 .1 .5 -.1 .5 .3 .5 -.2 .5 .1 .5 .5 .5 -.2 .5 .3 .5 -.6 .5 -.1 .5 .1 .5 .2 .5 -.2 .5 .5 .5 -.5 .5 .5 .5 -.4 .5 0 .5 .3 .5 -.1 .5 -.1 .5 0 .5 .1 .5 -.2 .5 .4 .5 -.3 .5 0 .5 -.3 .5 .7 .5 -.4 .5 -.2 .5 0 .5 -.3 .5 .4 .5 -.3 .5 .1 .5 .6 .5 -.3 .5 -.1 .5 .6 .5 -.5 .5 .6 .5 -.5 .5 .2 .5 -.1 .5 0 .5 .2 .5 .2 .5 -.2 .5 -.3 .5 -.1 .5 .5 .5 -.4 .5 -.2 .5 .2 .5 -.1 .5 0 .5 -.3 .5 -.3 .5 .5 .5 -.1 .5 .1 .5 -.2 .5 .3 .5 0 .5 0 .5 .2 .5 -.3 .5 0 .5 0 .5 -.3 .5 .3 .5 .3 .5 0 .5 -.2 .5 -.1 .5 .3 .5 0 .5 0 .5 .2 .5 -.3 .5 .2 .5 -.2 .5 .1 .5 -.3 .5 .1 .5 0 .5 0 .5 0 .5 0 .5 .5 .5 -.7 .5 .7 .5 -.1 .5 -.2 .5 .1 .5 -.1 .5 .4 .5 -.1 .5 -.1 .5 .2 .5 -.7 .5 0 .5 .1 .5 .2 .5 0 .5 -.3 .5 .1 .5 .2 .5 -.5 .5 .4 .5 0 .5 0 .5 0 .5 -.3 .5 -.4 .5 .1 .5 .1 .5 .1 .5 .2 .5 -.1 .5 0 .5 .3 .5 -.5 .5 .4 .5 .1 .5 .2 .5 .3 .5 -.2 .5 -.4 .5 .3 .5 -.3 .5 .2 .5 -.2 .5 -.1 .5 .1 .5 -.2 .5 .1 .5 0 .5 .1 .5 -.2 .5 0 .5 -.1 .5 .5 .5 .1 .5 -.3 .5 -.1 .5 .5 .5 -.2 .5 .2 .5 -.2 .5 .2 .5 -.3 .5 -.1 .5 .2 .5 -.4 .5 .2 .5 0 .5 0 .5 .1 .5 -.2 .5 -.2 .5 .7 .5 -.4 .5 -.1 .5 -.2 .5 .3 .5 -.1 .5 -.2 .5 .5 .5 0 .5 -.5 .5 .5 .5 -.3 .5 .3 .5 0 .5 .1 .5 -.1 .5 .1 .5 -.3 .5 0 .5 0 .5 0 .5 .5 .5 -.4 .5 .2 .5 -.2 .5 -.1 .5 .1 .5 -.3 .5 .2 .5 0 .5 -.2 .5 -.1 .5 -.1 .5 .2 .5 0 .5 0 .5 -.3 .5 0 .5 -.2 .5 .1 .5 -.1 .5 -.2 .5 -.2 .5 0 .5 -.2 .5 -.1 .5 -.4 .5 -.2 .5 0 .5 -.2 .5 .1 .5 .2 .5 -.5 .5 -.5 .5 0 .5 -.2 .5 .2 .5 -.1 .5 .2 .5 -.4 .5 -.1 .5 .2 .5 -.5 .5 .2 .5 .2 .5 -.3 .5 0 .5 -.2 .5 -.2 .5 .3 .5 .2 .5 -.2 .5 0 .5 0 .5 .7 .5 -.5 .5 .4 .5 .1 .5 .5 .5 -.3 .5 .3 .5 .5 .5 -.2 .5 .5 .5 .3 .5 -.1 .5 -.4 .5 .5 .5 .1 .5 .5 .5 .1 .5 0 .5 -.2 .5 0 .5 .1 .5 0 .5 0 .5 .1 .5 .1 .5 .3 .5 -.5 .5 .7 .5 -.2 .5 0 .5 -.1 .5 0 .5 .3 .5 -.3 .5 -.1 .5 .2 .5 -.1 .5 .4 .5 -.3 .5 .1 .5 -.2 .5 0 .5 .2 .5 -.1 .5 .2 .5 -.6 .5 .4 .5 .1 .5 -.2 .5 -.3 .5 .3 .5 -.1 .5 .3 .5 -.1 .5 0 .5 -.2 .5 .1 .5 0 .5 .1 .5 -.1 .5 .1 .5 .1 .5 -.2 .5 0 .5 -.1 .5 -.1 .5 .2 .5 0 .5 -.1 .5 .4 .5 .1 .5 .1 .5 .2 .5 -.3 .5 .5 .5 -.5 .5 0"/>
</g>
<g id="blue">
<g font-family="'Liberation Serif', 'DejaVu Serif', serif" fill="#000">
<text transform="translate(197.61 684.9) scale(0.9441 1)" font-size="58.03">6.9</text>
<text transform="translate(321.35 675.4) scale(0.9828 1)" font-size="58.03">11.9</text>
<text transform="translate(476.98 702.6) scale(0.9559 1)" font-size="58.03">18.6</text>
<text transform="translate(973.27 735.4) scale(0.9425 1)" font-size="58.03">38.1</text>
</g>
<g font-family="'Liberation Sans', 'DejaVu Sans', sans-serif" fill="#000"><text transform="translate(1213.01 749.4) scale(0.9582 1)" font-size="66.38">Mg-MOF-74@GO(2:1)</text></g>
<path fill="none" stroke="#0000ff" stroke-width="7.3" stroke-linejoin="round" d="M181 774l.5 -3.2 .5 2.5 .5 -.6 .5 .7 .5 -.7 .5 .9 .5 -1.3 .5 -.4 .5 .7 .5 -.1 .5 -.6 .5 0 .5 .6 .5 -.1 .5 -.8 .5 0 .5 -1 .5 2.1 .5 -1.2 .5 1 .5 -.6 .5 1.1 .5 -.2 .5 -.7 .5 .8 .5 -1.5 .5 1.5 .5 -1.7 .5 1.3 .5 .4 .5 -.5 .5 -.5 .5 -.5 .5 .2 .5 .7 .5 -.3 .5 -.9 .5 -.7 .5 1.1 .5 -1.5 .5 .5 .5 -.3 .5 .8 .5 -.5 .5 0 .5 -.3 .5 -.7 .5 .7 .5 .6 .5 -.9 .5 .5 .5 -.5 .5 .8 .5 -.3 .5 .1 .5 -.4 .5 .6 .5 -1.4 .5 -.3 .5 -.4 .5 .5 .5 -1.1 .5 -.3 .5 .6 .5 0 .5 -.7 .5 -2.5 .5 .7 .5 -.6 .5 -.7 .5 -.3 .5 .6 .5 -2.2 .5 -1.2 .5 -.2 .5 -1.7 .5 -1.3 .5 -2 .5 -1.3 .5 -1.6 .5 -3.6 .5 -2.2 .5 -1 .5 -3.2 .5 -4.4 .5 -4.2 .5 -3.8 .5 -5.4 .5 -4.8 .5 -4.9 .5 -6.6 .5 -5.6 .5 -5.6 .5 -4.4 .5 -2.8 .5 -1 .5 4.6 .5 11.6 .5 14.6 .5 14 .5 11.1 .5 7.3 .5 5.7 .5 2.9 .5 1.9 .5 2.9 .5 -1.1 .5 1.3 .5 -.1 .5 1.3 .5 0 .5 .2 .5 .2 .5 1 .5 -1 .5 .4 .5 0 .5 1.8 .5 -.7 .5 -.3 .5 .6 .5 2 .5 -1.4 .5 .7 .5 -.1 .5 -.3 .5 -.3 .5 .2 .5 .1 .5 -1.1 .5 3 .5 -1 .5 -.4 .5 -.2 .5 -.3 .5 1.1 .5 -.7 .5 .4 .5 -1.2 .5 1.1 .5 1.1 .5 -1.4 .5 .8 .5 -.4 .5 .8 .5 .1 .5 -.6 .5 -.4 .5 .6 .5 -.2 .5 -.4 .5 .7 .5 .1 .5 -.7 .5 .6 .5 2 .5 -1.1 .5 -.4 .5 1.6 .5 -1.8 .5 -1.3 .5 .3 .5 .2 .5 1.1 .5 .3 .5 -2 .5 1.9 .5 -1.5 .5 .8 .5 .1 .5 0 .5 -.2 .5 .2 .5 -.7 .5 1 .5 .6 .5 .1 .5 1.2 .5 -.9 .5 -.2 .5 .6 .5 -1 .5 -1.1 .5 -.8 .5 1.9 .5 -.6 .5 -.1 .5 -.8 .5 .3 .5 .8 .5 -1 .5 -.8 .5 .4 .5 1.2 .5 -1.5 .5 -.9 .5 .2 .5 .6 .5 1.3 .5 -.4 .5 -.6 .5 -.4 .5 .6 .5 -.1 .5 -.4 .5 0 .5 -.5 .5 1.4 .5 -2.7 .5 1.4 .5 -.8 .5 1 .5 -.6 .5 .3 .5 0 .5 -.2 .5 .4 .5 -1.6 .5 1.3 .5 -.9 .5 .2 .5 .6 .5 -.5 .5 .3 .5 -2.7 .5 .5 .5 1 .5 -1.5 .5 .4 .5 1 .5 -.6 .5 -1.2 .5 .7 .5 -.1 .5 -.5 .5 -.2 .5 -.2 .5 -1.2 .5 .6 .5 -1 .5 .5 .5 -.3 .5 -1.1 .5 .7 .5 -.3 .5 -.3 .5 .4 .5 -.7 .5 -.1 .5 0 .5 -.3 .5 .5 .5 -2.4 .5 1.1 .5 -1.2 .5 .7 .5 .4 .5 -.3 .5 .5 .5 -.5 .5 -1.9 .5 .8 .5 1.4 .5 -.2 .5 -1 .5 -1.1 .5 2.2 .5 -2.5 .5 1.4 .5 -.2 .5 .3 .5 -.8 .5 .4 .5 1 .5 -.9 .5 -.4 .5 .9 .5 .2 .5 .1 .5 -.3 .5 1 .5 -.3 .5 -.6 .5 .9 .5 -.3 .5 .1 .5 -1.2 .5 .6 .5 .7 .5 .4 .5 -.1 .5 .1 .5 .7 .5 .5 .5 .8 .5 -.3 .5 -.1 .5 1 .5 -1 .5 1.6 .5 0 .5 .5 .5 .4 .5 -.2 .5 -.9 .5 .6 .5 -.4 .5 .3 .5 .1 .5 -.9 .5 1 .5 .3 .5 -.8 .5 .7 .5 -1.1 .5 .7 .5 1.1 .5 -1.5 .5 .8 .5 -.2 .5 1.1 .5 -.2 .5 -1.4 .5 -.1 .5 -2.2 .5 1.4 .5 -1 .5 -.1 .5 -2.9 .5 .8 .5 -1.3 .5 -2.2 .5 .1 .5 -.8 .5 -.7 .5 -1.8 .5 -2.1 .5 -1.3 .5 -2.4 .5 -2.7 .5 -2.9 .5 -2.3 .5 -3.5 .5 -3 .5 -5.7 .5 -4 .5 -6.4 .5 -6 .5 -7.8 .5 -7.2 .5 -7.1 .5 -6.8 .5 -6.2 .5 -4.6 .5 -2.7 .5 .6 .5 9.6 .5 16.3 .5 17.8 .5 15.8 .5 12.8 .5 7.8 .5 5.6 .5 3.1 .5 2.7 .5 1.1 .5 .8 .5 -.4 .5 .4 .5 1.6 .5 .7 .5 1 .5 -1.3 .5 1.4 .5 -.4 .5 .9 .5 .9 .5 1 .5 -.5 .5 .2 .5 .5 .5 1 .5 .8 .5 -2.2 .5 .8 .5 0 .5 .9 .5 -.3 .5 .6 .5 -1.4 .5 .5 .5 -.3 .5 -.4 .5 .5 .5 -.6 .5 1.8 .5 -1 .5 -.9 .5 .2 .5 1.3 .5 -1.2 .5 .6 .5 0 .5 .3 .5 -.2 .5 -.4 .5 -.1 .5 -.6 .5 1 .5 .2 .5 -.2 .5 .2 .5 -.5 .5 1.9 .5 -1.4 .5 -.2 .5 .4 .5 .3 .5 .6 .5 -1.7 .5 1.7 .5 -.6 .5 .2 .5 .6 .5 -.2 .5 -.9 .5 .2 .5 1 .5 -.3 .5 -.4 .5 -.5 .5 .5 .5 -.3 .5 -.5 .5 -.3 .5 .9 .5 -.1 .5 .5 .5 -.9 .5 1 .5 -1 .5 .8 .5 -.5 .5 -.7 .5 -.3 .5 .4 .5 -.2 .5 .7 .5 -1 .5 -.5 .5 .7 .5 1 .5 -.2 .5 -1.3 .5 .2 .5 .3 .5 -.5 .5 .3 .5 0 .5 -.3 .5 .2 .5 .1 .5 .4 .5 -.9 .5 .6 .5 -.8 .5 0 .5 -.2 .5 2.7 .5 -1.5 .5 0 .5 -.3 .5 -.6 .5 .2 .5 .1 .5 0 .5 0 .5 .5 .5 -2.5 .5 1.3 .5 .6 .5 -.7 .5 .1 .5 .9 .5 -.8 .5 .9 .5 -1 .5 .2 .5 -.7 .5 -.3 .5 1 .5 .4 .5 -.1 .5 -.3 .5 1.3 .5 -.1 .5 .2 .5 -.2 .5 1.6 .5 .1 .5 -.4 .5 -.1 .5 .4 .5 .8 .5 .7 .5 -1.5 .5 -.2 .5 -.7 .5 2.5 .5 -2.2 .5 1 .5 -.3 .5 .3 .5 -1.3 .5 -.5 .5 .7 .5 0 .5 .2 .5 -1.7 .5 .5 .5 -.2 .5 -.8 .5 .5 .5 .2 .5 -.8 .5 -1.1 .5 .6 .5 -.1 .5 -.5 .5 0 .5 -1.3 .5 1.2 .5 .3 .5 -.3 .5 .5 .5 0 .5 1.4 .5 -.5 .5 0 .5 .9 .5 .2 .5 .5 .5 -.7 .5 .2 .5 .6 .5 1 .5 -1 .5 -1.1 .5 .7 .5 -.6 .5 -.6 .5 .6 .5 0 .5 .6 .5 .5 .5 0 .5 -.1 .5 -.6 .5 .3 .5 -.2 .5 .6 .5 -1.3 .5 -.1 .5 .8 .5 -.6 .5 -.7 .5 .3 .5 -.1 .5 0 .5 .4 .5 -.2 .5 -.2 .5 -.1 .5 -.5 .5 .7 .5 .9 .5 -.4 .5 -.3 .5 .3 .5 -.2 .5 .6 .5 1 .5 0 .5 -.2 .5 -.1 .5 -.4 .5 -.4 .5 .8 .5 -.2 .5 .7 .5 -.4 .5 -.4 .5 .4 .5 1.2 .5 -2.2 .5 .9 .5 -.5 .5 -.6 .5 -.6 .5 .2 .5 -.2 .5 0 .5 -.3 .5 -.5 .5 -.9 .5 .3 .5 -.6 .5 -.3 .5 1.1 .5 -.6 .5 0 .5 1 .5 -.8 .5 1.2 .5 .4 .5 -.3 .5 .4 .5 1 .5 -.4 .5 -.2 .5 -.2 .5 -.5 .5 .1 .5 0 .5 .1 .5 0 .5 -.5 .5 1.1 .5 -1.4 .5 .6 .5 .3 .5 -.5 .5 -.3 .5 .4 .5 1.1 .5 -.5 .5 -.2 .5 .7 .5 -.2 .5 -.6 .5 1.3 .5 .5 .5 .2 .5 -.7 .5 -.7 .5 1.2 .5 -.9 .5 .2 .5 0 .5 -.7 .5 -.5 .5 -.6 .5 -.1 .5 .1 .5 -.4 .5 .3 .5 -1.3 .5 .3 .5 .4 .5 -.5 .5 -.2 .5 -.6 .5 .6 .5 .2 .5 -1.8 .5 .7 .5 -1.7 .5 .3 .5 -1.5 .5 .6 .5 -.9 .5 -.7 .5 -.4 .5 -1.3 .5 -1.3 .5 -1.4 .5 -.5 .5 -1.1 .5 -.5 .5 .6 .5 -.5 .5 -.3 .5 .3 .5 -.8 .5 .9 .5 -.9 .5 .4 .5 .2 .5 -.6 .5 -.7 .5 -1.4 .5 -1.6 .5 -2 .5 -2 .5 -3.6 .5 -5.8 .5 -5.3 .5 -7.1 .5 -9.8 .5 -10.7 .5 -12.3 .5 -12.5 .5 -10.7 .5 -6.6 .5 -.4 .5 7.4 .5 13.1 .5 16 .5 15.8 .5 14.3 .5 10.9 .5 9.2 .5 6.1 .5 3.8 .5 3 .5 1.5 .5 1.2 .5 1 .5 .1 .5 1.2 .5 .8 .5 -.9 .5 1.3 .5 -.4 .5 .3 .5 .4 .5 .2 .5 .7 .5 -.7 .5 1.1 .5 -.7 .5 .4 .5 .2 .5 -.6 .5 -.1 .5 .7 .5 .3 .5 .1 .5 -.6 .5 .9 .5 -1 .5 -.3 .5 .8 .5 -.1 .5 -1.1 .5 .8 .5 -.9 .5 .7 .5 1.2 .5 -.3 .5 -.2 .5 .1 .5 -.6 .5 .7 .5 .1 .5 -.6 .5 .7 .5 .2 .5 0 .5 .2 .5 -.2 .5 -.3 .5 .7 .5 -.8 .5 .7 .5 1 .5 .5 .5 -.7 .5 -1.3 .5 1.8 .5 -.4 .5 -.4 .5 .4 .5 -.2 .5 -.9 .5 -.2 .5 1 .5 -1.8 .5 1.3 .5 -.3 .5 .2 .5 .3 .5 -.3 .5 0 .5 -.4 .5 -.2 .5 .3 .5 -.5 .5 -.4 .5 .4 .5 -.7 .5 .6 .5 1.2 .5 -.8 .5 -.4 .5 -.5 .5 -.8 .5 .2 .5 -.6 .5 -.1 .5 -.4 .5 -.5 .5 -1.2 .5 1.3 .5 -.7 .5 -.2 .5 0 .5 .6 .5 .7 .5 .1 .5 -.4 .5 .3 .5 -.1 .5 1.4 .5 .6 .5 .4 .5 -.3 .5 .4 .5 -.6 .5 .8 .5 -.2 .5 -.2 .5 -.4 .5 1.3 .5 -1.6 .5 1.4 .5 -.7 .5 .6 .5 -.6 .5 .6 .5 -.5 .5 -.4 .5 .2 .5 -.4 .5 .9 .5 .3 .5 -.3 .5 -.1 .5 .5 .5 -1.3 .5 .7 .5 -.3 .5 -.4 .5 .4 .5 -.8 .5 .5 .5 .3 .5 -.6 .5 .5 .5 .4 .5 .2 .5 -1 .5 .7 .5 -.9 .5 -.2 .5 -.8 .5 0 .5 -1.2 .5 -.2 .5 -.4 .5 -.3 .5 -1.2 .5 .7 .5 -.3 .5 .9 .5 -.4 .5 .4 .5 .8 .5 .5 .5 .6 .5 0 .5 0 .5 .6 .5 .7 .5 .6 .5 -.2 .5 -.2 .5 .4 .5 .2 .5 1.3 .5 -.6 .5 -.4 .5 -.8 .5 .6 .5 -.1 .5 .3 .5 .6 .5 -1.2 .5 -1 .5 .7 .5 -.8 .5 1 .5 .1 .5 -.3 .5 -.8 .5 .7 .5 .7 .5 -.9 .5 .3 .5 .5 .5 .1 .5 -.1 .5 0 .5 -.1 .5 -.5 .5 .2 .5 .1 .5 -.7 .5 .6 .5 0 .5 .3 .5 .1 .5 -.5 .5 0 .5 .8 .5 -.1 .5 .2 .5 -.3 .5 -.3 .5 .6 .5 -.1 .5 .3 .5 .2 .5 0 .5 0 .5 -1 .5 -.5 .5 .6 .5 -.3 .5 -.1 .5 .9 .5 -1.1 .5 1.1 .5 0 .5 .7 .5 -.8 .5 .4 .5 -1.3 .5 0 .5 .7 .5 -1 .5 1.2 .5 -.6 .5 -.7 .5 1.8 .5 -1.2 .5 1.7 .5 -1.7 .5 .3 .5 .5 .5 -.1 .5 -.8 .5 .7 .5 -.1 .5 -.1 .5 -1.1 .5 .3 .5 .1 .5 .3 .5 -.4 .5 -.3 .5 -.1 .5 .8 .5 -1.2 .5 .3 .5 -1.4 .5 1.4 .5 -1 .5 -1.3 .5 .7 .5 .1 .5 -.4 .5 -.2 .5 .6 .5 -.4 .5 .7 .5 .4 .5 .6 .5 -.1 .5 1.3 .5 -.5 .5 -.2 .5 .5 .5 .3 .5 0 .5 .6 .5 -.5 .5 -.1 .5 .7 .5 .4 .5 -.9 .5 -.2 .5 .4 .5 .2 .5 -.4 .5 .4 .5 -.5 .5 .7 .5 -1 .5 .1 .5 .4 .5 .3 .5 .1 .5 -.6 .5 .3 .5 .3 .5 .4 .5 -1 .5 -.2 .5 .6 .5 -.5 .5 .4 .5 -1 .5 -.4 .5 -1.3 .5 -.4 .5 -.7 .5 -1.9 .5 -1.7 .5 -.6 .5 -1.9 .5 -1.2 .5 -1.3 .5 .1 .5 -.8 .5 .5 .5 1 .5 1 .5 .4 .5 2.4 .5 .6 .5 1.9 .5 .8 .5 1 .5 .4 .5 .5 .5 .9 .5 .4 .5 .6 .5 0 .5 -.4 .5 .8 .5 .5 .5 -.6 .5 -.4 .5 -.3 .5 .5 .5 -.6 .5 1 .5 -.5 .5 .1 .5 .5 .5 -.5 .5 -.1 .5 .7 .5 .7 .5 -.8 .5 .7 .5 -1.2 .5 .5 .5 0 .5 .1 .5 -2.1 .5 .1 .5 -1.1 .5 -.3 .5 -1.2 .5 -.7 .5 -1.4 .5 -.8 .5 -.4 .5 0 .5 -.8 .5 .1 .5 .2 .5 1.5 .5 -.6 .5 .9 .5 1.4 .5 1.5 .5 1 .5 .6 .5 .7 .5 .3 .5 .1 .5 .1 .5 .9 .5 -.4 .5 .8 .5 .3 .5 -.4 .5 .1 .5 0 .5 .5 .5 -.2 .5 -.3 .5 .3 .5 .5 .5 -.5 .5 -.1 .5 -.3 .5 -.2 .5 .3 .5 .1 .5 -.2 .5 .6 .5 -.6 .5 0 .5 .1 .5 .1 .5 -.9 .5 .8 .5 .5 .5 -1 .5 .6 .5 -.4 .5 -.2 .5 .4 .5 -.2 .5 -.9 .5 .4 .5 .4 .5 -.7 .5 -.2 .5 .1 .5 -.2 .5 .5 .5 -.7 .5 -.2 .5 .7 .5 .2 .5 -.1 .5 .1 .5 -.5 .5 -.3 .5 .4 .5 .3 .5 -.7 .5 .5 .5 .3 .5 -.5 .5 1 .5 -.5 .5 -.8 .5 .1 .5 .2 .5 .6 .5 -.1 .5 -.4 .5 .3 .5 .2 .5 -.2 .5 -1 .5 0 .5 -.2 .5 -.7 .5 .6 .5 -1.1 .5 -.6 .5 -.8 .5 -.3 .5 -.7 .5 -.7 .5 -.4 .5 -1.3 .5 .9 .5 .4 .5 -.8 .5 .7 .5 1 .5 1 .5 .1 .5 .5 .5 1.7 .5 -.6 .5 -.5 .5 1.6 .5 .5 .5 .4 .5 .2 .5 .7 .5 -1.3 .5 -.1 .5 -.1 .5 1.4 .5 -.8 .5 -.5 .5 -.1 .5 .9 .5 -.2 .5 .3 .5 -.4 .5 0 .5 .5 .5 -.3 .5 .3 .5 -.2 .5 -.1 .5 .3 .5 -.2 .5 .2 .5 .2 .5 -.2 .5 .2 .5 .2 .5 .3 .5 -.1 .5 .1 .5 .2 .5 -.2 .5 .3 .5 -.3 .5 -.4 .5 .9 .5 -.8 .5 .7 .5 .6 .5 -.3 .5 -.7 .5 .7 .5 -.2 .5 -.5 .5 .3 .5 -.2 .5 .1 .5 .2 .5 -.8 .5 .8 .5 .4 .5 -.9 .5 -.3 .5 .1 .5 .5 .5 -.7 .5 .3 .5 .5 .5 -1.2 .5 .3 .5 -.3 .5 .1 .5 .2 .5 -.2 .5 .5 .5 0 .5 .5 .5 -.1 .5 -.1 .5 .5 .5 -.6 .5 .3 .5 -.5 .5 .8 .5 -.8 .5 .6 .5 -.6 .5 .3 .5 -.4 .5 .1 .5 0 .5 .5 .5 0 .5 .1 .5 -.1 .5 -.3 .5 .2 .5 .2 .5 -.8 .5 -.3 .5 .4 .5 .4 .5 -.8 .5 -.2 .5 -.3 .5 .1 .5 -.1 .5 -.1 .5 .7 .5 .1 .5 -.5 .5 -.1 .5 .1 .5 -.4 .5 -.1 .5 0 .5 -.6 .5 .1 .5 .2 .5 -1.9 .5 -.8 .5 -1.4 .5 -1.1 .5 -1.1 .5 -1.2 .5 -1.5 .5 -1.5 .5 -.2 .5 -.7 .5 .5 .5 .4 .5 1 .5 1.4 .5 .6 .5 2.7 .5 .6 .5 1.7 .5 1.2 .5 .5 .5 .4 .5 1.2 .5 -.2 .5 .5 .5 .4 .5 -.2 .5 -.4 .5 .4 .5 .5 .5 -.5 .5 .6 .5 -.8 .5 .2 .5 -.3 .5 .3 .5 1 .5 -.3 .5 -.2 .5 0 .5 .8 .5 -.4 .5 -.2 .5 .9 .5 -1 .5 .6 .5 .1 .5 .1 .5 .4 .5 -.5 .5 -.5 .5 .6 .5 -.3 .5 -.6 .5 0 .5 .1 .5 -.5 .5 .9 .5 .1 .5 0 .5 -.5 .5 .3 .5 .4 .5 -.3 .5 -.2 .5 -.3 .5 .2 .5 .4 .5 -.5 .5 .8 .5 0 .5 -.7 .5 -.8 .5 .5 .5 .5 .5 -.7 .5 -.2 .5 0 .5 .6 .5 -1.5 .5 -1 .5 .2 .5 -.8 .5 -.7 .5 -1.2 .5 -.9 .5 -1.4 .5 -.6 .5 -1.3 .5 -.7 .5 -1 .5 .4 .5 -.3 .5 .2 .5 1 .5 .6 .5 1.2 .5 1.6 .5 1 .5 1 .5 .8 .5 .4 .5 .7 .5 1.1 .5 -.3 .5 -.2 .5 .7 .5 0 .5 .2 .5 .1 .5 -.3 .5 .6 .5 -.2 .5 .2 .5 -.4 .5 -.1 .5 .2 .5 .7 .5 -1.2 .5 1 .5 -.4 .5 .4 .5 -.5 .5 .4 .5 .1 .5 .7 .5 -.6 .5 .2 .5 -.2 .5 .5 .5 -.3 .5 .3 .5 .1 .5 0 .5 -.6 .5 -.2 .5 .5 .5 -.7 .5 .1 .5 -.3 .5 -.5 .5 .5 .5 -.1 .5 .7 .5 -1.2 .5 .4 .5 .4 .5 -.3 .5 -.6 .5 1 .5 -.2 .5 -.2 .5 0 .5 .2 .5 .3 .5 0 .5 0 .5 .5 .5 .3 .5 -.4 .5 .7 .5 -.5 .5 .2 .5 -.1 .5 -.1 .5 -.3 .5 -1 .5 .3 .5 .4 .5 -.7 .5 .3 .5 -.6 .5 .4 .5 .9 .5 -.4 .5 -.2 .5 .1 .5 -.3 .5 .8 .5 -.2 .5 .3 .5 0 .5 -.3 .5 -.2 .5 -.1 .5 .3 .5 .2 .5 .5 .5 -.7 .5 .5 .5 -.5 .5 .1 .5 .4 .5 -.1 .5 -.5 .5 -.2 .5 .4 .5 -.6 .5 -.3 .5 -.6 .5 .8 .5 -.6 .5 -.8 .5 .1 .5 -.9 .5 -.5 .5 .1 .5 .2 .5 -.6 .5 1 .5 .4 .5 .5 .5 .1 .5 .7 .5 -.6 .5 .8 .5 .6 .5 0 .5 -.1 .5 -.5 .5 .3 .5 -.5 .5 .3 .5 .1 .5 -.4 .5 .3 .5 -.3 .5 .2 .5 -.5 .5 -.4 .5 0 .5 .2 .5 .2 .5 0 .5 -.4 .5 .2 .5 -.4 .5 .1 .5 -1 .5 .3 .5 -.9 .5 -.7 .5 -.8 .5 .1 .5 -.6 .5 .3 .5 .5 .5 -.2 .5 .5 .5 .7 .5 .3 .5 1.3 .5 -.1 .5 .7 .5 .3 .5 .1 .5 .9 .5 -.1 .5 -.2 .5 .1 .5 -.4 .5 .3 .5 .6 .5 -.1 .5 -.6 .5 .4 .5 0 .5 -.1 .5 .1 .5 -.9 .5 .7 .5 -.4 .5 .6 .5 -.4 .5 .3 .5 .2 .5 -.8 .5 .2 .5 -.1 .5 .1 .5 -.6 .5 .7 .5 .3 .5 -.6 .5 .2 .5 -.9 .5 .5 .5 .7 .5 0 .5 .3 .5 .3 .5 -.3 .5 -.1 .5 0 .5 .2 .5 -.7 .5 1 .5 -1.2 .5 .2 .5 .4 .5 .3 .5 -.2 .5 .4 .5 -.6 .5 0 .5 .4 .5 -.4 .5 .4 .5 .1 .5 -.1 .5 -.8 .5 .5 .5 -.6 .5 .8 .5 -.4 .5 .4 .5 .1 .5 -.8 .5 .7 .5 -.2 .5 .3 .5 -.9 .5 0 .5 .1 .5 -.4 .5 .5 .5 -.3 .5 .2 .5 .1 .5 .1 .5 -.6 .5 .6 .5 .1 .5 -.5 .5 .2 .5 -.2 .5 .9 .5 .1 .5 -.6 .5 .2 .5 .1 .5 -.1 .5 -.4 .5 .3 .5 -1.1 .5 .2 .5 -.6 .5 -.3 .5 -.7 .5 -.7 .5 .1 .5 -.1 .5 -.6 .5 -.5 .5 .3 .5 0 .5 -.3 .5 .4 .5 .4 .5 .1 .5 .5 .5 .4 .5 -.1 .5 .1 .5 -.1 .5 1 .5 0 .5 .3 .5 -.4 .5 .4 .5 -.2 .5 0 .5 0 .5 .4 .5 .3 .5 .2 .5 0 .5 -.1 .5 .7 .5 -.1 .5 -.2 .5 -.4 .5 .3 .5 -.7 .5 -.2 .5 .5 .5 -.2 .5 .2 .5 -.6 .5 .3 .5 -.4 .5 .1 .5 .2 .5 -.2 .5 -.4 .5 -.2 .5 .1 .5 -.2 .5 -.3 .5 .3 .5 -.4 .5 .5 .5 .1 .5 -.4 .5 .3 .5 -1.3 .5 -.3 .5 .2 .5 -.9 .5 .1 .5 -.3 .5 -.8 .5 -.9 .5 -1.6 .5 -1.6 .5 -2 .5 -2.6 .5 -2.9 .5 -3.7 .5 -3.7 .5 -3.7 .5 -3.2 .5 -2.2 .5 -.5 .5 1.4 .5 2.9 .5 3.9 .5 4 .5 4.3 .5 3.4 .5 3.5 .5 2.1 .5 2 .5 1.3 .5 .8 .5 .7 .5 .3 .5 1 .5 0 .5 1.1 .5 -.4 .5 .4 .5 .4 .5 .1 .5 .4 .5 -.3 .5 -.2 .5 .1 .5 .4 .5 -.3 .5 -.8 .5 .4 .5 -.2 .5 .3 .5 .3 .5 -.1 .5 .3 .5 .5 .5 -.9 .5 .6 .5 .1 .5 .2 .5 -.1 .5 .2 .5 -.2 .5 .1 .5 -.6 .5 .5 .5 -.4 .5 .5 .5 .4 .5 -.4 .5 .2 .5 .2 .5 .3 .5 -.1 .5 .2 .5 -.4 .5 .2 .5 -.4 .5 1 .5 -.9 .5 .5 .5 -.3 .5 0 .5 -.5 .5 .3 .5 -.1 .5 0 .5 -.2 .5 .1 .5 -.3 .5 .6 .5 -.5 .5 1.2 .5 -1 .5 0 .5 .3 .5 0 .5 .3 .5 .1 .5 -.4 .5 0 .5 0 .5 .3 .5 .2 .5 -.2 .5 -.2 .5 0 .5 .1 .5 .1 .5 -.4 .5 .2 .5 -.4 .5 .1 .5 .2 .5 -.5 .5 -.3 .5 .2 .5 .2 .5 -.3 .5 .2 .5 .4 .5 -.4 .5 .4 .5 -.1 .5 -.4 .5 .5 .5 .1 .5 0 .5 -.2 .5 0 .5 -.2 .5 -.1 .5 .2 .5 .2 .5 -.3 .5 .6 .5 -.5 .5 .2 .5 -.5 .5 .8 .5 -.2 .5 .2 .5 -.7 .5 .7 .5 -.2 .5 -.2 .5 .1 .5 -.3 .5 .4 .5 .3 .5 -.5 .5 .3 .5 -.4 .5 -.4 .5 .6 .5 .4 .5 -.1 .5 -.5 .5 .5 .5 0 .5 -.1 .5 -.2 .5 .4 .5 -.3 .5 -.1 .5 .3 .5 -.5 .5 .2 .5 .2 .5 -.7 .5 .2 .5 -.1 .5 -.6 .5 .1 .5 -.2 .5 -.3 .5 -.3 .5 .1 .5 -1 .5 -.2 .5 -.4 .5 -.2 .5 -1.2 .5 -.2 .5 -.1 .5 .1 .5 .4 .5 0 .5 .4 .5 .7 .5 -.1 .5 .6 .5 .8 .5 .1 .5 .1 .5 .3 .5 .7 .5 -.3 .5 .3 .5 .6 .5 .2 .5 .2 .5 -.6 .5 .4 .5 -.9 .5 .5 .5 .9 .5 -.4 .5 -.2 .5 -.4 .5 -.1 .5 .6 .5 -.2 .5 -.1 .5 .4 .5 .1 .5 -.3 .5 .1 .5 .7 .5 -.7 .5 .4 .5 -.4 .5 -.1 .5 -.1 .5 .2 .5 -.1 .5 .2 .5 -.5 .5 .2 .5 -.3 .5 -.2 .5 .2 .5 -.2 .5 -.6 .5 .2 .5 -.6 .5 -.1 .5 .4 .5 -.4 .5 -.6 .5 -.1 .5 -.2 .5 -.2 .5 -.3 .5 -.9 .5 0 .5 0 .5 -.6 .5 .5 .5 .5 .5 .2 .5 .2 .5 .2 .5 .4 .5 .5 .5 .2 .5 .6 .5 .1 .5 -.2 .5 .7 .5 -.1 .5 .3 .5 -.3 .5 .4 .5 -.3 .5 .4 .5 -.2 .5 -.1 .5 -.2 .5 -.1 .5 .6 .5 -.4 .5 0 .5 .4 .5 0 .5 .2 .5 -.4 .5 -.1 .5 .3 .5 .4 .5 -.2 .5 0 .5 0 .5 -.1 .5 0 .5 -.1 .5 .1 .5 0 .5 -.2 .5 .3 .5 -.1 .5 -.1 .5 0 .5 .2 .5 -.2 .5 .3 .5 -.4 .5 .3 .5 -.4 .5 .4 .5 -.1 .5 0 .5 -.1 .5 .2 .5 .2 .5 -.5 .5 .3 .5 .1 .5 .1 .5 0 .5 -.3 .5 .5 .5 -.4 .5 .3 .5 -.1 .5 -.1 .5 -.1 .5 .2 .5 .3 .5 -.1 .5 -.3 .5 .4 .5 .2 .5 .2 .5 -.8 .5 .6 .5 .1 .5 -.3 .5 -.1 .5 .6 .5 -.3 .5 -.3 .5 .1 .5 .3 .5 .2 .5 -.3 .5 -.4 .5 .4 .5 -.7 .5 .6 .5 0 .5 .2 .5 -.2 .5 .1 .5 -.3 .5 -.1 .5 .1 .5 .3 .5 -.5 .5 .1 .5 -.1 .5 .2 .5 0 .5 .3 .5 0 .5 -.2 .5 -.1 .5 -.2 .5 -.3 .5 .3 .5 -.1 .5 -.3 .5 .2 .5 .2 .5 -.4 .5 .4 .5 -.1 .5 -.2 .5 .2 .5 .2 .5 -.2 .5 .1 .5 .3 .5 -.2 .5 .1 .5 -.2 .5 .2 .5 .2 .5 -.5 .5 -.2 .5 .2 .5 .1 .5 -.2 .5 -.1 .5 .7 .5 -.4 .5 -.1 .5 -.4 .5 .8 .5 -.5 .5 .6 .5 -.2 .5 -.1 .5 -.1 .5 .2 .5 -.3 .5 .1 .5 -.2 .5 .1 .5 .4 .5 -.1 .5 -.4 .5 .1 .5 .2 .5 0 .5 .1 .5 -.1 .5 -.1 .5 .3 .5 -.2 .5 .2 .5 -.4 .5 .5 .5 -.2 .5 0 .5 0 .5 -.4 .5 .5 .5 -.3 .5 -.1 .5 .2 .5 .3 .5 -.6 .5 .5 .5 -.8 .5 .5 .5 -.2 .5 .1 .5 .4 .5 -.3 .5 -.5 .5 .6 .5 -.6 .5 0 .5 -.1 .5 .1 .5 -.1 .5 .4 .5 -.3 .5 .1 .5 -.1 .5 .3 .5 -.4 .5 0 .5 .5 .5 0 .5 -.1 .5 .4 .5 -.6 .5 .5 .5 0 .5 -.6 .5 .4 .5 .1 .5 -.2 .5 0 .5 0 .5 -.1 .5 -.1 .5 .4 .5 -.1 .5 -.1 .5 .1 .5 -.3 .5 .1 .5 .3 .5 -.1 .5 .2 .5 .1 .5 .2 .5 -.5 .5 .1 .5 -.1 .5 .1 .5 .2 .5 -.3 .5 .5 .5 -.5 .5 -.3 .5 .2 .5 .5 .5 -.5 .5 .1 .5 -.1 .5 0 .5 .5 .5 -.5 .5 -.1 .5 .2 .5 0 .5 .2 .5 -.1 .5 .2 .5 -.3 .5 .1 .5 -.1 .5 .1 .5 -.4 .5 .1 .5 -.4 .5 .4 .5 -.1 .5 .1 .5 .5 .5 -.1 .5 -.5 .5 .7 .5 -.1 .5 -.2 .5 -.1 .5 0 .5 0 .5 .1 .5 -.2 .5 .2 .5 -.3 .5 -.1 .5 0 .5 .1 .5 0 .5 0 .5 -.3 .5 .1 .5 0 .5 .3 .5 .3 .5 -.1 .5 0 .5 -.1 .5 0 .5 -.1 .5 .2 .5 -.5 .5 0 .5 .2 .5 -.2 .5 .2 .5 -.2 .5 .2 .5 0 .5 -.3 .5 .5 .5 .2 .5 -.3 .5 .1 .5 .2 .5 .2 .5 -.3 .5 .4 .5 -.6 .5 .4 .5 -.5 .5 .1 .5 -.2 .5 .4 .5 -.1 .5 -.5 .5 -.2 .5 .9 .5 -.5 .5 -.3 .5 .1 .5 0 .5 .4 .5 -.2 .5 -.1 .5 -.2 .5 .3 .5 -.4 .5 .6 .5 0 .5 -.3 .5 -.1 .5 .2 .5 .1 .5 .5 .5 0 .5 -.5 .5 0 .5 -.2 .5 .4 .5 -.2 .5 .2 .5 -.2 .5 -.1 .5 0 .5 -.1 .5 .4 .5 -.3 .5 .4 .5 -.4 .5 -.2 .5 .5 .5 -.1 .5 .3 .5 -.2 .5 0 .5 .1 .5 -.3 .5 .3 .5 .3 .5 -.4 .5 -.1 .5 .2 .5 -.1 .5 .2 .5 .4 .5 -.5 .5 0 .5 .3 .5 -.2 .5 0 .5 -.2 .5 .1 .5 .2 .5 -.3 .5 -.3 .5 -.1 .5 -.2 .5 0 .5 .3 .5 0 .5 0 .5 0 .5 -.1 .5 .2 .5 .1 .5 .3 .5 -.3 .5 0 .5 -.2 .5 .3 .5 -.3 .5 .1 .5 0 .5 -.3 .5 .2 .5 .1 .5 -.4 .5 .1 .5 -.1 .5 .1 .5 .4 .5 -.4 .5 .2 .5 -.2 .5 -.1 .5 .1 .5 .1 .5 -.1 .5 .1 .5 .1 .5 -.2 .5 .5 .5 -.2 .5 -.2 .5 -.1 .5 .2 .5 -.3 .5 -.1 .5 .1 .5 .2 .5 -.3 .5 -.1 .5 -.4 .5 0 .5 -.6 .5 -.4 .5 -.5 .5 -.4 .5 -.8 .5 -.5 .5 -.6 .5 -.9 .5 -.9 .5 -.2 .5 -1.1 .5 -.9 .5 -.4 .5 -.7 .5 -.4 .5 -.6 .5 -1.3 .5 -.1 .5 -.2 .5 -.5 .5 .4 .5 -.1 .5 0 .5 .4 .5 .7 .5 1 .5 .6 .5 .1 .5 1.2 .5 .4 .5 1 .5 .6 .5 .9 .5 .6 .5 .8 .5 .3 .5 .8 .5 .3 .5 .2 .5 .9 .5 .1 .5 .1 .5 .3 .5 .4 .5 0 .5 0 .5 .2 .5 .1 .5 0 .5 .5 .5 -.1 .5 .1 .5 -.3 .5 -.2 .5 .3 .5 .2 .5 -.2 .5 .1 .5 -.2 .5 .2 .5 -.2 .5 .1 .5 .1 .5 -.3 .5 0 .5 0 .5 .3 .5 -.1 .5 .2 .5 0 .5 .1 .5 -.2 .5 .3 .5 -.1 .5 -.5 .5 .6 .5 -.1 .5 -.2 .5 -.1 .5 -.1 .5 .4 .5 -.1 .5 0 .5 0 .5 0 .5 .5 .5 -.3 .5 .1 .5 .1 .5 0 .5 0 .5 .2 .5 -.3 .5 .6 .5 -.7 .5 .5 .5 .3 .5 -.6 .5 .4 .5 .1 .5 -.6 .5 .3 .5 -.4 .5 .1 .5 -.2 .5 -.2 .5 0 .5 .1 .5 -.2 .5 .4 .5 .1 .5 .2 .5 -.1 .5 -.1 .5 0 .5 .5 .5 -.8 .5 .1 .5 .6 .5 -.2 .5 -.2 .5 .1 .5 .1 .5 -.5 .5 .2 .5 .2 .5 0 .5 .1 .5 -.2 .5 -.2 .5 0 .5 .2 .5 -.2 .5 .1 .5 .2 .5 0 .5 -.5 .5 .5 .5 -.5 .5 -.1 .5 .8 .5 -.4 .5 -.1 .5 0 .5 .3 .5 .2 .5 -.1 .5 -.2 .5 -.2 .5 .2 .5 .3 .5 -.1 .5 -.4 .5 .3 .5 .1 .5 -.3 .5 .4 .5 .1 .5 -.1 .5 -.4 .5 .1 .5 .1 .5 -.1 .5 .3 .5 -.1 .5 0 .5 0 .5 -.1 .5 -.1 .5 .3 .5 -.1 .5 .2 .5 -.2 .5 -.1 .5 .2 .5 -.3 .5 -.3 .5 .6 .5 -.1 .5 -.2 .5 -.2 .5 .1 .5 .4 .5 -.1 .5 0 .5 .1 .5 -.2 .5 0 .5 .4 .5 -.2 .5 .1 .5 -.1 .5 .1 .5 0 .5 -.4 .5 .1 .5 .3 .5 -.3 .5 .2 .5 -.4 .5 -.2 .5 .2 .5 -.1 .5 0 .5 0 .5 -.2 .5 .5 .5 -.2 .5 -.2 .5 -.2 .5 .4 .5 -.2 .5 0 .5 0 .5 0 .5 -.2 .5 -.2 .5 .3 .5 .2 .5 -.4 .5 .2 .5 .4 .5 -.5 .5 .5 .5 -.4 .5 -.2 .5 .2 .5 0 .5 .2 .5 -.6 .5 .2 .5 0 .5 -.1 .5 .2 .5 -.1 .5 .1 .5 0 .5 .2 .5 -.3 .5 .2 .5 .2 .5 -.1 .5 0 .5 .2 .5 0 .5 0 .5 0 .5 .2 .5 0 .5 -.3 .5 .3 .5 -.1 .5 .1 .5 -.3 .5 -.1 .5 .2 .5 .2 .5 -.4 .5 .5 .5 -.2 .5 .1 .5 0 .5 -.1 .5 .1 .5 .1 .5 .2 .5 -.2 .5 0 .5 -.2 .5 .1 .5 .3 .5 0 .5 -.3 .5 0 .5 -.1 .5 -.1 .5 .2 .5 -.2 .5 .4 .5 -.7 .5 .1 .5 .1 .5 .4 .5 0 .5 -.1 .5 -.3 .5 .6 .5 -.3 .5 .6 .5 -.3 .5 -.2 .5 .1 .5 .3 .5 -.5 .5 -.2 .5 -.4 .5 .4 .5 -.3 .5 .3 .5 -.2 .5 .1 .5 -.3 .5 -.1 .5 .4 .5 -.2 .5 -.1 .5 .2 .5 .2 .5 -.3 .5 .5 .5 -.3 .5 -.3 .5 0 .5 .1 .5 0 .5 0 .5 .1 .5 .1 .5 -.1 .5 0 .5 -.2 .5 .7 .5 -.3 .5 .1 .5 -.1 .5 .2 .5 -.3 .5 .2 .5 -.3 .5 0 .5 .1 .5 .1 .5 .1 .5 -.3 .5 .3 .5 -.2 .5 -.1 .5 .6 .5 -.2 .5 -.1 .5 0 .5 .3 .5 -.2 .5 0 .5 .1 .5 -.2 .5 -.3 .5 .5 .5 -.3 .5 0 .5 -.3 .5 -.2 .5 .6 .5 -.1 .5 .1 .5 .1 .5 .1 .5 .1 .5 -.1 .5 -.4 .5 0 .5 .2 .5 .2 .5 -.1 .5 -.3 .5 -.1 .5 .2 .5 -.1 .5 .2 .5 0 .5 -.1 .5 -.2 .5 -.1 .5 .2 .5 .2 .5 -.1 .5 .2 .5 -.2 .5 .3 .5 -.1 .5 -.1 .5 0 .5 .1 .5 .1 .5 .2 .5 -.3 .5 .1 .5 -.6 .5 .5 .5 -.3 .5 -.3 .5 -.3 .5 .2 .5 .4 .5 -.1 .5 0 .5 -.2 .5 .3 .5 0 .5 0 .5 -.3 .5 .1 .5 0 .5 .6 .5 -1.1 .5 .6 .5 -.2 .5 -.4 .5 -.1 .5 -.3 .5 -.2 .5 -.5 .5 -.5 .5 .6 .5 -.4 .5 -.8 .5 .2 .5 -.5 .5 -.1 .5 -.5 .5 -.1 .5 .4 .5 -.6 .5 0 .5 .2 .5 .1 .5 -.3 .5 .4 .5 .2 .5 -.1 .5 .2 .5 .4 .5 .1 .5 .6 .5 -.5 .5 .7 .5 .1 .5 0 .5 .5 .5 -.1 .5 .4 .5 .4 .5 -.2 .5 .4 .5 .1 .5 0 .5 .1 .5 .2 .5 .1 .5 -.1 .5 .2 .5 .2 .5 -.3 .5 0 .5 .3 .5 0 .5 -.5 .5 .4 .5 .3 .5 -.1 .5 -.2 .5 .2 .5 -.3 .5 .4 .5 0 .5 .2 .5 -.2 .5 .2 .5 -.2 .5 .3 .5 -.2 .5 -.4 .5 -.1 .5 .4 .5 .1 .5 -.1 .5 -.3 .5 .1 .5 -.2 .5 0 .5 .1 .5 .3 .5 -.3 .5 .4 .5 -.6 .5 .2 .5 .2 .5 0 .5 -.1 .5 -.4 .5 .2 .5 .3 .5 -.2 .5 0 .5 -.1 .5 -.1 .5 0 .5 -.1 .5 .4 .5 -.1 .5 0 .5 0 .5 0 .5 -.2 .5 .3 .5 -.1 .5 0 .5 .2 .5 .2 .5 -.4 .5 .2 .5 .3 .5 -.5 .5 .4 .5 -.2 .5 .3 .5 .1 .5 -.3 .5 .2 .5 -.1 .5 .2 .5 -1.1 .5 .5 .5 .1 .5 0 .5 .3 .5 -.1 .5 -.3 .5 -.3 .5 .5 .5 -.2 .5 -.1 .5 .2 .5 .2 .5 -.3 .5 .2 .5 -.6 .5 .5 .5 .3 .5 -.2 .5 -.4 .5 -.1 .5 .3 .5 -.3 .5 .1 .5 -.2 .5 .1 .5 .3 .5 -.2 .5 0 .5 0 .5 .2 .5 .1 .5 0 .5 -.6 .5 .5 .5 -.3 .5 .1 .5 -.2 .5 .4 .5 .1 .5 -.2 .5 .2 .5 -.4 .5 -.1 .5 -.3 .5 .2 .5 0 .5 .4 .5 -.5 .5 .1 .5 .1 .5 -.1 .5 0 .5 .2 .5 -.4 .5 .1 .5 0 .5 .2 .5 -.1 .5 -.2 .5 0 .5 -.7 .5 .4 .5 -.3 .5 -.2 .5 .3 .5 -.3 .5 -.2 .5 -.3 .5 .2 .5 .1 .5 -.3 .5 -.1 .5 0 .5 -.3 .5 -.2 .5 -.1 .5 -.1 .5 -.1 .5 0 .5 -.1 .5 .2 .5 -.4 .5 .5 .5 -.3 .5 .1 .5 .3 .5 -.1 .5 -.1 .5 .7 .5 .3 .5 -.5 .5 .6 .5 -.1 .5 .2 .5 .4 .5 -.5 .5 .3 .5 .4 .5 -.2 .5 .1 .5 -.1 .5 .1 .5 .1 .5 .3 .5 -.1 .5 .3 .5 .5 .5 -.8 .5 .4 .5 0 .5 -.2 .5 .3 .5 -.2 .5 0 .5 .3 .5 .3 .5 -.3 .5 .2 .5 -.2 .5 0 .5 -.1 .5 .3 .5 .1 .5 -.4 .5 -.1 .5 .5 .5 -.2 .5 -.2 .5 .5 .5 -.2 .5 -.1 .5 .1 .5 -.2 .5 .7 .5 -1 .5 .3 .5 .1 .5 0 .5 -.3 .5 .1 .5 0 .5 .3 .5 0 .5 0 .5 -.3 .5 .3 .5 -.1 .5 -.1 .5 0 .5 .3 .5 0 .5 -.1 .5 0 .5 .1 .5 .5 .5 -.4 .5 .1 .5 .2 .5 -.1 .5 -.2 .5 -.1 .5 -.2 .5 .1 .5 .1 .5 .1 .5 -.3 .5 .3 .5 0 .5 -.1 .5 -.3 .5 -.1 .5 .5 .5 -.5 .5 .4 .5 .5 .5 -.6 .5 -.2 .5 .4 .5 -.4 .5 .1 .5 -.4 .5 .1 .5 .4 .5 -.3 .5 -.1 .5 .1 .5 .1 .5 .1 .5 0 .5 0 .5 -.4 .5 .2 .5 -.2 .5 .7 .5 -.3 .5 .1 .5 .6 .5 -.1 .5 -.2 .5 0 .5 -.1 .5 .2 .5 .4 .5 -1 .5 .5 .5 0 .5 -.4 .5 .2 .5 0 .5 -.1 .5 .1 .5 .4 .5 -.1 .5 -.1 .5 -.1 .5 .1 .5 .1 .5 .1 .5 .2 .5 -.3 .5 -.2 .5 .2 .5 0 .5 -.1 .5 .2 .5 -.2 .5 0 .5 -.1 .5 .1 .5 -.1 .5 -.3 .5 .4 .5 -.2 .5 -.4 .5 .3 .5 .3 .5 .1 .5 -.4 .5 .2 .5 -.3 .5 .3 .5 -.5 .5 .1 .5 .4 .5 0 .5 -.3 .5 .2 .5 .2 .5 -.4 .5 .2 .5 -.3 .5 -.1 .5 .7 .5 -.3 .5 -.2 .5 -.1 .5 .5 .5 0 .5 .1 .5 -.3 .5 .2 .5 -.2 .5 -.2 .5 .1 .5 -.1 .5 -.1 .5 .1 .5 .3 .5 -.2 .5 -.1 .5 .1 .5 0 .5 -.1 .5 0 .5 -.2 .5 .3 .5 -.5 .5 .1 .5 -.2 .5 .2 .5 0 .5 .2 .5 -.3 .5 .3 .5 -.4 .5 .5 .5 -.3 .5 .3 .5 .1 .5 -.5 .5 .7 .5 -.4 .5 -.3 .5 .5 .5 0 .5 .3 .5 -.7 .5 -.2 .5 .6 .5 -.1 .5 -.1 .5 .2 .5 .4 .5 -.3 .5 .2 .5 -.2 .5 -.1 .5 .2 .5 .5 .5 -.1 .5 -.2 .5 -.2 .5 0 .5 0 .5 -.5 .5 .2 .5 .4 .5 -.7 .5 .2 .5 -.2 .5 0 .5 .3 .5 -.3 .5 .3 .5 -.1 .5 .3 .5 -.4 .5 .4 .5 -.2 .5 -.1 .5 -.1 .5 -.2 .5 .5 .5 -.3 .5 .4 .5 .2 .5 -.8 .5 .4 .5 -.2 .5 .1 .5 .1 .5 -.4 .5 .5 .5 -.3 .5 .4 .5 -.4 .5 .1 .5 -.1 .5 .6 .5 -.7 .5 -.4 .5 .7 .5 -.2 .5 .1 .5 0 .5 .1 .5 -.3 .5 0 .5 .1 .5 0 .5 -.6 .5 .7 .5 -.6 .5 .2 .5 .2 .5 -.3 .5 -.1 .5 .4 .5 0 .5 -.7 .5 .3 .5 0 .5 .2 .5 -.2 .5 .1 .5 -.2 .5 .1 .5 .3 .5 -.5 .5 -.1 .5 -.5 .5 0 .5 -.2 .5 .1 .5 -.2 .5 -.2 .5 .1 .5 -.6 .5 .2 .5 -.2 .5 -.3 .5 -.2 .5 -.1 .5 0 .5 -.1 .5 -.7 .5 .2 .5 -.2 .5 .3 .5 0 .5 -.1 .5 0 .5 .1 .5 -.5 .5 .5 .5 .1 .5 0 .5 -.1 .5 .1 .5 .2 .5 .1 .5 -.2 .5 .7 .5 .2 .5 .5 .5 .1 .5 0 .5 0 .5 .2 .5 .3 .5 .1 .5 -.4 .5 .6 .5 -.1 .5 .3 .5 0 .5 .3 .5 -.1 .5 .3 .5 -.3 .5 .6 .5 0 .5 -.3 .5 .1 .5 -.1 .5 .3 .5 0 .5 -.2 .5 0 .5 .1 .5 -.2 .5 .2 .5 .1 .5 .3 .5 -.4 .5 -.2 .5 .4 .5 -.2 .5 -.1 .5 .3 .5 -.3 .5 .4 .5 -.1 .5 -.2 .5 .1 .5 .3 .5 -.4 .5 0 .5 .2 .5 -.1 .5 -.1 .5 .2 .5 -.4 .5 .4 .5 .3 .5 0 .5 -.4 .5 .1 .5 .1 .5 -.3 .5 .1 .5 0 .5 -.5 .5 .4 .5 -.2 .5 -.1 .5 0 .5 -.4 .5 .4 .5 .3 .5 .1 .5 -.2 .5 0"/>
</g>
<g id="black">
<g font-family="'Liberation Serif', 'DejaVu Serif', serif" fill="#000">
<text transform="translate(208.0 958.6) scale(0.947 1)" font-size="58.03">6.8</text>
<text transform="translate(305.67 938.2) scale(0.9787 1)" font-size="58.03">11.8</text>
<text transform="translate(498.02 1089.2) scale(0.948 1)" font-size="58.03">18.5</text>
<text transform="translate(993.23 1103.4) scale(0.954 1)" font-size="58.03">38.0</text>
</g>
<g font-family="'Liberation Sans', 'DejaVu Sans', sans-serif" fill="#000"><text transform="translate(1505.58 1157.6) scale(0.9638 1)" font-size="66.38">Mg-MOF-74</text></g>
<path fill="none" stroke="#000000" stroke-width="7.6" stroke-linejoin="round" d="M181 1187.4l.5 .1 .5 .6 .5 -.6 .5 .3 .5 0 .5 -1.2 .5 1.1 .5 -.8 .5 1.3 .5 -.6 .5 -.5 .5 .5 .5 .2 .5 .1 .5 .5 .5 -.5 .5 .5 .5 -.6 .5 -.5 .5 -.8 .5 -.1 .5 .8 .5 .3 .5 .4 .5 -1 .5 .3 .5 -.4 .5 .1 .5 -.9 .5 1.4 .5 -.7 .5 .3 .5 .2 .5 0 .5 -.8 .5 1.3 .5 -.5 .5 -.3 .5 -.8 .5 -.7 .5 -.3 .5 .4 .5 0 .5 -.6 .5 1.1 .5 -.8 .5 .3 .5 -.1 .5 -1 .5 1 .5 -.4 .5 -.9 .5 .7 .5 -.1 .5 -.4 .5 -.3 .5 -1.6 .5 .1 .5 -.6 .5 -.2 .5 -.6 .5 -.1 .5 -.9 .5 -1.5 .5 -.1 .5 -.6 .5 -1.7 .5 -2.1 .5 -1 .5 -1.2 .5 -2.4 .5 -1.2 .5 -2.6 .5 -1.5 .5 -2.9 .5 -3.7 .5 -4.5 .5 -3.8 .5 -6 .5 -6.5 .5 -6.9 .5 -10.1 .5 -11.3 .5 -12.3 .5 -15.2 .5 -18.5 .5 -21.3 .5 -23 .5 -24.3 .5 -21.9 .5 -16.8 .5 -7.6 .5 8.7 .5 31.4 .5 42.1 .5 42 .5 34.6 .5 26.2 .5 17.3 .5 10.5 .5 6.6 .5 4.2 .5 1.5 .5 2.1 .5 1.6 .5 .2 .5 1 .5 .2 .5 2.3 .5 1.2 .5 .6 .5 1.5 .5 .4 .5 .3 .5 0 .5 0 .5 .7 .5 .3 .5 -.1 .5 0 .5 0 .5 .6 .5 -1.1 .5 .8 .5 .2 .5 .4 .5 .2 .5 -.3 .5 0 .5 -.1 .5 1.2 .5 -.1 .5 -.1 .5 -.3 .5 -.1 .5 1.3 .5 -.4 .5 .4 .5 .7 .5 -1.4 .5 .4 .5 .5 .5 0 .5 -.9 .5 .3 .5 -.4 .5 -.1 .5 .4 .5 -.1 .5 .5 .5 -.2 .5 .6 .5 -1 .5 .8 .5 -.7 .5 0 .5 .2 .5 1.1 .5 -.3 .5 -.8 .5 1.2 .5 -.3 .5 -.7 .5 -.2 .5 0 .5 -.8 .5 1.6 .5 -1.4 .5 .1 .5 -.1 .5 -.1 .5 0 .5 .7 .5 -.6 .5 .3 .5 .3 .5 .8 .5 -.7 .5 0 .5 .7 .5 -.7 .5 .3 .5 .5 .5 -.3 .5 -.3 .5 .6 .5 -.9 .5 -.1 .5 -.5 .5 .9 .5 .3 .5 -.5 .5 1.2 .5 -.3 .5 0 .5 -.9 .5 .8 .5 .1 .5 -1 .5 .9 .5 -.1 .5 -.6 .5 1 .5 .7 .5 -.6 .5 -.7 .5 .3 .5 .7 .5 -.8 .5 .6 .5 0 .5 .2 .5 .7 .5 -1.4 .5 1.2 .5 -.4 .5 -.3 .5 -.9 .5 .7 .5 -.5 .5 -1.3 .5 .6 .5 0 .5 .1 .5 .2 .5 -.1 .5 1.1 .5 -.1 .5 -.5 .5 .7 .5 .4 .5 -.6 .5 -.9 .5 .8 .5 .3 .5 -1.2 .5 .4 .5 .3 .5 0 .5 -.3 .5 -.2 .5 -.2 .5 -.2 .5 .9 .5 .1 .5 -.5 .5 .1 .5 .9 .5 0 .5 -.9 .5 -.4 .5 .7 .5 .3 .5 0 .5 -.1 .5 -1.1 .5 .7 .5 -.2 .5 -.1 .5 1.5 .5 -1.1 .5 .1 .5 -.3 .5 .4 .5 .2 .5 -.8 .5 0 .5 -.3 .5 -.5 .5 .2 .5 .1 .5 -.2 .5 -.2 .5 -.7 .5 1 .5 0 .5 .7 .5 -.9 .5 -.3 .5 -.2 .5 .6 .5 .2 .5 0 .5 -.9 .5 .2 .5 .5 .5 -.6 .5 -.3 .5 -.1 .5 -.6 .5 .1 .5 .3 .5 .8 .5 0 .5 -.6 .5 .3 .5 -.2 .5 .3 .5 -.9 .5 .3 .5 .2 .5 -1 .5 .5 .5 .1 .5 0 .5 0 .5 -.1 .5 .1 .5 0 .5 -.6 .5 .6 .5 -1.4 .5 -.1 .5 -.1 .5 -.9 .5 -.7 .5 -.4 .5 .6 .5 -1.3 .5 -.9 .5 .8 .5 -1.3 .5 -.8 .5 -1.2 .5 -.4 .5 -1.3 .5 -.7 .5 -1.4 .5 -1.4 .5 -1.3 .5 -2.3 .5 -1.8 .5 -2.5 .5 -2.3 .5 -3.1 .5 -3.7 .5 -5.5 .5 -3.5 .5 -6.8 .5 -7 .5 -8.3 .5 -9.9 .5 -11.2 .5 -14.6 .5 -16.7 .5 -19.5 .5 -22.2 .5 -24.5 .5 -23.9 .5 -20.7 .5 -13.5 .5 -3 .5 19 .5 37.8 .5 43.8 .5 40.2 .5 32.3 .5 22.9 .5 14 .5 9.7 .5 5.3 .5 2.6 .5 2.6 .5 1.4 .5 .7 .5 1.8 .5 .2 .5 1.4 .5 .1 .5 .9 .5 .9 .5 .2 .5 .1 .5 .9 .5 .6 .5 .6 .5 -.4 .5 1.1 .5 -.3 .5 .1 .5 .9 .5 -.1 .5 .1 .5 -.2 .5 -.7 .5 1 .5 .1 .5 -.2 .5 .8 .5 -.6 .5 .7 .5 -.1 .5 -.7 .5 0 .5 .3 .5 .2 .5 .4 .5 -.4 .5 0 .5 1.4 .5 -.7 .5 .3 .5 .7 .5 -.5 .5 -1 .5 1.3 .5 -.4 .5 .6 .5 -1.2 .5 .8 .5 .2 .5 .1 .5 -.3 .5 0 .5 -.5 .5 0 .5 -.4 .5 .8 .5 .3 .5 -.4 .5 -.5 .5 -.2 .5 .4 .5 .9 .5 -.6 .5 -.4 .5 .3 .5 .5 .5 -.6 .5 .2 .5 0 .5 0 .5 1.2 .5 -1.1 .5 .5 .5 .4 .5 -.6 .5 -.2 .5 0 .5 0 .5 -.1 .5 -.1 .5 0 .5 .3 .5 .7 .5 -.8 .5 .6 .5 -.3 .5 -.3 .5 0 .5 .6 .5 -.7 .5 .7 .5 -.4 .5 .8 .5 -1.2 .5 .8 .5 .1 .5 -.2 .5 -.5 .5 .4 .5 -.1 .5 0 .5 .4 .5 -.3 .5 .2 .5 .4 .5 -.5 .5 0 .5 .2 .5 -.2 .5 -.7 .5 .8 .5 .1 .5 -.4 .5 -.3 .5 .9 .5 -.6 .5 .5 .5 -.2 .5 .4 .5 -.3 .5 .2 .5 .2 .5 -.6 .5 .6 .5 .1 .5 -1.1 .5 .3 .5 .5 .5 .6 .5 -.9 .5 -.5 .5 -.1 .5 .7 .5 -.1 .5 -.3 .5 .4 .5 -.3 .5 .7 .5 -1 .5 .3 .5 .6 .5 -.7 .5 -.2 .5 .1 .5 .8 .5 -.7 .5 .4 .5 -.9 .5 .4 .5 .4 .5 0 .5 -.2 .5 -.6 .5 1.2 .5 0 .5 -.3 .5 -1.2 .5 -.4 .5 -.4 .5 -1.2 .5 -.7 .5 -2.8 .5 -2.2 .5 -3 .5 -2.8 .5 -.9 .5 -1.1 .5 .4 .5 2.2 .5 1.7 .5 4.1 .5 1.4 .5 1.5 .5 1.7 .5 1.5 .5 .6 .5 .6 .5 .3 .5 -.1 .5 .4 .5 -1.1 .5 .8 .5 -.1 .5 -.1 .5 -.3 .5 -.2 .5 -.1 .5 -.4 .5 .5 .5 .7 .5 .2 .5 -.6 .5 0 .5 .2 .5 .2 .5 .1 .5 .3 .5 .4 .5 -1.3 .5 .4 .5 .2 .5 .2 .5 .1 .5 .5 .5 -1.1 .5 .6 .5 -.3 .5 .1 .5 .1 .5 .3 .5 -.3 .5 -.4 .5 .7 .5 0 .5 -.8 .5 .7 .5 -.3 .5 -.1 .5 0 .5 .6 .5 -1.4 .5 .7 .5 -.7 .5 .8 .5 .4 .5 -1 .5 1.1 .5 -.2 .5 -.4 .5 -.2 .5 -.1 .5 -.4 .5 -.6 .5 -.5 .5 -1.4 .5 -2.6 .5 -1.7 .5 -2.8 .5 -3.5 .5 -3.7 .5 -2.9 .5 -.2 .5 1.5 .5 2.7 .5 2.8 .5 4.1 .5 2.9 .5 1.4 .5 1.8 .5 1 .5 1 .5 .9 .5 -1 .5 1.5 .5 -.1 .5 -.8 .5 1.2 .5 -.2 .5 -.2 .5 0 .5 -.4 .5 .6 .5 -.4 .5 .4 .5 .4 .5 -.5 .5 -.1 .5 .4 .5 .1 .5 -.1 .5 -.6 .5 .5 .5 -.1 .5 -1 .5 .2 .5 -1.1 .5 .5 .5 -.4 .5 .4 .5 -.2 .5 -.6 .5 1.2 .5 -.5 .5 .9 .5 .1 .5 -.4 .5 -.3 .5 -.1 .5 -.9 .5 .3 .5 .1 .5 -.4 .5 -.9 .5 .7 .5 -.6 .5 -.8 .5 .3 .5 -.8 .5 -.2 .5 -.3 .5 .1 .5 -.6 .5 -2.5 .5 -.7 .5 -1.4 .5 -1.3 .5 -1.8 .5 -2 .5 -1.4 .5 -1.9 .5 -1.4 .5 -.5 .5 -.9 .5 -.6 .5 .5 .5 .2 .5 .7 .5 1.3 .5 1.4 .5 .6 .5 1.7 .5 0 .5 .7 .5 .3 .5 -.6 .5 -.9 .5 -.9 .5 -1.3 .5 -2.2 .5 -3.4 .5 -4.5 .5 -5.4 .5 -6.4 .5 -7.8 .5 -9 .5 -9.7 .5 -9.1 .5 -6.6 .5 -2.4 .5 3.4 .5 8.7 .5 12 .5 12.6 .5 11.8 .5 10.1 .5 7.7 .5 5 .5 4.2 .5 2.1 .5 1.8 .5 1.1 .5 .4 .5 .5 .5 .9 .5 .2 .5 .3 .5 -.1 .5 0 .5 0 .5 0 .5 -.2 .5 .3 .5 -.3 .5 -.1 .5 -.2 .5 .6 .5 -.3 .5 0 .5 0 .5 -.7 .5 -.2 .5 -1 .5 -1.2 .5 -2 .5 -.4 .5 -1.4 .5 -.4 .5 .8 .5 0 .5 2.5 .5 .7 .5 1.7 .5 1.1 .5 -.1 .5 1 .5 0 .5 .5 .5 -.5 .5 1.2 .5 -.4 .5 -.1 .5 -.2 .5 .9 .5 -.5 .5 .5 .5 -.6 .5 .7 .5 -.8 .5 .8 .5 -.4 .5 0 .5 .8 .5 0 .5 -.4 .5 0 .5 .7 .5 -.9 .5 .5 .5 -.2 .5 .1 .5 -.1 .5 -.1 .5 -.4 .5 .4 .5 .1 .5 -.3 .5 .8 .5 -.8 .5 .2 .5 .7 .5 -.8 .5 .1 .5 -.5 .5 .5 .5 -.1 .5 .2 .5 -.5 .5 .8 .5 -.4 .5 -.2 .5 -1.1 .5 -1.4 .5 -.7 .5 -1.9 .5 -2.3 .5 -1.4 .5 -2.2 .5 -.9 .5 .6 .5 1.5 .5 2.2 .5 2.4 .5 1.8 .5 1.4 .5 1.1 .5 1.1 .5 .6 .5 .4 .5 -.4 .5 -.2 .5 .1 .5 1 .5 -.3 .5 -.2 .5 0 .5 .9 .5 -.5 .5 0 .5 -.4 .5 .6 .5 -.5 .5 -.2 .5 .6 .5 -.4 .5 0 .5 -.8 .5 .3 .5 -.2 .5 .4 .5 0 .5 .1 .5 -.1 .5 .8 .5 -.8 .5 .6 .5 -.2 .5 .3 .5 -.9 .5 .6 .5 -.8 .5 .2 .5 -.2 .5 .9 .5 -1.3 .5 .2 .5 -.4 .5 .2 .5 .2 .5 -.3 .5 -.6 .5 -.6 .5 -1 .5 -1.5 .5 -1.7 .5 -3 .5 -3.1 .5 -2.8 .5 -1.5 .5 -.2 .5 .7 .5 2.8 .5 2.7 .5 2 .5 3.8 .5 1.6 .5 .6 .5 .7 .5 1.2 .5 .1 .5 .5 .5 -.2 .5 .6 .5 -.6 .5 .3 .5 0 .5 -.4 .5 .3 .5 -.3 .5 0 .5 -.1 .5 -.6 .5 .5 .5 1.1 .5 -.6 .5 0 .5 .3 .5 .2 .5 .8 .5 -.9 .5 .2 .5 .4 .5 -.8 .5 0 .5 .1 .5 .2 .5 .5 .5 .1 .5 -.3 .5 .4 .5 -1.3 .5 .9 .5 -.7 .5 .3 .5 -.4 .5 -.5 .5 .8 .5 0 .5 -.5 .5 -.3 .5 .9 .5 -1.3 .5 .9 .5 -.3 .5 .2 .5 .6 .5 -.5 .5 .5 .5 -.3 .5 .3 .5 -.4 .5 -.3 .5 -.5 .5 -.4 .5 -.5 .5 .3 .5 .1 .5 -.3 .5 .6 .5 -.1 .5 .5 .5 -.2 .5 .5 .5 .5 .5 -.2 .5 -.6 .5 .9 .5 -.3 .5 .5 .5 -.1 .5 0 .5 -.3 .5 .1 .5 -.3 .5 .2 .5 .1 .5 -.7 .5 .3 .5 .3 .5 -.5 .5 .4 .5 .2 .5 0 .5 .1 .5 .1 .5 .1 .5 -.6 .5 0 .5 -.4 .5 -.9 .5 -.4 .5 -.4 .5 -1.2 .5 -1.3 .5 -1.8 .5 -1.7 .5 -1.2 .5 -1.7 .5 .2 .5 1.6 .5 1.7 .5 1.9 .5 1.6 .5 1.2 .5 .6 .5 1.3 .5 .5 .5 0 .5 .1 .5 .6 .5 .5 .5 -.1 .5 .4 .5 -.5 .5 -.1 .5 .1 .5 .1 .5 .1 .5 .1 .5 -.3 .5 -.4 .5 0 .5 .2 .5 -.3 .5 -.1 .5 -.5 .5 -.1 .5 -.3 .5 -.1 .5 .1 .5 .4 .5 -.4 .5 .1 .5 -.6 .5 .8 .5 -.2 .5 .4 .5 -.4 .5 -.1 .5 -1.3 .5 -.5 .5 -1.6 .5 -2.9 .5 -3.1 .5 -5.3 .5 -4.9 .5 -5.7 .5 -4.1 .5 -3.1 .5 1.7 .5 3.9 .5 4.4 .5 6.1 .5 4.4 .5 4.5 .5 3.1 .5 1.3 .5 2.1 .5 .3 .5 .5 .5 .5 .5 .2 .5 -.1 .5 .3 .5 .2 .5 -.4 .5 .5 .5 .1 .5 0 .5 .3 .5 -.4 .5 -.4 .5 .7 .5 -.1 .5 -.1 .5 -.2 .5 .8 .5 -.7 .5 -.4 .5 .4 .5 0 .5 -.6 .5 .5 .5 -.9 .5 .3 .5 .2 .5 -.3 .5 -.7 .5 -.6 .5 -1.8 .5 -1.7 .5 -2.7 .5 -4.7 .5 -4.2 .5 -5.3 .5 -5 .5 -3.7 .5 -.9 .5 2.1 .5 3.8 .5 5.4 .5 5.4 .5 4.3 .5 4.2 .5 2.7 .5 1.5 .5 .7 .5 .8 .5 -.1 .5 .3 .5 .3 .5 -.6 .5 .2 .5 .4 .5 .9 .5 -.6 .5 .3 .5 .3 .5 -.4 .5 -.3 .5 .4 .5 .1 .5 .9 .5 -.6 .5 0 .5 -.1 .5 -.1 .5 -.1 .5 0 .5 .3 .5 -.3 .5 -.5 .5 .7 .5 -.1 .5 -.2 .5 .2 .5 -.2 .5 .7 .5 -.4 .5 -.4 .5 -.5 .5 .2 .5 -.3 .5 -.5 .5 -.3 .5 .6 .5 -.6 .5 .6 .5 .4 .5 -.2 .5 .7 .5 .5 .5 -.1 .5 -.3 .5 .7 .5 .5 .5 -.5 .5 0 .5 -.3 .5 .1 .5 .2 .5 -.5 .5 0 .5 .3 .5 -.1 .5 -.1 .5 -.1 .5 .4 .5 -.5 .5 -.1 .5 -.2 .5 -.1 .5 .2 .5 .7 .5 -.4 .5 -.7 .5 .7 .5 -.5 .5 -.5 .5 .3 .5 -.7 .5 -.4 .5 -1 .5 -1.2 .5 -2.6 .5 -1.9 .5 -3.3 .5 -4.3 .5 -3.5 .5 -2.5 .5 -.7 .5 1.5 .5 3.4 .5 4 .5 3.3 .5 3.5 .5 2.4 .5 1.5 .5 1.3 .5 .2 .5 .6 .5 .6 .5 .3 .5 .2 .5 .2 .5 -.7 .5 .4 .5 -.5 .5 .4 .5 -.1 .5 .2 .5 -.2 .5 0 .5 -.3 .5 .1 .5 .4 .5 -.2 .5 -.2 .5 -.5 .5 0 .5 .5 .5 .1 .5 .1 .5 -.1 .5 -.3 .5 -.4 .5 .5 .5 -.4 .5 -.3 .5 -1.5 .5 -.2 .5 -.9 .5 -1.5 .5 -.8 .5 -.3 .5 .3 .5 .9 .5 1 .5 1.5 .5 .6 .5 .5 .5 .7 .5 0 .5 -.3 .5 .8 .5 -.2 .5 .6 .5 -.3 .5 .4 .5 0 .5 -.6 .5 1 .5 -.5 .5 .1 .5 -.3 .5 .2 .5 .8 .5 -.6 .5 -1 .5 1.5 .5 -.3 .5 -.2 .5 .4 .5 0 .5 -.3 .5 .6 .5 -.4 .5 .1 .5 -.3 .5 -.2 .5 0 .5 -.3 .5 0 .5 .4 .5 -.4 .5 0 .5 -.5 .5 -.6 .5 -.1 .5 -.9 .5 -.4 .5 .1 .5 .4 .5 .3 .5 -.1 .5 .5 .5 .6 .5 .1 .5 .5 .5 .4 .5 -.2 .5 -.3 .5 0 .5 .1 .5 .3 .5 .3 .5 -.6 .5 .5 .5 0 .5 .4 .5 -1 .5 .3 .5 0 .5 -.1 .5 .1 .5 -.2 .5 0 .5 -.3 .5 -.2 .5 -.6 .5 .7 .5 -1.4 .5 -.5 .5 -1.4 .5 -2.4 .5 -3.3 .5 -3.7 .5 -5.7 .5 -5.1 .5 -5 .5 -4.3 .5 -2.1 .5 3.1 .5 4.5 .5 5.6 .5 5.9 .5 4.4 .5 4.1 .5 2.4 .5 1.7 .5 1.6 .5 .9 .5 0 .5 .9 .5 -.2 .5 -.1 .5 .1 .5 .1 .5 .3 .5 0 .5 -.2 .5 .4 .5 -.6 .5 .4 .5 0 .5 -.5 .5 .8 .5 -.1 .5 .6 .5 -.4 .5 .6 .5 -.2 .5 -.5 .5 .7 .5 -.2 .5 -.3 .5 -.3 .5 .2 .5 -1.1 .5 -.2 .5 -.8 .5 -.8 .5 -.7 .5 0 .5 0 .5 .1 .5 1 .5 .6 .5 .3 .5 0 .5 .9 .5 -.1 .5 .5 .5 -.2 .5 0 .5 .3 .5 .1 .5 .6 .5 -.8 .5 -.1 .5 .3 .5 0 .5 -.4 .5 0 .5 .2 .5 .2 .5 -.1 .5 .3 .5 -.2 .5 -.3 .5 0 .5 -.2 .5 -.4 .5 -1.7 .5 -.5 .5 -2 .5 -2.8 .5 -4.6 .5 -5.2 .5 -6.4 .5 -5.3 .5 -4.4 .5 -2.2 .5 2 .5 4.3 .5 6.2 .5 5.5 .5 5.3 .5 4.1 .5 2.8 .5 2.1 .5 1.6 .5 .4 .5 .3 .5 .8 .5 .4 .5 -.1 .5 0 .5 .1 .5 .2 .5 .2 .5 .5 .5 -.1 .5 -.9 .5 .5 .5 .1 .5 -.2 .5 -.2 .5 -.1 .5 .3 .5 0 .5 -.1 .5 -.3 .5 -.3 .5 .9 .5 -.6 .5 .2 .5 -.2 .5 .6 .5 -.2 .5 .2 .5 .7 .5 -.2 .5 -.1 .5 -.5 .5 .7 .5 .1 .5 0 .5 -.2 .5 -.4 .5 .2 .5 .3 .5 0 .5 0 .5 .4 .5 -.3 .5 -.2 .5 0 .5 -.5 .5 .2 .5 .3 .5 -.8 .5 .4 .5 -.2 .5 -.7 .5 -.2 .5 -.9 .5 .2 .5 -.9 .5 -.5 .5 .8 .5 .2 .5 .9 .5 .2 .5 .1 .5 .8 .5 -.3 .5 -.1 .5 .7 .5 .2 .5 -.4 .5 .3 .5 .3 .5 -.6 .5 -.6 .5 .9 .5 -.2 .5 .3 .5 -.2 .5 -.2 .5 -.2 .5 -.1 .5 .1 .5 -.1 .5 .4 .5 -.1 .5 -.3 .5 .4 .5 -.4 .5 0 .5 .3 .5 -.1 .5 -.2 .5 .4 .5 .2 .5 -.6 .5 .3 .5 -.4 .5 .5 .5 .6 .5 -.5 .5 -.2 .5 -.1 .5 -.6 .5 -.1 .5 -.8 .5 -.9 .5 -.5 .5 -1.1 .5 -.4 .5 -.3 .5 .6 .5 .9 .5 .7 .5 1.2 .5 .3 .5 .6 .5 .2 .5 .4 .5 -.2 .5 -.1 .5 .3 .5 -.1 .5 0 .5 .5 .5 -.4 .5 .2 .5 -.3 .5 0 .5 .1 .5 .4 .5 -.6 .5 .1 .5 -.7 .5 .2 .5 -.1 .5 .1 .5 -.4 .5 -1 .5 -.3 .5 -1.4 .5 -1.8 .5 -3 .5 -2.3 .5 -3.9 .5 -2.2 .5 -1.5 .5 .4 .5 1.8 .5 2.7 .5 3.6 .5 2.1 .5 2.7 .5 1.8 .5 1.5 .5 .7 .5 0 .5 1.1 .5 -.3 .5 .4 .5 .3 .5 -.5 .5 .2 .5 -.4 .5 .2 .5 .6 .5 -.5 .5 .3 .5 -.3 .5 .1 .5 0 .5 .2 .5 -.3 .5 -.2 .5 .1 .5 -.3 .5 -.2 .5 -.3 .5 .7 .5 0 .5 -.1 .5 .3 .5 0 .5 -.1 .5 .2 .5 .1 .5 0 .5 .1 .5 -.1 .5 0 .5 -.2 .5 -.2 .5 .2 .5 0 .5 -.2 .5 .3 .5 .1 .5 -.2 .5 .2 .5 .2 .5 -.1 .5 .3 .5 -.4 .5 .7 .5 -.6 .5 .5 .5 -.4 .5 .4 .5 -.5 .5 -.2 .5 -.5 .5 -.2 .5 -.3 .5 -.7 .5 -.6 .5 -.8 .5 -.5 .5 -.2 .5 -.2 .5 .1 .5 .9 .5 .4 .5 .6 .5 .6 .5 .3 .5 .3 .5 .2 .5 .5 .5 -.5 .5 .4 .5 -.5 .5 0 .5 .5 .5 -.3 .5 .2 .5 -.2 .5 .1 .5 .2 .5 -.1 .5 .2 .5 0 .5 -.4 .5 -.2 .5 .4 .5 -.2 .5 -.7 .5 -.1 .5 -.9 .5 -.7 .5 -.2 .5 -1 .5 -.9 .5 -.5 .5 .3 .5 .2 .5 -.1 .5 1.1 .5 0 .5 .3 .5 1.1 .5 .7 .5 .1 .5 .1 .5 .5 .5 -.2 .5 .2 .5 -.2 .5 .4 .5 -.3 .5 .1 .5 .5 .5 -.3 .5 .3 .5 -.7 .5 .2 .5 0 .5 0 .5 0 .5 -.3 .5 0 .5 -.4 .5 -.2 .5 -.4 .5 -.6 .5 -.5 .5 -1 .5 -.9 .5 -.9 .5 -.6 .5 -.2 .5 -.5 .5 .7 .5 .3 .5 .9 .5 .2 .5 .7 .5 .1 .5 .4 .5 .2 .5 .3 .5 -.4 .5 -.2 .5 -.5 .5 .1 .5 -.6 .5 .1 .5 -.5 .5 -.3 .5 -1.3 .5 -.4 .5 -.7 .5 -.9 .5 -1.2 .5 -1.7 .5 -2 .5 -2.7 .5 -3.9 .5 -4.7 .5 -5.5 .5 -6.8 .5 -7.9 .5 -8.7 .5 -8.6 .5 -7.8 .5 -5.6 .5 -1.9 .5 2.4 .5 6.2 .5 8.7 .5 9.8 .5 9.5 .5 8.8 .5 7.6 .5 6 .5 4.7 .5 3.2 .5 2.4 .5 2 .5 .8 .5 1.6 .5 .3 .5 1.1 .5 -.1 .5 .5 .5 0 .5 .2 .5 .5 .5 .1 .5 -.5 .5 0 .5 -.7 .5 -.8 .5 -.7 .5 -.9 .5 -1.3 .5 -1.1 .5 -.5 .5 -.3 .5 .6 .5 .7 .5 1.1 .5 .9 .5 1.3 .5 .8 .5 1.4 .5 .1 .5 .6 .5 .3 .5 .1 .5 .2 .5 .3 .5 .1 .5 .1 .5 -.1 .5 -.1 .5 .2 .5 .2 .5 .3 .5 -.2 .5 -.1 .5 0 .5 .2 .5 0 .5 .3 .5 -.2 .5 .1 .5 -.3 .5 -.2 .5 .7 .5 -.1 .5 -.3 .5 .1 .5 -.3 .5 .4 .5 .4 .5 -.6 .5 .1 .5 .2 .5 -.3 .5 .1 .5 .1 .5 -.2 .5 .2 .5 -.3 .5 .2 .5 0 .5 .1 .5 -.2 .5 -.2 .5 .3 .5 0 .5 .3 .5 -.2 .5 .1 .5 -.1 .5 0 .5 -.1 .5 -.3 .5 0 .5 -.1 .5 .3 .5 .3 .5 -.5 .5 .5 .5 .1 .5 -.3 .5 .2 .5 -.2 .5 -.1 .5 -.1 .5 0 .5 .3 .5 -.1 .5 -.2 .5 .3 .5 -.1 .5 -.2 .5 .2 .5 .2 .5 0 .5 -.4 .5 .3 .5 -.1 .5 .2 .5 .1 .5 -.9 .5 .6 .5 -.5 .5 0 .5 0 .5 -.3 .5 -.8 .5 -.2 .5 -.9 .5 -.4 .5 -.7 .5 0 .5 0 .5 .7 .5 .2 .5 .8 .5 .1 .5 .8 .5 .2 .5 .1 .5 .3 .5 .3 .5 .1 .5 -.2 .5 .1 .5 .2 .5 .3 .5 -.4 .5 -.4 .5 0 .5 0 .5 -.1 .5 -.5 .5 -.5 .5 -.2 .5 -1 .5 -1.1 .5 -1.8 .5 -1.8 .5 -1.9 .5 -2.5 .5 -2.2 .5 -1.2 .5 -.7 .5 .7 .5 1.5 .5 2 .5 2.3 .5 2.4 .5 1.7 .5 1.7 .5 1.3 .5 .5 .5 .6 .5 .5 .5 0 .5 .5 .5 0 .5 .1 .5 -.1 .5 .5 .5 .1 .5 -.2 .5 .1 .5 -.1 .5 0 .5 .1 .5 -.1 .5 -.5 .5 -.3 .5 -.6 .5 -.1 .5 -.4 .5 -.7 .5 -.1 .5 -.2 .5 .4 .5 .3 .5 .2 .5 .4 .5 .6 .5 .1 .5 .6 .5 -.1 .5 .1 .5 .2 .5 0 .5 -.2 .5 .3 .5 -.1 .5 0 .5 .2 .5 -.5 .5 0 .5 -.5 .5 0 .5 -.7 .5 -.6 .5 -.7 .5 -1 .5 -1.3 .5 -1.3 .5 -1.2 .5 -1.2 .5 .1 .5 -.1 .5 .9 .5 .8 .5 1.4 .5 1.5 .5 1 .5 .8 .5 .8 .5 .6 .5 .3 .5 .1 .5 .6 .5 -.2 .5 .4 .5 -.2 .5 -.3 .5 0 .5 0 .5 .1 .5 -.5 .5 .3 .5 -.7 .5 -.2 .5 -.4 .5 -.9 .5 -.5 .5 -.4 .5 -.2 .5 -.2 .5 0 .5 .6 .5 .5 .5 .7 .5 .4 .5 .9 .5 .2 .5 .3 .5 .3 .5 .2 .5 .2 .5 -.2 .5 -.2 .5 .6 .5 -.4 .5 .3 .5 -.3 .5 -.1 .5 .3 .5 -.4 .5 -.4 .5 .4 .5 -.3 .5 -.3 .5 -.6 .5 -.9 .5 -.9 .5 -1 .5 -1.1 .5 -1.2 .5 -.8 .5 -.5 .5 -.1 .5 .6 .5 .8 .5 1.1 .5 1.1 .5 1.3 .5 .7 .5 .8 .5 .3 .5 .6 .5 .4 .5 0 .5 .1 .5 -.1 .5 .1 .5 0 .5 .3 .5 0 .5 -.1 .5 -.2 .5 0 .5 -.2 .5 -.5 .5 -.3 .5 -.5 .5 -.4 .5 -.8 .5 -.7 .5 -1.1 .5 -.5 .5 -.5 .5 -.3 .5 .2 .5 .6 .5 1 .5 .8 .5 .4 .5 1.2 .5 .4 .5 .4 .5 .1 .5 .5 .5 .2 .5 -.2 .5 .2 .5 0 .5 .1 .5 0 .5 .3 .5 -.5 .5 .2 .5 -.2 .5 -.4 .5 -.1 .5 -.6 .5 -.2 .5 -.7 .5 -.7 .5 -.6 .5 -1.1 .5 -.4 .5 -.1 .5 .4 .5 .3 .5 .6 .5 .9 .5 .7 .5 .5 .5 .8 .5 .5 .5 .1 .5 .2 .5 0 .5 .4 .5 -.1 .5 0 .5 0 .5 0 .5 .2 .5 -.2 .5 .3 .5 -.1 .5 0 .5 0 .5 -.2 .5 .5 .5 -.2 .5 -.1 .5 0 .5 0 .5 -.4 .5 .5 .5 -.1 .5 0 .5 -.2 .5 .2 .5 -.1 .5 .5 .5 -.3 .5 0 .5 .2 .5 -.2 .5 .1 .5 .1 .5 -.1 .5 -.1 .5 -.1 .5 .1 .5 -.2 .5 .4 .5 -.1 .5 .1 .5 -.1 .5 .1 .5 -.3 .5 -.1 .5 .2 .5 0 .5 .1 .5 -.3 .5 0 .5 .1 .5 .1 .5 -.1 .5 0 .5 -.1 .5 .2 .5 .1 .5 0 .5 -.2 .5 .2 .5 .3 .5 -.2 .5 .2 .5 -.2 .5 0 .5 .4 .5 -.4 .5 0 .5 .1 .5 .1 .5 -.1 .5 .2 .5 -.1 .5 0 .5 -.1 .5 0 .5 -.3 .5 .3 .5 -.3 .5 .1 .5 .3 .5 -.1 .5 -.3 .5 .2 .5 0 .5 .1 .5 -.1 .5 -.2 .5 .3 .5 -.4 .5 .2 .5 -.1 .5 0 .5 .2 .5 -.4 .5 0 .5 0 .5 -.4 .5 0 .5 .1 .5 -.3 .5 -.1 .5 0 .5 -.6 .5 0 .5 -.3 .5 -.1 .5 -.2 .5 -.2 .5 .2 .5 -.1 .5 .2 .5 .1 .5 .4 .5 .1 .5 .4 .5 .2 .5 -.1 .5 .2 .5 .2 .5 .2 .5 .1 .5 -.1 .5 .1 .5 .1 .5 0 .5 -.2 .5 .2 .5 .1 .5 -.3 .5 .2 .5 .1 .5 -.1 .5 .1 .5 0 .5 .1 .5 0 .5 -.1 .5 .1 .5 .2 .5 -.3 .5 .2 .5 -.2 .5 .3 .5 -.3 .5 .3 .5 0 .5 -.1 .5 -.2 .5 .1 .5 .2 .5 -.1 .5 -.2 .5 .2 .5 -.2 .5 .2 .5 -.1 .5 .1 .5 -.1 .5 0 .5 .2 .5 -.3 .5 0 .5 .1 .5 0 .5 0 .5 .1 .5 -.2 .5 -.1 .5 .4 .5 -.6 .5 .3 .5 0 .5 -.1 .5 .2 .5 -.2 .5 -.4 .5 .3 .5 0 .5 .1 .5 -.3 .5 -.2 .5 0 .5 -.1 .5 -.3 .5 .1 .5 -.2 .5 -.2 .5 -.2 .5 -.4 .5 -.3 .5 .2 .5 -.4 .5 -.2 .5 .2 .5 0 .5 .3 .5 .4 .5 .1 .5 .3 .5 .3 .5 .1 .5 .2 .5 .1 .5 .2 .5 .2 .5 0 .5 .2 .5 0 .5 -.1 .5 .3 .5 -.2 .5 .3 .5 0 .5 0 .5 0 .5 .1 .5 -.1 .5 -.4 .5 .1 .5 .2 .5 -.4 .5 -.1 .5 .3 .5 -.2 .5 .2 .5 .1 .5 -.2 .5 0 .5 .5 .5 -.2 .5 0 .5 0 .5 .2 .5 -.2 .5 -.1 .5 0 .5 .2 .5 -.1 .5 -.1 .5 .1 .5 -.3 .5 .5 .5 -.2 .5 -.1 .5 -.2 .5 .4 .5 -.3 .5 .5 .5 -.6 .5 .4 .5 -.2 .5 .2 .5 -.5 .5 .3 .5 -.2 .5 .2 .5 0 .5 .1 .5 .1 .5 -.1 .5 -.1 .5 .2 .5 -.1 .5 0 .5 0 .5 .2 .5 -.2 .5 .1 .5 -.1 .5 -.3 .5 .3 .5 -.1 .5 -.1 .5 .1 .5 .1 .5 -.1 .5 .1 .5 -.2 .5 -.2 .5 .2 .5 0 .5 0 .5 .1 .5 -.4 .5 .2 .5 .1 .5 -.2 .5 -.2 .5 0 .5 -.5 .5 0 .5 -.1 .5 -.7 .5 -.5 .5 -.7 .5 -.9 .5 -.9 .5 -1.3 .5 -1.8 .5 -1.9 .5 -1.5 .5 -2.2 .5 -2.1 .5 -1.9 .5 -1.8 .5 -1.3 .5 -.6 .5 -.3 .5 .8 .5 1 .5 1.7 .5 1.9 .5 2.3 .5 2 .5 1.9 .5 1.6 .5 1.5 .5 1.5 .5 1.1 .5 .9 .5 .5 .5 .6 .5 .4 .5 .5 .5 .2 .5 .3 .5 .1 .5 .1 .5 -.1 .5 0 .5 .3 .5 -.1 .5 .2 .5 -.4 .5 .3 .5 0 .5 .1 .5 -.4 .5 .4 .5 0 .5 0 .5 0 .5 .3 .5 -.1 .5 -.1 .5 0 .5 .1 .5 0 .5 .1 .5 -.4 .5 0 .5 .3 .5 -.1 .5 .3 .5 -.2 .5 .4 .5 -.3 .5 -.1 .5 .1 .5 .2 .5 -.1 .5 0 .5 -.1 .5 -.1 .5 .1 .5 .3 .5 -.3 .5 -.2 .5 0 .5 .2 .5 .1 .5 0 .5 -.2 .5 0 .5 .3 .5 -.2 .5 .3 .5 -.4 .5 .2 .5 -.2 .5 .1 .5 .2 .5 -.4 .5 0 .5 .2 .5 .1 .5 -.1 .5 .2 .5 -.2 .5 -.2 .5 .2 .5 .2 .5 -.2 .5 -.1 .5 .3 .5 .1 .5 -.2 .5 -.1 .5 .2 .5 -.1 .5 0 .5 -.1 .5 .1 .5 -.1 .5 .3 .5 -.1 .5 0 .5 .2 .5 -.2 .5 -.2 .5 .2 .5 .2 .5 .1 .5 .1 .5 -.2 .5 .1 .5 -.1 .5 -.1 .5 0 .5 -.3 .5 .1 .5 .2 .5 -.3 .5 .2 .5 -.2 .5 .1 .5 -.3 .5 .4 .5 -.2 .5 -.1 .5 .7 .5 -.8 .5 .3 .5 0 .5 .2 .5 -.4 .5 .2 .5 0 .5 0 .5 0 .5 0 .5 -.1 .5 .3 .5 -.3 .5 .2 .5 -.2 .5 -.1 .5 .3 .5 -.3 .5 -.1 .5 .1 .5 .1 .5 -.1 .5 .1 .5 -.1 .5 0 .5 .4 .5 -.1 .5 .1 .5 .1 .5 0 .5 -.2 .5 -.1 .5 -.1 .5 .3 .5 -.2 .5 0 .5 -.1 .5 0 .5 .1 .5 0 .5 .1 .5 .1 .5 .2 .5 -.1 .5 -.1 .5 .1 .5 .1 .5 0 .5 -.3 .5 0 .5 .2 .5 .1 .5 -.1 .5 0 .5 -.2 .5 .1 .5 .1 .5 -.3 .5 .1 .5 .2 .5 -.1 .5 -.1 .5 .1 .5 0 .5 0 .5 .2 .5 -.2 .5 .1 .5 -.2 .5 -.2 .5 0 .5 .2 .5 .1 .5 0 .5 -.5 .5 .3 .5 -.2 .5 -.2 .5 .2 .5 -.1 .5 .3 .5 -.1 .5 -.2 .5 0 .5 .3 .5 -.1 .5 0 .5 -.2 .5 0 .5 .2 .5 0 .5 -.3 .5 -.1 .5 .1 .5 -.1 .5 -.4 .5 .1 .5 -.1 .5 -.3 .5 .1 .5 -.4 .5 -.1 .5 -.4 .5 -.1 .5 0 .5 .1 .5 0 .5 0 .5 .3 .5 -.1 .5 .4 .5 .1 .5 .2 .5 .3 .5 .1 .5 .2 .5 .2 .5 -.2 .5 .4 .5 -.1 .5 .2 .5 0 .5 .1 .5 -.1 .5 0 .5 .1 .5 0 .5 .2 .5 0 .5 0 .5 .2 .5 -.2 .5 0 .5 .1 .5 -.2 .5 .2 .5 0 .5 -.1 .5 .2 .5 -.4 .5 -.1 .5 .4 .5 -.2 .5 .1 .5 -.1 .5 -.1 .5 .2 .5 -.3 .5 .3 .5 -.3 .5 .1 .5 0 .5 0 .5 -.1 .5 .2 .5 -.2 .5 0 .5 .1 .5 -.1 .5 -.1 .5 0 .5 .3 .5 -.2 .5 .2 .5 -.2 .5 .1 .5 -.2 .5 0 .5 0 .5 -.1 .5 0 .5 -.2 .5 -.1 .5 .3 .5 -.3 .5 -.3 .5 0 .5 -.3 .5 -.1 .5 -.3 .5 0 .5 -.2 .5 0 .5 -.2 .5 0 .5 .2 .5 .3 .5 -.1 .5 .2 .5 .1 .5 .1 .5 .5 .5 -.3 .5 0 .5 .4 .5 0 .5 .1 .5 -.1 .5 .3 .5 0 .5 .1 .5 0 .5 .3 .5 -.1 .5 .1 .5 0 .5 0 .5 .1 .5 -.1 .5 .2 .5 -.2 .5 -.1 .5 .2 .5 0 .5 -.3 .5 0 .5 .1 .5 0 .5 .1 .5 -.1 .5 .2 .5 0 .5 -.3 .5 .3 .5 -.1 .5 0 .5 -.1 .5 .4 .5 -.2 .5 -.1 .5 0 .5 -.2 .5 .6 .5 -.5 .5 .2 .5 -.2 .5 -.1 .5 .1 .5 -.2 .5 -.1 .5 .1 .5 -.2 .5 .3 .5 -.5 .5 .4 .5 -.1 .5 0 .5 -.1 .5 .2 .5 .1 .5 -.1 .5 .2 .5 .1 .5 -.2 .5 .1 .5 -.2 .5 .1 .5 .1 .5 -.4 .5 0 .5 .2 .5 0 .5 -.2 .5 -.1 .5 -.3 .5 -.3 .5 0 .5 -.5 .5 -.3 .5 -.6 .5 -.3 .5 -.8 .5 -1 .5 -.6 .5 -.9 .5 -1.1 .5 -1 .5 -.9 .5 -1.1 .5 -.3 .5 -.5 .5 0 .5 .1 .5 .1 .5 .3 .5 1 .5 1.1 .5 .8 .5 1.3 .5 .8 .5 .9 .5 .6 .5 .9 .5 .6 .5 .2 .5 .7 .5 .1 .5 .4 .5 .6 .5 -.3 .5 .4 .5 -.3 .5 .1 .5 .1 .5 .1 .5 -.1 .5 .3 .5 .1 .5 -.3 .5 0 .5 .1 .5 0 .5 -.1 .5 .1 .5 .1 .5 .1 .5 .2 .5 -.2 .5 0 .5 .1 .5 .2 .5 -.3 .5 -.1 .5 .1 .5 .1 .5 0 .5 .1 .5 -.2 .5 .1 .5 0 .5 .2 .5 0 .5 0 .5 -.2 .5 .2 .5 -.1 .5 -.1 .5 0 .5 -.1 .5 0 .5 0 .5 -.2 .5 .2 .5 -.1 .5 .1 .5 .2 .5 -.2 .5 0 .5 .3 .5 -.1 .5 .3 .5 -.2 .5 -.1 .5 .1 .5 -.1 .5 -.1 .5 .3 .5 -.2 .5 -.1 .5 0 .5 .1 .5 0 .5 0 .5 0 .5 .1 .5 0 .5 .2 .5 -.5 .5 .1 .5 0 .5 .2 .5 0 .5 .2 .5 -.3 .5 .1 .5 .1 .5 0 .5 -.1 .5 .2 .5 0 .5 -.2 .5 .1 .5 .3 .5 -.5 .5 .3 .5 .1 .5 0 .5 0 .5 0 .5 -.1 .5 0 .5 0 .5 .1 .5 -.4 .5 -.2 .5 .2 .5 -.1 .5 .2 .5 -.1 .5 .1 .5 .2 .5 -.2 .5 .1 .5 0 .5 0 .5 -.1 .5 0 .5 .2 .5 -.1 .5 .1 .5 .2 .5 -.2 .5 -.1 .5 0 .5 -.1 .5 -.1 .5 .1 .5 .1 .5 -.2 .5 0 .5 -.2 .5 .1 .5 .4 .5 0 .5 .2 .5 -.2 .5 .1 .5 .1 .5 -.2 .5 .1 .5 .1 .5 -.3 .5 .1 .5 .2 .5 -.4 .5 0 .5 0 .5 -.1 .5 .3 .5 -.5 .5 0 .5 .2 .5 -.3 .5 0 .5 .1 .5 -.6 .5 .1 .5 -.2 .5 -.3 .5 -.2 .5 -.1 .5 -.1 .5 -.5 .5 -.4 .5 0 .5 -.3 .5 0 .5 -.2 .5 -.1 .5 -.4 .5 -.1 .5 .3 .5 -.1 .5 .1 .5 .3 .5 0 .5 .4 .5 -.1 .5 .2 .5 .3 .5 .5 .5 .2 .5 -.2 .5 .7 .5 -.1 .5 .2 .5 .4 .5 0 .5 .2 .5 -.4 .5 .4 .5 -.1 .5 .3 .5 0 .5 .1 .5 .2 .5 -.1 .5 0 .5 .1 .5 0 .5 .1 .5 0 .5 .1 .5 -.3 .5 .2 .5 -.1 .5 0 .5 0 .5 0 .5 0 .5 .2 .5 -.1 .5 .1 .5 0 .5 0 .5 .1 .5 -.1 .5 .1 .5 -.3 .5 .2 .5 0 .5 -.2 .5 .2 .5 -.3 .5 0 .5 .2 .5 -.2 .5 .1 .5 -.2 .5 0 .5 .4 .5 -.2 .5 -.1 .5 .2 .5 .2 .5 -.1 .5 -.1 .5 .1 .5 .1 .5 0 .5 -.4 .5 .4 .5 0 .5 -.3 .5 .1 .5 -.3 .5 .4 .5 -.3 .5 .2 .5 -.1 .5 .1 .5 .1 .5 0 .5 -.2 .5 .1 .5 0 .5 -.2 .5 .2 .5 .2 .5 -.2 .5 .2 .5 .1 .5 -.3 .5 .2 .5 .4 .5 -.6 .5 .2 .5 -.3 .5 .1 .5 -.2 .5 .4 .5 -.4 .5 .1 .5 .1 .5 -.1 .5 -.2 .5 .2 .5 -.1 .5 .1 .5 -.1 .5 -.3 .5 .1 .5 .2 .5 .1 .5 0 .5 -.3 .5 .2 .5 0 .5 0 .5 .3 .5 -.2 .5 .1 .5 0 .5 .3 .5 -.2 .5 .1 .5 .1 .5 0 .5 -.2 .5 .2 .5 -.1 .5 .1 .5 .1 .5 -.1 .5 -.3 .5 .2 .5 .2 .5 -.1 .5 -.1 .5 0 .5 -.1 .5 -.2 .5 0 .5 .3 .5 -.2 .5 .1 .5 0 .5 .1 .5 0 .5 0 .5 0 .5 0 .5 -.1 .5 -.1 .5 .2 .5 0 .5 0 .5 -.1 .5 .1 .5 0 .5 -.3 .5 0 .5 .2 .5 0 .5 .1 .5 -.3 .5 .1 .5 -.1 .5 .3 .5 -.1 .5 -.1 .5 .3 .5 .3 .5 -.1 .5 -.1 .5 .2 .5 -.2 .5 .4 .5 -.3 .5 -.1 .5 -.2 .5 .3 .5 -.3 .5 0 .5 -.2 .5 .1 .5 .1 .5 .1 .5 0 .5 -.1 .5 .1 .5 -.1 .5 0 .5 0 .5 .1 .5 -.1 .5 .2 .5 .1 .5 -.2 .5 0 .5 0 .5 -.1 .5 .1 .5 0 .5 -.1 .5 0 .5 .2 .5 -.2 .5 .1 .5 0 .5 -.1 .5 -.1 .5 -.1 .5 .2 .5 -.1 .5 0 .5 0 .5 .1 .5 -.1 .5 .3 .5 -.2 .5 .2 .5 0 .5 -.1 .5 .1 .5 -.2 .5 -.1 .5 .3 .5 -.2 .5 .3 .5 -.4 .5 -.1 .5 .4 .5 -.3 .5 .2 .5 -.1 .5 .2 .5 -.3 .5 .1 .5 -.1 .5 .3 .5 -.1 .5 -.1 .5 .1 .5 -.1 .5 -.1 .5 .3 .5 -.2 .5 .2 .5 -.2 .5 -.1 .5 .2 .5 -.1 .5 .2 .5 -.1 .5 -.1 .5 .2 .5 -.1 .5 .1 .5 -.1 .5 0 .5 .1 .5 0 .5 .1 .5 -.1 .5 .1 .5 -.1 .5 0 .5 .1 .5 0 .5 0 .5 -.1 .5 0 .5 -.2 .5 0 .5 .1 .5 -.1 .5 .2 .5 -.1 .5 -.3 .5 .2 .5 0 .5 0 .5 0 .5 -.2 .5 .5 .5 -.3 .5 .1 .5 -.2 .5 .1 .5 .1 .5 0 .5 0 .5 -.1 .5 .1 .5 -.3 .5 -.1 .5 .2 .5 -.3 .5 0 .5 0 .5 -.1 .5 -.1 .5 -.1 .5 -.2 .5 .1 .5 -.3 .5 -.1 .5 -.1 .5 -.4 .5 -.3 .5 -.1 .5 -.1 .5 -.4 .5 -.2 .5 0 .5 -.4 .5 .2 .5 -.3 .5 0 .5 .2 .5 .1 .5 .2 .5 .3 .5 -.1 .5 .4 .5 .2 .5 0 .5 .2 .5 .4 .5 0 .5 .2 .5 0 .5 .2 .5 0 .5 .5 .5 -.2 .5 .2 .5 .3 .5 0 .5 .3 .5 -.1 .5 -.2 .5 0 .5 0 .5 0 .5 0 .5 .1 .5 0 .5 -.2 .5 .3 .5 -.1 .5 0 .5 .1 .5 0 .5 0 .5 -.2 .5 .1 .5 .3 .5 -.4 .5 0 .5 .3 .5 -.3 .5 .2 .5 -.3 .5 .1 .5 .2 .5 0 .5 -.1 .5 0 .5 .1 .5 0 .5 -.1 .5 -.2 .5 .2 .5 -.1 .5 .3 .5 -.1 .5 0 .5 0 .5 -.1 .5 0 .5 -.1 .5 .1 .5 -.1 .5 0 .5 .4 .5 -.3 .5 -.3 .5 .2 .5 .1 .5 -.1 .5 0 .5 .1 .5 -.1 .5 0 .5 0 .5 .1 .5 -.2 .5 .1 .5 .3 .5 .2 .5 -.2 .5 -.3"/>
</g>
<g id="red">
<g font-family="'Liberation Serif', 'DejaVu Serif', serif" fill="#000">
<text transform="translate(297.51 811.6) scale(0.9708 1)" font-size="58.03">11.4</text>
</g>
<g font-family="'Liberation Sans', 'DejaVu Sans', sans-serif" fill="#000"><text transform="translate(1704.4 896.0) scale(0.9638 1)" font-size="66.38">GO</text></g>
<path fill="none" stroke="#ff0000" stroke-width="7.3" stroke-linejoin="round" d="M181 914.1l.5 -1 .5 -.4 .5 -.8 .5 1.7 .5 1.1 .5 -.7 .5 .3 .5 .4 .5 -1.2 .5 2.3 .5 -2.2 .5 .9 .5 1.5 .5 -1.9 .5 .1 .5 -.5 .5 .4 .5 -1.7 .5 .8 .5 1.3 .5 -1 .5 -.4 .5 .3 .5 .1 .5 -.2 .5 .4 .5 -1.4 .5 1.6 .5 -.7 .5 1 .5 -.5 .5 -.6 .5 .6 .5 -.7 .5 1.3 .5 -.8 .5 .5 .5 -1.4 .5 1.7 .5 -1.2 .5 1 .5 -.3 .5 -1.3 .5 .9 .5 -.6 .5 .5 .5 .6 .5 -.5 .5 .2 .5 -1.4 .5 .9 .5 .1 .5 .5 .5 -1 .5 .8 .5 -.1 .5 -1.3 .5 .2 .5 .9 .5 -1.2 .5 -.2 .5 1.2 .5 -.5 .5 -.5 .5 .2 .5 -.3 .5 -.1 .5 0 .5 .6 .5 .7 .5 -1 .5 .3 .5 0 .5 -.6 .5 .9 .5 .4 .5 -1.1 .5 1 .5 -1 .5 1 .5 -.1 .5 -1 .5 -1.1 .5 1.1 .5 -.6 .5 0 .5 .7 .5 1 .5 -.9 .5 -.1 .5 -1.1 .5 .7 .5 -.6 .5 1.1 .5 -.7 .5 .2 .5 .1 .5 -.1 .5 .8 .5 -.2 .5 -.4 .5 .3 .5 .4 .5 .5 .5 -.7 .5 .8 .5 -1.4 .5 .1 .5 -.9 .5 1.4 .5 -1.2 .5 0 .5 1.1 .5 -.8 .5 -.1 .5 1 .5 -.7 .5 .7 .5 -.9 .5 .5 .5 .1 .5 -.7 .5 .9 .5 -1.5 .5 0 .5 .2 .5 .5 .5 -.9 .5 -.1 .5 .5 .5 .7 .5 -.9 .5 -.4 .5 .9 .5 .6 .5 -.7 .5 .5 .5 -1.3 .5 1.2 .5 0 .5 .3 .5 -.3 .5 .3 .5 -1.2 .5 1 .5 -1.4 .5 .7 .5 1 .5 -.1 .5 -1.6 .5 1.5 .5 -.6 .5 -.1 .5 .6 .5 0 .5 .7 .5 -1.8 .5 .5 .5 -.1 .5 -1.3 .5 1.6 .5 .1 .5 -1.7 .5 .4 .5 -.5 .5 .3 .5 -.6 .5 1.1 .5 -1.1 .5 1.8 .5 -.5 .5 1.5 .5 -2.4 .5 1 .5 -.7 .5 .7 .5 .2 .5 -.9 .5 -.5 .5 -.4 .5 1 .5 .4 .5 -.2 .5 -1 .5 -.8 .5 .1 .5 -.9 .5 -.2 .5 1.5 .5 -.9 .5 .4 .5 -.3 .5 1 .5 .2 .5 -1.3 .5 .4 .5 0 .5 1.4 .5 0 .5 -.9 .5 1.6 .5 -1.4 .5 -.8 .5 -.6 .5 .9 .5 .1 .5 -.7 .5 .4 .5 .3 .5 -.9 .5 .4 .5 .3 .5 -1 .5 -.9 .5 .4 .5 -.1 .5 .8 .5 -1.7 .5 -.8 .5 1 .5 -.1 .5 -.5 .5 .5 .5 -.2 .5 .5 .5 -1.3 .5 0 .5 .3 .5 -.4 .5 1 .5 -.5 .5 -.5 .5 .9 .5 -.8 .5 .2 .5 -.2 .5 -.7 .5 -.1 .5 0 .5 -.8 .5 .3 .5 .6 .5 -.5 .5 -1 .5 1.7 .5 -2.3 .5 .6 .5 -.2 .5 0 .5 -1.6 .5 .2 .5 -.4 .5 .5 .5 -.7 .5 -.2 .5 -.2 .5 .5 .5 -1 .5 -.2 .5 -1.3 .5 .7 .5 -1.4 .5 1.1 .5 -.8 .5 -.9 .5 -.5 .5 .2 .5 -.3 .5 -.9 .5 -.3 .5 -.6 .5 -.7 .5 -.4 .5 -.4 .5 -.1 .5 -1 .5 -1.4 .5 .7 .5 -1 .5 -1.6 .5 0 .5 -1.6 .5 -.9 .5 -.8 .5 .5 .5 -1.8 .5 -.9 .5 -1.1 .5 -1.3 .5 -.5 .5 -.9 .5 -.2 .5 -2.8 .5 .4 .5 -1.7 .5 -2.6 .5 .3 .5 -1 .5 -1.8 .5 -2.1 .5 -1.6 .5 -3 .5 -.4 .5 -1.9 .5 -2.5 .5 -1.2 .5 -2.5 .5 -.2 .5 -4.1 .5 -2 .5 -2.9 .5 -1.3 .5 -2.3 .5 -2.7 .5 -3.1 .5 -1.9 .5 -3.2 .5 -2.3 .5 -3.6 .5 -3.8 .5 -1.7 .5 -3 .5 -1.3 .5 -2.9 .5 -1.9 .5 -1.7 .5 -2.1 .5 -1.3 .5 -1.2 .5 -1.1 .5 -.6 .5 0 .5 .4 .5 .9 .5 1.4 .5 1.5 .5 1.9 .5 1.9 .5 1.7 .5 1.9 .5 4 .5 2 .5 1.5 .5 3.1 .5 2.5 .5 2.4 .5 1.8 .5 1.9 .5 2.7 .5 3.1 .5 3.4 .5 2.6 .5 1.4 .5 2.4 .5 3.2 .5 2.7 .5 .4 .5 2.8 .5 1.6 .5 1.4 .5 1.6 .5 1.4 .5 1.6 .5 .5 .5 2.2 .5 1.7 .5 1.3 .5 1.3 .5 1 .5 1.2 .5 2.2 .5 -.1 .5 1.3 .5 1.6 .5 .2 .5 .1 .5 1.2 .5 .7 .5 .8 .5 .4 .5 1.4 .5 .4 .5 .4 .5 -.1 .5 1.3 .5 .5 .5 1.2 .5 -1.2 .5 .8 .5 1.3 .5 -.9 .5 1.3 .5 .5 .5 .4 .5 -.2 .5 1 .5 -.5 .5 1.9 .5 -.6 .5 .7 .5 .2 .5 .5 .5 .2 .5 .5 .5 -.2 .5 .5 .5 -.3 .5 .2 .5 .3 .5 .1 .5 -.1 .5 .5 .5 .7 .5 0 .5 -.4 .5 .6 .5 .2 .5 1.6 .5 -2.1 .5 1.4 .5 -.5 .5 1.8 .5 -.4 .5 .7 .5 0 .5 .5 .5 -2.1 .5 1 .5 .5 .5 -.9 .5 .9 .5 .3 .5 -1.5 .5 .5 .5 .6 .5 .8 .5 -.3 .5 .1 .5 -.6 .5 .7 .5 .4 .5 -.2 .5 .8 .5 -.2 .5 .1 .5 1.7 .5 -1.1 .5 1.3 .5 -1 .5 .4 .5 -.5 .5 .5 .5 1.4 .5 -.7 .5 -1 .5 2.1 .5 -1.2 .5 .3 .5 .3 .5 -1.1 .5 1.9 .5 -.1 .5 -.9 .5 .5 .5 -.3 .5 -.1 .5 .3 .5 -.6 .5 .6 .5 -.1 .5 1.4 .5 -2 .5 1.5 .5 -.4 .5 -.4 .5 -.4 .5 1.4 .5 0 .5 -.7 .5 .2 .5 .5 .5 1.3 .5 -1.2 .5 .8 .5 .9 .5 -1.2 .5 .9 .5 .8 .5 -.8 .5 .2 .5 -.9 .5 1 .5 -.9 .5 .3 .5 .3 .5 -.5 .5 .7 .5 -.1 .5 -.1 .5 .2 .5 -.7 .5 -1.1 .5 1.6 .5 -.1 .5 -.8 .5 -.2 .5 1 .5 -.9 .5 0 .5 0 .5 1.5 .5 -1.7 .5 -1 .5 1.4 .5 -.4 .5 -.3 .5 1.1 .5 -.3 .5 .9 .5 -.5 .5 .9 .5 0 .5 -.4 .5 .6 .5 .7 .5 -.5 .5 -1 .5 .9 .5 .2 .5 .6 .5 -.7 .5 .8 .5 -.5 .5 .2 .5 .1 .5 .3 .5 .1 .5 .5 .5 -.5 .5 0 .5 .5 .5 0 .5 -.4 .5 .2 .5 -.2 .5 .5 .5 -1.8 .5 1.8 .5 -2.4 .5 .4 .5 1.1 .5 -.6 .5 .4 .5 0 .5 -.5 .5 0 .5 .4 .5 .3 .5 .1 .5 -.3 .5 -.3 .5 .9 .5 -1.8 .5 1.3 .5 .7 .5 .3 .5 -.2 .5 .1 .5 -.2 .5 -.6 .5 -1.4 .5 .8 .5 0 .5 .9 .5 -1.2 .5 -.1 .5 .5 .5 -1 .5 .5 .5 .3 .5 -.4 .5 .1 .5 -.8 .5 .3 .5 .6 .5 .9 .5 -.7 .5 0 .5 .2 .5 .9 .5 -1 .5 .9 .5 -.2 .5 .2 .5 -.5 .5 .4 .5 .6 .5 -1 .5 -.2 .5 -1.2 .5 1.6 .5 -.7 .5 .6 .5 -.2 .5 -.5 .5 .1 .5 -.4 .5 1.8 .5 -.5 .5 .1 .5 .4 .5 .2 .5 -.1 .5 .2 .5 .8 .5 -2.2 .5 1.1 .5 -.4 .5 .4 .5 -1.4 .5 .7 .5 .9 .5 -1.1 .5 1 .5 -.7 .5 .4 .5 -.7 .5 .6 .5 -.4 .5 1.2 .5 -1.2 .5 1.2 .5 -.4 .5 .2 .5 .8 .5 -1 .5 -.3 .5 .2 .5 .2 .5 -.8 .5 1.1 .5 -.9 .5 -.3 .5 -.1 .5 .4 .5 .5 .5 .4 .5 -.4 .5 -.3 .5 .3 .5 -1.1 .5 1.7 .5 -.2 .5 -.6 .5 .5 .5 -.9 .5 1.6 .5 -.9 .5 -.1 .5 1.5 .5 -1.5 .5 .8 .5 -.7 .5 .1 .5 .1 .5 -.2 .5 1 .5 -.2 .5 -.8 .5 1.6 .5 -1.2 .5 0 .5 .3 .5 -.7 .5 1.3 .5 -1.2 .5 -.1 .5 1.2 .5 -1 .5 .4 .5 -.4 .5 .5 .5 .4 .5 -1.1 .5 1.4 .5 -.2 .5 1.2 .5 .5 .5 -.8 .5 .1 .5 .2 .5 -.1 .5 -1.4 .5 -.1 .5 .3 .5 -.6 .5 .5 .5 .1 .5 -.6 .5 .5 .5 .5 .5 -.8 .5 .2 .5 -.2 .5 .1 .5 -.1 .5 -.2 .5 1 .5 .4 .5 -.5 .5 .1 .5 -.7 .5 .6 .5 .2 .5 -.2 .5 0 .5 -.6 .5 -.1 .5 .5 .5 .8 .5 -.9 .5 -.6 .5 .4 .5 .3 .5 .7 .5 0 .5 -1 .5 -.1 .5 .3 .5 .1 .5 -.6 .5 .9 .5 -.8 .5 .3 .5 -.3 .5 .4 .5 -.3 .5 .3 .5 .5 .5 -.4 .5 .7 .5 -1.4 .5 .6 .5 -.5 .5 -.2 .5 .6 .5 1 .5 -.9 .5 .4 .5 -1.4 .5 1.1 .5 -.6 .5 .7 .5 .5 .5 -.7 .5 .8 .5 -.9 .5 .5 .5 -.3 .5 .4 .5 0 .5 -.9 .5 1 .5 .1 .5 1.1 .5 -2.1 .5 1.2 .5 .2 .5 .3 .5 -.6 .5 -.9 .5 .4 .5 -1 .5 -.1 .5 -.2 .5 .1 .5 1.1 .5 -1.4 .5 .2 .5 1.5 .5 -.1 .5 .4 .5 -.5 .5 .6 .5 -.5 .5 -.1 .5 .1 .5 .3 .5 0 .5 -.2 .5 1.1 .5 -.6 .5 -.4 .5 -.5 .5 .5 .5 -.9 .5 .3 .5 -.2 .5 0 .5 .5 .5 -1.8 .5 2.3 .5 -.5 .5 -.4 .5 0 .5 .7 .5 -.4 .5 1 .5 -.9 .5 -.3 .5 -.2 .5 .6 .5 .5 .5 -1.2 .5 1.1 .5 -.3 .5 -.7 .5 .7 .5 -1.5 .5 -.2 .5 1.3 .5 .3 .5 .2 .5 .1 .5 -.5 .5 1.3 .5 -.2 .5 .8 .5 -.2 .5 -.7 .5 .9 .5 0 .5 -.1 .5 -.8 .5 -.2 .5 .8 .5 -.5 .5 -.1 .5 .5 .5 -.1 .5 -.3 .5 -.4 .5 .8 .5 -1.3 .5 .6 .5 .2 .5 -.8 .5 .3 .5 .8 .5 -.4 .5 -.5 .5 1.2 .5 -.8 .5 -.1 .5 .7 .5 -1.7 .5 .4 .5 -.2 .5 1.1 .5 -1 .5 1.6 .5 -.9 .5 -.1 .5 .4 .5 -.4 .5 -.3 .5 .3 .5 .4 .5 -.5 .5 .6 .5 -.4 .5 .2 .5 .1 .5 .7 .5 .4 .5 -.3 .5 -.9 .5 -.3 .5 .8 .5 .2 .5 -.2 .5 -.7 .5 .5 .5 -.2 .5 .8 .5 0 .5 -.2 .5 -.2 .5 1 .5 -.7 .5 .2 .5 -.2 .5 0 .5 .1 .5 -.8 .5 -.1 .5 .5 .5 -1.8 .5 1.6 .5 0 .5 .7 .5 -.1 .5 -.1 .5 -.4 .5 .5 .5 -.1 .5 .2 .5 .1 .5 -.6 .5 .5 .5 -.6 .5 .3 .5 -.2 .5 .3 .5 -.7 .5 .7 .5 -1 .5 -.2 .5 .7 .5 -.9 .5 .8 .5 0 .5 -.1 .5 .1 .5 -.1 .5 .5 .5 -.7 .5 -.8 .5 .8 .5 .7 .5 .1 .5 0 .5 -.3 .5 -.3 .5 1.2 .5 -1.1 .5 -.3 .5 -.7 .5 1.9 .5 -.9 .5 -1 .5 1.3 .5 -.1 .5 -1.1 .5 1.2 .5 -.3 .5 .4 .5 .4 .5 -.8 .5 1.3 .5 -1.1 .5 -.3 .5 .8 .5 -.9 .5 .1 .5 .5 .5 -.9 .5 -.3 .5 .7 .5 -.2 .5 -.4 .5 .7 .5 -1 .5 .9 .5 -.9 .5 .7 .5 -.7 .5 .9 .5 -.2 .5 -.1 .5 .4 .5 0 .5 .6 .5 -.6 .5 .5 .5 -.3 .5 -.1 .5 .1 .5 -.3 .5 .7 .5 -.2 .5 .1 .5 -1 .5 .5 .5 .8 .5 -.1 .5 -.7 .5 .1 .5 .1 .5 .5 .5 .3 .5 -.5 .5 .1 .5 0 .5 .2 .5 .7 .5 -1.1 .5 .6 .5 -.8 .5 0 .5 -.3 .5 .5 .5 .9 .5 .1 .5 -.5 .5 -.4 .5 .5 .5 -1 .5 -.1 .5 .2 .5 .4 .5 -.6 .5 .6 .5 1.2 .5 -.8 .5 0 .5 -.2 .5 .6 .5 -.2 .5 -.3 .5 -.2 .5 -.9 .5 .4 .5 .6 .5 0 .5 .2 .5 0 .5 1.2 .5 -.3 .5 -.9 .5 .8 .5 -.1 .5 -.2 .5 -.1 .5 .3 .5 .7 .5 -1.1 .5 .2 .5 .1 .5 -.7 .5 .8 .5 -.5 .5 .5 .5 0 .5 .5 .5 -1.1 .5 -.2 .5 .3 .5 .3 .5 -.9 .5 0 .5 0 .5 -.1 .5 -.4 .5 -.1 .5 0 .5 .2 .5 .2 .5 -.6 .5 0 .5 .2 .5 -.2 .5 0 .5 -.7 .5 1.3 .5 -.9 .5 .1 .5 -.2 .5 .7 .5 .3 .5 -.4 .5 .1 .5 0 .5 1.1 .5 -.7 .5 -.4 .5 .3 .5 .4 .5 -.3 .5 .1 .5 0 .5 -.1 .5 .3 .5 .5 .5 -.5 .5 -.4 .5 -.2 .5 .3 .5 -.1 .5 -.1 .5 .6 .5 -.1 .5 .4 .5 -.2 .5 -.4 .5 .6 .5 -.3 .5 .4 .5 -1.1 .5 .2 .5 .1 .5 .6 .5 -.5 .5 -.9 .5 -.1 .5 .3 .5 -1.3 .5 -.2 .5 -.4 .5 -.8 .5 -.5 .5 -.4 .5 -.5 .5 -.7 .5 1.5 .5 .5 .5 -.1 .5 1 .5 .2 .5 1.8 .5 -.3 .5 .8 .5 .4 .5 .6 .5 -.3 .5 -.1 .5 .4 .5 .2 .5 -.7 .5 .1 .5 -.7 .5 1.1 .5 -1 .5 .6 .5 -.1 .5 -.1 .5 .1 .5 -.7 .5 .5 .5 -.3 .5 .3 .5 -.2 .5 1.3 .5 -.9 .5 .4 .5 -.7 .5 1.1 .5 -.8 .5 -.1 .5 -.1 .5 -.5 .5 -.3 .5 .9 .5 -.5 .5 .3 .5 1 .5 -.9 .5 1 .5 -.6 .5 -.5 .5 .8 .5 .3 .5 -.1 .5 -.6 .5 -.1 .5 .9 .5 .5 .5 0 .5 -.8 .5 .1 .5 .3 .5 .4 .5 -.2 .5 -.1 .5 -.2 .5 -1.2 .5 .5 .5 .4 .5 -.8 .5 1.5 .5 -1.2 .5 .6 .5 .2 .5 .1 .5 -.9 .5 .4 .5 .7 .5 -.6 .5 .3 .5 -1.4 .5 1.1 .5 -.1 .5 -.1 .5 -.6 .5 .5 .5 .2 .5 0 .5 -.3 .5 .9 .5 -.1 .5 -.6 .5 .6 .5 -1.1 .5 .5 .5 .5 .5 -.5 .5 -.3 .5 .2 .5 -.3 .5 -.2 .5 -.1 .5 .3 .5 0 .5 .2 .5 -.5 .5 .5 .5 .3 .5 -.6 .5 .9 .5 -1 .5 -.1 .5 0 .5 -.4 .5 -.2 .5 .1 .5 .4 .5 -.2 .5 .9 .5 -.6 .5 -.1 .5 0 .5 .5 .5 -.1 .5 .1 .5 .2 .5 .3 .5 -1.1 .5 .6 .5 -.3 .5 0 .5 -.4 .5 .4 .5 .1 .5 -.1 .5 -.3 .5 .7 .5 -.6 .5 -.1 .5 .9 .5 -.3 .5 -.7 .5 .3 .5 .2 .5 .3 .5 -.6 .5 -.3 .5 -.1 .5 0 .5 .6 .5 -.2 .5 .7 .5 -.3 .5 .8 .5 -.4 .5 .2 .5 0 .5 0 .5 .7 .5 -1 .5 0 .5 .1 .5 .3 .5 -.7 .5 .9 .5 -1 .5 .2 .5 .2 .5 0 .5 -.4 .5 .7 .5 .4 .5 -.7 .5 .3 .5 0 .5 .7 .5 -1 .5 .1 .5 -.4 .5 .2 .5 -.3 .5 -.1 .5 0 .5 .4 .5 -.5 .5 .6 .5 -.3 .5 .6 .5 -.8 .5 .1 .5 .7 .5 .4 .5 -.7 .5 -.7 .5 1.3 .5 -.3 .5 -.6 .5 .8 .5 -.1 .5 -.8 .5 .1 .5 .4 .5 0 .5 .3 .5 -.4 .5 .6 .5 -.9 .5 -.3 .5 .1 .5 0 .5 .3 .5 -.2 .5 .7 .5 .3 .5 .3 .5 -.8 .5 -.3 .5 .3 .5 .1 .5 -.3 .5 .3 .5 -.1 .5 -.1 .5 -.5 .5 .6 .5 -.6 .5 -.6 .5 .9 .5 .6 .5 -.3 .5 -.6 .5 .5 .5 .6 .5 -.3 .5 -.1 .5 -.4 .5 .4 .5 -.2 .5 .9 .5 -.5 .5 .3 .5 -1 .5 .7 .5 .2 .5 .3 .5 -.2 .5 -.9 .5 1.3 .5 -1.3 .5 -.1 .5 -.1 .5 -.3 .5 .2 .5 -.1 .5 .1 .5 0 .5 .2 .5 .4 .5 -.4 .5 -.2 .5 .8 .5 -.2 .5 .4 .5 -.6 .5 .4 .5 -.2 .5 -.2 .5 .4 .5 .1 .5 .2 .5 -.6 .5 .8 .5 .1 .5 -.3 .5 -.3 .5 -.1 .5 .7 .5 -.7 .5 .7 .5 -1.1 .5 -.1 .5 .9 .5 -.7 .5 .8 .5 -.6 .5 -.1 .5 .3 .5 .3 .5 -.2 .5 -.3 .5 -.1 .5 .4 .5 -.6 .5 -.1 .5 0 .5 1.4 .5 -.7 .5 -.5 .5 -.4 .5 .3 .5 -.9 .5 .5 .5 .5 .5 -.2 .5 -.4 .5 .5 .5 0 .5 .7 .5 -.1 .5 -.1 .5 .8 .5 -1 .5 .6 .5 -.2 .5 -.2 .5 -.2 .5 .4 .5 .3 .5 -1.2 .5 .6 .5 .3 .5 -.6 .5 .1 .5 .8 .5 -.6 .5 0 .5 .3 .5 0 .5 .1 .5 .1 .5 .3 .5 -.3 .5 .3 .5 -.6 .5 .5 .5 -.2 .5 .8 .5 -.4 .5 .4 .5 -.6 .5 -.3 .5 .6 .5 -.5 .5 -.5 .5 .3 .5 -.3 .5 .8 .5 -.6 .5 .3 .5 -.1 .5 .3 .5 -.2 .5 0 .5 0 .5 -.6 .5 .5 .5 -.5 .5 0 .5 .4 .5 -.7 .5 .5 .5 .4 .5 -.4 .5 .2 .5 -.6 .5 .4 .5 -.9 .5 .5 .5 .2 .5 .9 .5 .1 .5 -1.3 .5 .5 .5 -.1 .5 .8 .5 -.3 .5 -.5 .5 .3 .5 .1 .5 -.7 .5 .5 .5 -.2 .5 .1 .5 -.8 .5 .6 .5 -.9 .5 1 .5 -.4 .5 .8 .5 0 .5 -1.2 .5 1.1 .5 -.7 .5 .5 .5 -.3 .5 -.2 .5 .2 .5 0 .5 .8 .5 -.4 .5 -.3 .5 .7 .5 -.4 .5 .4 .5 -.5 .5 .3 .5 -.5 .5 0 .5 .3 .5 .2 .5 -.3 .5 -.1 .5 1 .5 -.9 .5 -.8 .5 1.2 .5 -.3 .5 -.3 .5 .9 .5 -.1 .5 -.5 .5 -.1 .5 .1 .5 .3 .5 -.8 .5 .8 .5 -.4 .5 0 .5 .4 .5 -.6 .5 .4 .5 -.2 .5 -1.1 .5 1 .5 .1 .5 -.1 .5 .5 .5 -.7 .5 .4 .5 0 .5 0 .5 -.8 .5 .5 .5 -.1 .5 .7 .5 -.7 .5 .4 .5 -.2 .5 -.5 .5 .1 .5 .6 .5 .2 .5 .4 .5 -.5 .5 -.3 .5 .4 .5 -.4 .5 .9 .5 -.6 .5 0 .5 .6 .5 -.5 .5 -.7 .5 .6 .5 -.4 .5 -.2 .5 .1 .5 -.2 .5 .6 .5 -.5 .5 .1 .5 .4 .5 -.5 .5 -.1 .5 .1 .5 -.2 .5 .2 .5 -.2 .5 .4 .5 -.4 .5 -.1 .5 .2 .5 -.6 .5 .8 .5 .4 .5 .5 .5 -.5 .5 .3 .5 -1.1 .5 1.1 .5 -.4 .5 .3 .5 -.6 .5 .3 .5 0 .5 -.1 .5 .2 .5 .7 .5 -1 .5 .4 .5 .3 .5 .2 .5 -.9 .5 -.1 .5 -.2 .5 .8 .5 -.1 .5 .1 .5 0 .5 -.5 .5 1 .5 0 .5 -.8 .5 .1 .5 -.1 .5 0 .5 .8 .5 -.2 .5 -.6 .5 1.1 .5 -.4 .5 0 .5 -.2 .5 .1 .5 .3 .5 1 .5 -1.3 .5 0 .5 .4 .5 -.3 .5 -.4 .5 1.1 .5 -1 .5 -.1 .5 .2 .5 .3 .5 .1 .5 .1 .5 -.2 .5 -.4 .5 .5 .5 -.6 .5 -.3 .5 .3 .5 .1 .5 -.6 .5 0 .5 .2 .5 -.2 .5 .2 .5 .4 .5 0 .5 -1.1 .5 1.3 .5 -.1 .5 -.9 .5 .7 .5 -1 .5 .9 .5 -.6 .5 .4 .5 0 .5 .3 .5 -.5 .5 1.1 .5 -.1 .5 0 .5 .4 .5 -.4 .5 .7 .5 -.2 .5 .1 .5 -1 .5 .3 .5 -.7 .5 .6 .5 -.4 .5 -.1 .5 .5 .5 -.4 .5 .3 .5 -.8 .5 -.1 .5 .3 .5 -.9 .5 .3 .5 .4 .5 -.6 .5 .8 .5 -.4 .5 .7 .5 -.4 .5 .7 .5 -1 .5 1 .5 -.9 .5 .9 .5 -.5 .5 -.7 .5 .8 .5 -.5 .5 .1 .5 0 .5 .2 .5 -.5 .5 .3 .5 -.5 .5 .1 .5 .4 .5 .2 .5 -.3 .5 -.1 .5 .3 .5 .1 .5 -.4 .5 1.3 .5 -1.1 .5 -.3 .5 .4 .5 .2 .5 -.2 .5 -.2 .5 .2 .5 .2 .5 -.3 .5 0 .5 .4 .5 .2 .5 -.3 .5 1.2 .5 -.3 .5 .3 .5 -.2 .5 -.7 .5 1.2 .5 -1.2 .5 .3 .5 .4 .5 -.3 .5 .4 .5 .1 .5 -.3 .5 .5 .5 -1.1 .5 .5 .5 0 .5 .3 .5 -.5 .5 -.9 .5 .7 .5 -.4 .5 .2 .5 0 .5 .2 .5 -.6 .5 .2 .5 .2 .5 -.2 .5 0 .5 -.9 .5 .6 .5 .2 .5 -.5 .5 .3 .5 -.3 .5 .4 .5 -.1 .5 -.4 .5 .5 .5 .1 .5 -.5 .5 .4 .5 0 .5 -.2 .5 .7 .5 -.6 .5 .3 .5 -.7 .5 .6 .5 -.4 .5 .6 .5 -.2 .5 .3 .5 .3 .5 -1.1 .5 .6 .5 -.1 .5 -.2 .5 -.1 .5 .2 .5 .2 .5 0 .5 .1 .5 -.3 .5 .3 .5 -.1 .5 0 .5 0 .5 -.3 .5 0 .5 -.6 .5 -.5 .5 .2 .5 .5 .5 -.2 .5 -.2 .5 .6 .5 -.2 .5 .2 .5 -.9 .5 .1 .5 .2 .5 .1 .5 .1 .5 -.4 .5 .3 .5 -.1 .5 -.3 .5 .4 .5 -.2 .5 .1 .5 -.4 .5 .1 .5 .1 .5 .3 .5 -.4 .5 -.2 .5 .4 .5 .8 .5 -.8 .5 -.3 .5 .2 .5 .2 .5 .2 .5 -.2 .5 .5 .5 -.3 .5 -.6 .5 .6 .5 -.6 .5 .5 .5 -.3 .5 -.8 .5 .1 .5 .5 .5 .2 .5 .3 .5 -.2 .5 .3 .5 -.2 .5 -.3 .5 -.3 .5 .7 .5 -.2 .5 -.1 .5 -.6 .5 .5 .5 -1 .5 .7 .5 -.2 .5 0 .5 -.9 .5 1.5 .5 -1 .5 .1 .5 0 .5 -.1 .5 -.5 .5 .7 .5 -.4 .5 0 .5 -.7 .5 .5 .5 -.2 .5 .2 .5 -.7 .5 -.5 .5 .5 .5 0 .5 .2 .5 -.2 .5 -.5 .5 .2 .5 -.4 .5 .4 .5 .5 .5 -1.3 .5 -.3 .5 -.3 .5 .1 .5 0 .5 -.3 .5 -.6 .5 .5 .5 .1 .5 .1 .5 -.3 .5 -.7 .5 .7 .5 -.5 .5 -.5 .5 .1 .5 -.2 .5 -.3 .5 -.7 .5 -.2 .5 -.2 .5 -.3 .5 -.2 .5 -.9 .5 .4 .5 -1.1 .5 .1 .5 -.5 .5 -1.3 .5 .1 .5 -.3 .5 -.4 .5 -.7 .5 -.4 .5 -.6 .5 -.5 .5 -.3 .5 -.1 .5 -.7 .5 -.2 .5 -.1 .5 0 .5 0 .5 .1 .5 .4 .5 0 .5 .4 .5 .2 .5 .6 .5 .1 .5 .3 .5 .5 .5 .4 .5 .6 .5 .1 .5 .9 .5 .1 .5 .4 .5 .3 .5 .4 .5 .8 .5 -.5 .5 .5 .5 .4 .5 .3 .5 0 .5 -.2 .5 1.2 .5 .2 .5 .4 .5 .1 .5 -.3 .5 .8 .5 -.3 .5 .3 .5 .5 .5 -.2 .5 -.5 .5 .3 .5 .4 .5 -.1 .5 -.2 .5 -.3 .5 .2 .5 .2 .5 .3 .5 .3 .5 .1 .5 -.8 .5 .5 .5 -.1 .5 .1 .5 .4 .5 -.1 .5 -.2 .5 .8 .5 -.5 .5 0 .5 .3 .5 .9 .5 -.2 .5 -.3 .5 .4 .5 -.3 .5 .6 .5 -.2 .5 -.7 .5 .7 .5 .3 .5 -.7 .5 .5 .5 0 .5 .3 .5 -.4 .5 .8 .5 -.1 .5 .6 .5 -.1 .5 -.1 .5 -.2 .5 .2 .5 .7 .5 -.1 .5 -.1 .5 .1 .5 -.1 .5 -.1 .5 .1 .5 0 .5 -.1 .5 .3 .5 .5 .5 -1.1 .5 .6 .5 -.2 .5 -.4 .5 .5 .5 .5 .5 -.9 .5 .6 .5 -.3 .5 .7 .5 0 .5 -.1 .5 -.1 .5 .3 .5 0 .5 -.7 .5 -.2 .5 .4 .5 .3 .5 -.3 .5 .6 .5 -.4 .5 0 .5 .4 .5 -.4 .5 .2 .5 .2 .5 0 .5 .6 .5 -.2 .5 -.2 .5 -.2 .5 .4 .5 0 .5 -.4 .5 -.2 .5 .5 .5 -.2 .5 0 .5 .2 .5 .3 .5 -.2 .5 0 .5 -.1 .5 -.2 .5 -.1 .5 .3 .5 -.2 .5 -.2 .5 0 .5 .1 .5 .1 .5 0 .5 .1 .5 .2 .5 -.2 .5 -.1 .5 1 .5 -.4 .5 .2 .5 -.8 .5 .2 .5 .3 .5 -.1 .5 -.4 .5 .2 .5 -.3 .5 -.4 .5 0 .5 -.1 .5 .2 .5 .4 .5 -.3 .5 .6 .5 -.2 .5 0 .5 -.5 .5 .3 .5 .3 .5 -.4 .5 .5 .5 .1 .5 -.1 .5 -.5 .5 .5 .5 -.4 .5 .7 .5 -.5 .5 0 .5 .1 .5 -.1 .5 .3 .5 -.1 .5 .4 .5 -.8 .5 .5 .5 .1 .5 -.1 .5 -.2 .5 0 .5 .4 .5 -.3 .5 -.4 .5 .1 .5 .4 .5 0 .5 -.1 .5 .2 .5 -.1 .5 .1 .5 -.3 .5 .2 .5 .4 .5 0 .5 .1 .5 .2 .5 -.8 .5 1 .5 .1 .5 -.1 .5 .1 .5 -.3 .5 .5 .5 -.1 .5 -.1 .5 .1 .5 .1 .5 -.4 .5 -.2 .5 .1 .5 .3 .5 -.1 .5 -.2 .5 .1 .5 .2 .5 -.4 .5 .1 .5 .4 .5 0 .5 -.2 .5 .1 .5 0 .5 .4 .5 -.4 .5 .1 .5 -.1 .5 -.2 .5 -.3 .5 .4 .5 .8 .5 -.9 .5 .2 .5 -.2 .5 .2 .5 -.7 .5 -.3 .5 -.3 .5 .8 .5 -.2 .5 -.8 .5 .7 .5 -.2 .5 .3 .5 -.1 .5 .4 .5 .4 .5 -.3 .5 .1 .5 0 .5 -.1 .5 0 .5 .4 .5 .2 .5 -.2 .5 -.1 .5 .2 .5 .1 .5 -.1 .5 -.3 .5 .4 .5 -.5 .5 .4 .5 -.4 .5 -.1 .5 .2 .5 -.2 .5 .3 .5 0 .5 -.1 .5 .2 .5 .3 .5 -.3 .5 -.1 .5 .2 .5 0 .5 -.5 .5 .4 .5 -.3 .5 .7 .5 -.6 .5 .2 .5 .2 .5 -.6 .5 .2 .5 .3 .5 .2 .5 -.3 .5 .4 .5 .2 .5 .1 .5 .3 .5 -.1 .5 -.2 .5 .4 .5 0 .5 -.4 .5 -.2 .5 .3 .5 -.1 .5 .2 .5 -.4 .5 .1 .5 -.1 .5 -.3 .5 .1 .5 -.5 .5 .1 .5 .3 .5 -.1 .5 .1 .5 .1 .5 -.3 .5 .7 .5 -.2 .5 .1 .5 -.7 .5 .2 .5 -.2 .5 .2 .5 .3 .5 0 .5 .2 .5 -.5 .5 .5 .5 -.5 .5 .4 .5 .2 .5 -.5 .5 .2 .5 .3 .5 .1 .5 -.5 .5 -.1 .5 .1 .5 .4 .5 0 .5 -.1 .5 .1 .5 -.1 .5 -.1 .5 .3 .5 -.8 .5 .2 .5 .1 .5 .4 .5 -.6 .5 1 .5 0 .5 0 .5 -.9 .5 .6 .5 -.2 .5 .3 .5 -.4 .5 .1 .5 -.4 .5 .6 .5 .2 .5 -.4 .5 -.6 .5 .5 .5 -.2 .5 .5 .5 -.2 .5 .3 .5 0 .5 0 .5 .2 .5 -.5 .5 .6 .5 -.4 .5 -.2 .5 .4 .5 -.2 .5 .1 .5 0 .5 -.5 .5 .3 .5 -.6 .5 .4 .5 -.1 .5 -.1 .5 -.1 .5 .6 .5 -.5 .5 .3 .5 .6 .5 0 .5 -.3 .5 -.3 .5 .5 .5 -.5 .5 0 .5 .1 .5 -.5 .5 -.2 .5 -.1 .5 .1 .5 0 .5 .2 .5 .4 .5 -.3 .5 -.1 .5 .4 .5 -.5 .5 .5 .5 -.2 .5 .2 .5 -.3 .5 0 .5 .1 .5 0 .5 .1 .5 0 .5 .2 .5 -.4 .5 .6 .5 -.5 .5 .7 .5 -.7 .5 .2 .5 .5 .5 -.3 .5 -.5 .5 .5 .5 -.2 .5 -.2 .5 .7 .5 -.3 .5 .5 .5 -.5 .5 .1 .5 .2 .5 -.4 .5 .1 .5 -.5 .5 .8 .5 .1 .5 -.1 .5 -.3 .5 -.4 .5 .7 .5 -.6 .5 .2 .5 .5 .5 -.3 .5 .1 .5 .4 .5 -.7 .5 .4 .5 -.6 .5 .2 .5 -.1 .5 .1 .5 -.1 .5 -.5 .5 .2 .5 .3 .5 -.5 .5 .7 .5 .1 .5 -.7 .5 0 .5 .9 .5 -.2 .5 -.4 .5 0 .5 .1 .5 .2 .5 -.4 .5 .7 .5 -.5 .5 .1 .5 .2 .5 .2 .5 -.2 .5 .1 .5 .4 .5 -.4 .5 0 .5 .3 .5 -.1 .5 -.2 .5 -.2 .5 .3 .5 0 .5 0 .5 -.4 .5 -.2 .5 0 .5 1 .5 -.8 .5 -.1 .5 0 .5 -.3 .5 .1 .5 .4 .5 .1 .5 -.5 .5 .2 .5 .1 .5 .2 .5 0 .5 .1 .5 0 .5 0 .5 -.1 .5 .4 .5 .1 .5 -.6 .5 .5 .5 -.4 .5 .4 .5 -.1 .5 -.8 .5 .2 .5 .6 .5 0 .5 0 .5 -.3 .5 .3 .5 -.7 .5 .8 .5 -.2 .5 -.2 .5 .3 .5 -.6 .5 .4 .5 .1 .5 -.2 .5 .2 .5 -.2 .5 .6 .5 -1.1 .5 .5 .5 .2 .5 0 .5 .2 .5 -.5 .5 -.3 .5 .1 .5 -.2 .5 .1 .5 -.2 .5 -.3 .5 .8 .5 -.6 .5 .5 .5 .1 .5 -.2 .5 .4 .5 -.6 .5 .2 .5 .2 .5 .3 .5 -.5 .5 -.1 .5 .3 .5 .1 .5 -.6 .5 .6 .5 .1 .5 -.3 .5 .1 .5 .1 .5 -.6 .5 .4 .5 -.4 .5 .2 .5 0 .5 -.1 .5 -.3 .5 0 .5 -.2 .5 .2 .5 0 .5 .4 .5 -.1 .5 0 .5 -.4 .5 .1 .5 .2 .5 .4 .5 -.5 .5 .2 .5 .5 .5 -.1 .5 .3 .5 -.1 .5 -.3 .5 -.1 .5 0 .5 0 .5 .3 .5 -.4 .5 -.1 .5 .4 .5 -.3 .5 .4 .5 -.3 .5 -.3 .5 .5 .5 -.3 .5 .2 .5 .1 .5 .3 .5 .1 .5 -.3 .5 .1 .5 -.4 .5 0 .5 .2 .5 -.1 .5 -.5 .5 .2 .5 -.3 .5 .3 .5 -.6 .5 .6 .5 -.3 .5 -.1 .5 .3 .5 -.1 .5 -.2 .5 .1 .5 .7 .5 -.2 .5 .3 .5 .3 .5 -.5 .5 .1 .5 -.3 .5 .5 .5 -.4 .5 -.1 .5 .3 .5 .2 .5 -.1 .5 -.5 .5 1 .5 -.2 .5 -.2 .5 .2 .5 -.3 .5 .2 .5 .1 .5 -.2 .5 .4 .5 -.5 .5 .2 .5 -.1 .5 -.4 .5 .1 .5 -.1 .5 .6 .5 -.3 .5 -.5 .5 .2 .5 -.2 .5 .7 .5 -.8 .5 .8 .5 -.4 .5 .3 .5 -.2 .5 -.2 .5 .9 .5 0 .5 0 .5 .1 .5 .2 .5 -.6 .5 .1 .5 .2 .5 -.4 .5 0 .5 -.1 .5 .5 .5 -.5 .5 .5 .5 -.1 .5 0 .5 -.1 .5 .3 .5 -.6 .5 .6 .5 -.6 .5 .6 .5 -.2 .5 -.1 .5 .2 .5 0 .5 -.2 .5 .1 .5 -.6 .5 .7 .5 -.4 .5 .3 .5 -.2 .5 .2 .5 -.4 .5 -.1 .5 .3 .5 -.2 .5 -.2 .5 .3 .5 -.4 .5 0 .5 .2 .5 -.1 .5 0 .5 .1 .5 -.4 .5 .3 .5 0 .5 0 .5 -.1 .5 -.4 .5 .7 .5 -.7 .5 .3 .5 .2 .5 .5 .5 -.8 .5 .5 .5 -.1 .5 .1 .5 -.4 .5 .4 .5 -.4 .5 -.1 .5 0 .5 .1 .5 -.5 .5 .2 .5 -.1 .5 -.1 .5 -.2 .5 .4 .5 .2 .5 0 .5 .4 .5 -.2 .5 .3 .5 -.1 .5 0 .5 .2 .5 -.4 .5 -.3 .5 .4 .5 -.2 .5 -.4 .5 0 .5 .4 .5 .1 .5 -.2 .5 .4 .5 -.3 .5 .6 .5 -.8 .5 .8 .5 0 .5 -.2 .5 -.4 .5 .3 .5 -.4 .5 .5 .5 -.7 .5 .4 .5 -.3 .5 -.3 .5 .5 .5 .5 .5 -.2 .5 -.4 .5 .2 .5 .1 .5 .3 .5 -.4 .5 .4 .5 -.4 .5 .1 .5 -.1 .5 0 .5 .1 .5 -.1 .5 .6 .5 -1 .5 .9 .5 -.2 .5 -.1 .5 .3 .5 0 .5 -.5 .5 -.1 .5 1 .5 -.4 .5 -.1 .5 .6 .5 -.7 .5 0 .5 .4 .5 -.2 .5 -.1 .5 -.2 .5 .3 .5 -.4 .5 .7 .5 -.7 .5 .1 .5 .1 .5 -.2 .5 .7 .5 -.7 .5 .4 .5 -.5 .5 1 .5 -.6 .5 .1 .5 -.2 .5 .2 .5 -.4 .5 .2 .5 .2 .5 -.5 .5 .2 .5 .5 .5 -.2 .5 -.2 .5 .2 .5 -.3 .5 .4 .5 -.5 .5 -.2 .5 .2 .5 .6 .5 -.7 .5 .3 .5 .1 .5 -.3 .5 .3 .5 -.2 .5 .2 .5 -.2 .5 .3 .5 -.5 .5 -.5 .5 1.1 .5 -.2 .5 -.4 .5 0 .5 -.2 .5 .7 .5 -.8 .5 .5 .5 0 .5 -.4 .5 .7 .5 -.8 .5 .5 .5 -.2 .5 .1 .5 -.5 .5 .5 .5 .3 .5 -.5 .5 .5 .5 .2 .5 -.1 .5 -.6 .5 .6 .5 -.6 .5 .5 .5 -.8 .5 .3 .5 -.3 .5 1 .5 -.3 .5 -.6 .5 .1 .5 .4 .5 -.1 .5 -.3 .5 0 .5 0 .5 -.3 .5 -.4 .5 .2 .5 .4 .5 .1 .5 .1 .5 .1 .5 -.2 .5 .1 .5 .5 .5 -.6 .5 .1 .5 .6 .5 -.2 .5 -.4 .5 -.3 .5 0 .5 .5 .5 -.3 .5 .3 .5 -.7 .5 .7 .5 -.4 .5 .2 .5 .4 .5 -.4 .5 .1 .5 -.6 .5 0 .5 -.1 .5 .7 .5 -.5 .5 .4 .5 .4 .5 -.7 .5 .3 .5 -.4 .5 .5 .5 -.2 .5 .2 .5 -.1 .5 .1 .5 -.7 .5 .1 .5 .5 .5 -.1 .5 -.2 .5 -.1 .5 0 .5 -.2 .5 .4 .5 -.4 .5 .3 .5 -.3 .5 .8 .5 -.2 .5 0 .5 0 .5 -.2 .5 .5 .5 .2 .5 .2 .5 -.4 .5 -.4 .5 .1 .5 .2 .5 -.3 .5 -.2 .5 .7 .5 -.6 .5 .1 .5 .6 .5 -.8 .5 .5 .5 0 .5 -.1 .5 -.1 .5 0 .5 .2 .5 -.3 .5 .6 .5 .1 .5 -1.2 .5 .7 .5 -.3 .5 0 .5 0 .5 -.2 .5 .2 .5 -.3 .5 .5 .5 .2 .5 -.1 .5 .3 .5 -.4 .5 .4 .5 .1 .5 -.5 .5 .2 .5 -.2 .5 0 .5 .7 .5 -.5 .5 -.1 .5 .2 .5 .2 .5 .8 .5 -.4 .5 -.4 .5 .2 .5 0 .5 -.2 .5 .1 .5 0 .5 .2 .5 .1 .5 -.6 .5 .1 .5 .1 .5 .3 .5 -.6 .5 .1 .5 .4 .5 -.5 .5 -.2 .5 .8 .5 -.3 .5 .4 .5 -.3 .5 -.1 .5 .1 .5 1 .5 0 .5 -.2 .5 .1 .5 -.6 .5 .1 .5 -.7 .5 .5 .5 .2 .5 -.2 .5 .6 .5 -.8 .5 .3 .5 -.2 .5 .1 .5 -.1 .5 .1 .5 -.4 .5 .6 .5 -.3 .5 -.2 .5 -.1 .5 .3 .5 -.2 .5 .1 .5 -.2 .5 .4 .5 0 .5 -.5 .5 .6 .5 -.3 .5 -.1 .5 .1 .5 -.3 .5 .2 .5 -.2 .5 .3 .5 -.4 .5 .1 .5 .2 .5 0 .5 -.6 .5 .9 .5 -.5 .5 -.1 .5 .3 .5 -.5 .5 .1 .5 .3 .5 -.2 .5 .8 .5 -.4 .5 .1 .5 .1 .5 .2 .5 0 .5 -.4 .5 .5 .5 -.1 .5 .3 .5 -.6 .5 0 .5 -.2 .5 -.2 .5 .3 .5 -.3 .5 .4 .5 .4 .5 -.1 .5 .2 .5 -.8 .5 .6 .5 -.2 .5 0 .5 .2 .5 -.2 .5 0 .5 -.3 .5 .8 .5 -.6 .5 .3 .5 -.4 .5 0 .5 .4 .5 -.2 .5 .3 .5 -.3 .5 .1 .5 0 .5 -.7 .5 .4 .5 -.9 .5 .2 .5 -.1 .5 -.2 .5 .2 .5 -.1 .5 -.2 .5 .8 .5 -.5 .5 .1 .5 -.1 .5 .4 .5 -.2 .5 -.2 .5 .6 .5 -.4 .5 -.2 .5 -.7 .5 .6 .5 0 .5 0 .5 -.1 .5 .6 .5 .2 .5 -.4 .5 -.2 .5 0 .5 .4 .5 -.2 .5 .1 .5 .3 .5 0 .5 -.2 .5 -.3 .5 .7 .5 -.1 .5 -.3 .5 .4 .5 .3 .5 .4 .5 -.4 .5 .2 .5 -.2 .5 .2 .5 -.1 .5 .1 .5 -.6 .5 .3 .5 -.6 .5 .2 .5 0 .5 0 .5 .1 .5 .1 .5 .2 .5 -.2 .5 -.1 .5 0 .5 .2 .5 -.4 .5 .6 .5 -.4 .5 -.3 .5 -.5 .5 .4 .5 0 .5 .1 .5 0 .5 .4 .5 -.8 .5 .2 .5 .2 .5 .2 .5 -.6 .5 .7 .5 -.5 .5 .1 .5 .2 .5 .2 .5 -.1 .5 .1 .5 -.2 .5 .2 .5 -.3 .5 .2 .5 .1 .5 -.1 .5 .2 .5 -.3 .5 0 .5 .4 .5 -.3 .5 .1 .5 0 .5 .1 .5 -.6 .5 .6 .5 -.8 .5 .5 .5 -.5 .5 .3 .5 0 .5 .2 .5 .1 .5 -.4 .5 .3 .5 -.1 .5 .2 .5 -.3 .5 -.2 .5 .2 .5 .2 .5 -.8 .5 .7 .5 -.2 .5 .3 .5 -.3 .5 -.1 .5 .5 .5 -.3 .5 -.1 .5 .1 .5 .3 .5 0 .5 .1 .5 -.4 .5 -.4 .5 .8 .5 -.3 .5 -.3 .5 .2 .5 .1 .5 -.1 .5 .4 .5 .1 .5 0 .5 .1 .5 0 .5 -.5 .5 .2 .5 .4 .5 -.2 .5 0 .5 -.2 .5 .3 .5 -.2 .5 .2 .5 .1 .5 .3 .5 -.2 .5 -.2 .5 -.2 .5 .8 .5 -.1 .5 -.7 .5 .5 .5 .2 .5 -.4 .5 .1 .5 -.4 .5 .4 .5 -.2 .5 -.5 .5 .2 .5 -.4 .5 .5 .5 -.5 .5 .4 .5 -.3 .5 0 .5 .5 .5 -.2 .5 0 .5 0 .5 -.4 .5 .5 .5 -.3 .5 .3 .5 .2 .5 -.1 .5 -.3 .5 -.3 .5 .7 .5 -.5 .5 .1 .5 -.6 .5 .3 .5 .1 .5 -.3 .5 .4 .5 -.2 .5 .3 .5 -.4 .5 .7 .5 .1 .5 0 .5 -.3 .5 -.2 .5 .2 .5 .2 .5 -.3 .5 .1 .5 .4 .5 -.6 .5 -.3 .5 .7 .5 -.1 .5 .3 .5 -.3 .5 0 .5 .1 .5 0 .5 .4 .5 -.9 .5 .2 .5 -.1 .5 -.2 .5 1 .5 -.6 .5 .1 .5 .2 .5 -.4 .5 .4 .5 .2 .5 -.4 .5 .7 .5 -.2 .5 .1 .5 -.3 .5 -.4 .5 -.2 .5 .6 .5 -.1 .5 .1 .5 -.5 .5 1 .5 -.8 .5 -.1 .5 .5 .5 -.4 .5 .5 .5 -.2 .5 -.5 .5 -.3 .5 .5 .5 .1 .5 -.4 .5 .5 .5 -.2 .5 -.1 .5 .2 .5 -.2 .5 .2 .5 -1 .5 .4 .5 .6 .5 .1 .5 .3 .5 -.2 .5 .2 .5 -.2 .5 -.3 .5 .1 .5 .2 .5 -.2 .5 -.3 .5 .6 .5 -.7 .5 .2 .5 -.5 .5 .3 .5 -.2 .5 -.2 .5 .9 .5 -.5 .5 .1 .5 .2 .5 .2 .5 -.4 .5 .4 .5 -.2 .5 -.6 .5 .5 .5 -.6 .5 .5 .5 -.2 .5 .2 .5 .2 .5 0 .5 .3 .5 0 .5 .3 .5 -.6 .5 .2 .5 -.1 .5 -.2 .5 .3 .5 .2 .5 -.2 .5 0 .5 -.1 .5 -.2 .5 -.2 .5 .2 .5 -.1"/>
</g>
<rect x="1860.1" y="35.5" width="5.9" height="1253.7" fill="#000"/>
<rect x="1861.1" y="1289" width="3.9" height="2" fill="#000"/>
<rect x="170" y="986.9" width="1700" height="1" fill="#fff"/>
</svg>
</body></html>
